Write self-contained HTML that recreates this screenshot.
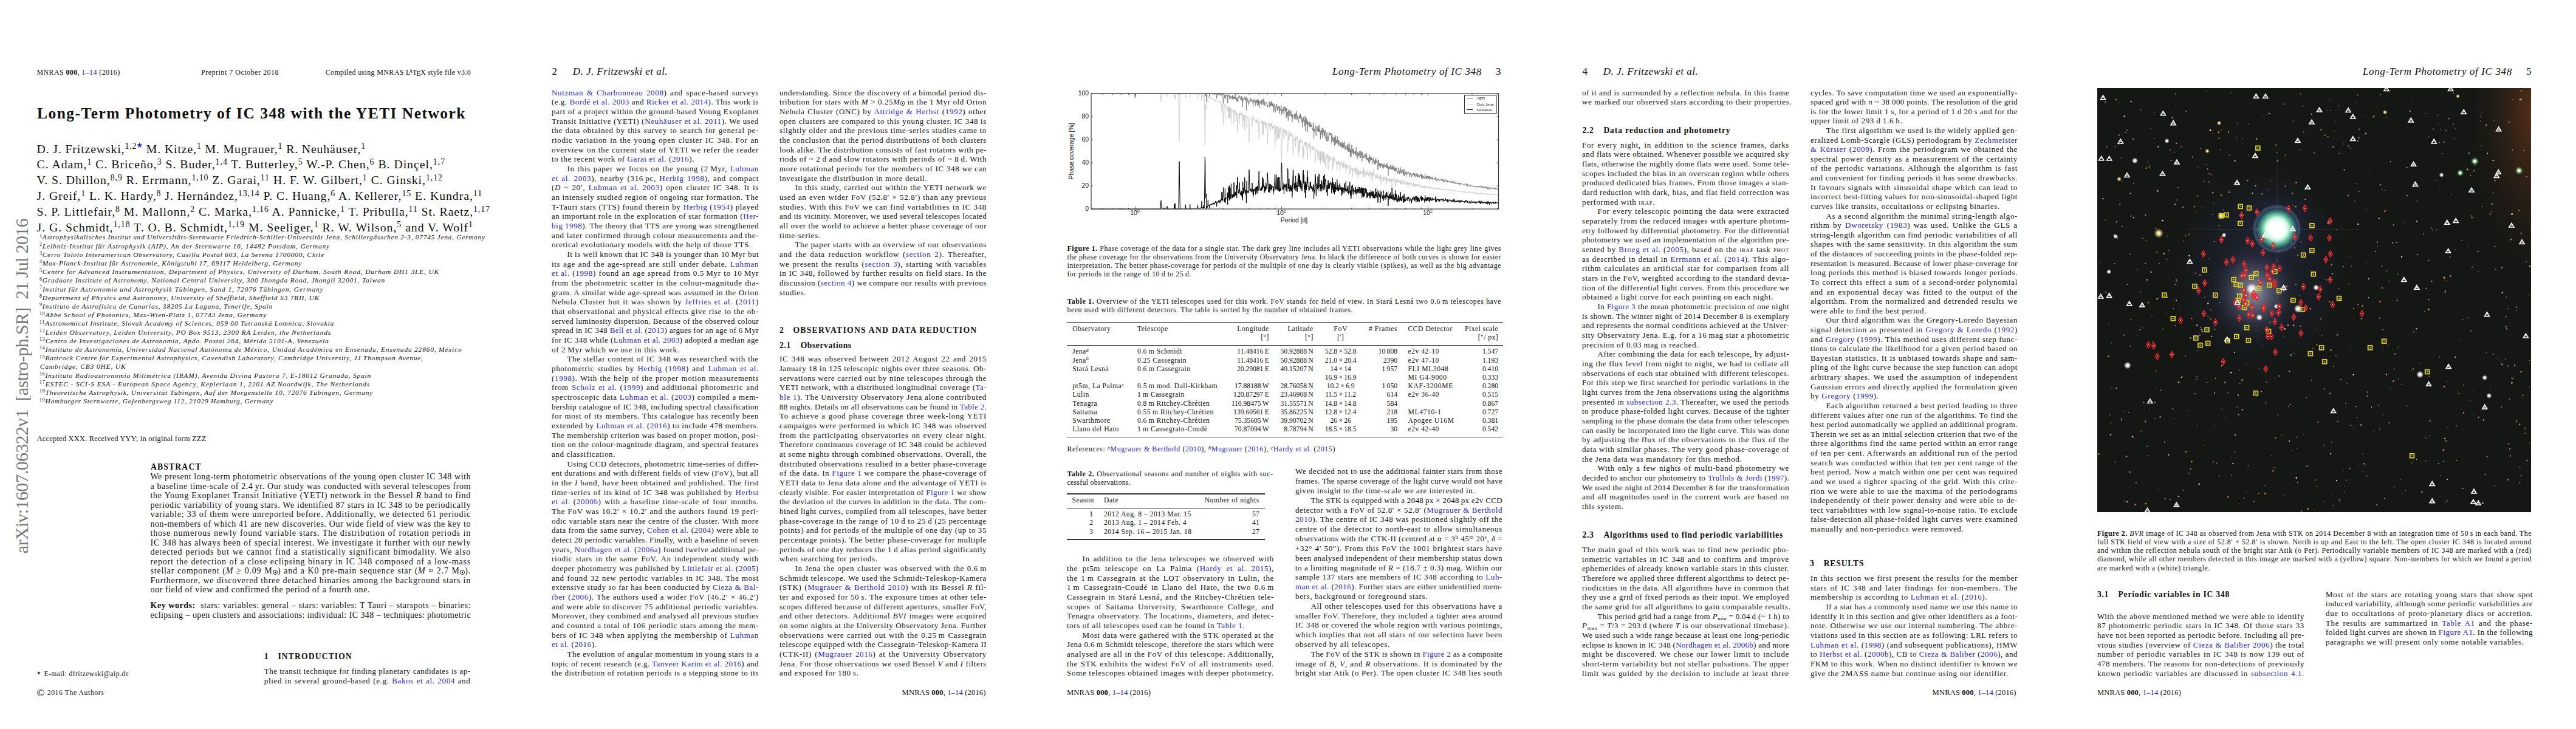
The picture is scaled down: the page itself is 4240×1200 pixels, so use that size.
<!DOCTYPE html>
<html><head><meta charset="utf-8"><title>Long-Term Photometry of IC 348 with the YETI Network</title><style>html,body{margin:0;padding:0;background:#fff}
body{position:relative;width:4240px;height:1200px;overflow:hidden;font-family:"Liberation Serif",serif;color:#111}
body>div{position:absolute;white-space:nowrap;line-height:1}
.j{text-align:justify;text-align-last:justify}
.k{color:#2626cc}
.b{font-size:13px}
.ab{font-size:14px}
.cap{font-size:11.9px}
.tb{font-size:11.6px}
.tn{font-size:11.6px}
.af{font-size:11.4px;font-style:italic}
.af sup{font-style:normal}
.au{font-size:19.8px}
.ti{font-size:25.5px;font-weight:bold}
.rh{font-size:17px}
.h1{font-size:13.6px;font-weight:bold}
.h2{font-size:13.6px;font-weight:bold}
.sm{font-size:12px}
.sm2{font-size:12.4px}
.fn{font-size:11.6px}
.ft{font-size:12.6px}
sup{font-size:70%;vertical-align:0;position:relative;top:-0.45em;line-height:0}
sub{font-size:70%;vertical-align:0;position:relative;top:0.25em;line-height:0}
.bl{color:#2626cc}
.sc{font-variant:small-caps}
sup.la{font-size:72%;top:-0.3em;margin-left:-0.3em;margin-right:-0.1em}
sub.le{font-size:100%;top:0.2em;margin-left:-0.1em;margin-right:-0.1em}
.arx{font-size:29.8px;color:#7a7a7a}
.ax{font-family:"Liberation Sans",sans-serif;font-size:10.4px;color:#111;line-height:1}
sup.e{font-size:70%;top:-0.5em}
.sun{display:inline-block;width:0.42em;height:0.42em;border:0.07em solid currentColor;border-radius:50%;background:radial-gradient(circle,currentColor 0 18%,transparent 26%);vertical-align:-0.12em;margin-left:0.04em}
.gs{display:inline-block;position:relative}
.gs span{position:absolute;left:0;top:0.38em;font-size:0.8em}
svg.star{width:0.55em;height:0.55em;vertical-align:0.55em}
sup svg.star{vertical-align:0.1em;width:0.7em;height:0.7em}
.fn svg.star{vertical-align:0.1em;width:0.5em;height:0.5em}
</style></head><body>
<div style="left:1756.4px;top:529.85px;width:717.6px;height:1.10px;background:#333"></div>
<div style="left:1756.4px;top:567.65px;width:717.6px;height:1.10px;background:#333"></div>
<div style="left:1756.4px;top:718.85px;width:717.6px;height:1.10px;background:#333"></div>
<div style="left:1756.4px;top:812.45px;width:325.6px;height:1.10px;background:#333"></div>
<div style="left:1756.4px;top:835.85px;width:325.6px;height:1.10px;background:#333"></div>
<div style="left:1756.4px;top:887.45px;width:325.6px;height:1.10px;background:#333"></div>
<svg width="670.5" height="190.0" viewBox="0 0 670.5 190.0" style="position:absolute;left:1795.5px;top:154.0px;overflow:visible"><polyline fill="none" stroke="#cccccc" stroke-width="0.90" stroke-linejoin="miter" points="0.0,0.0 0.4,0.0 0.8,0.0 1.2,0.0 1.5,0.0 1.9,0.0 2.3,0.0 2.7,0.0 3.1,0.0 3.5,0.0 3.8,0.0 4.2,0.0 4.6,0.0 5.0,0.0 5.4,0.0 5.8,0.0 6.2,0.0 6.5,0.0 6.9,0.0 7.3,0.0 7.7,0.0 8.1,0.0 8.5,0.0 8.8,0.0 9.2,0.0 9.6,0.0 10.0,0.0 10.4,0.0 10.8,0.0 11.2,0.0 11.5,0.0 11.9,0.0 12.3,0.0 12.7,0.0 13.1,0.0 13.5,0.0 13.8,0.0 14.2,0.0 14.6,0.0 15.0,0.0 15.4,0.0 15.8,0.0 16.2,0.0 16.5,0.0 16.9,0.0 17.3,0.0 17.7,0.0 18.1,0.0 18.5,0.0 18.8,0.0 19.2,0.0 19.6,0.0 20.0,0.0 20.4,0.0 20.8,0.0 21.2,0.0 21.5,0.0 21.9,0.0 22.3,0.0 22.7,0.0 23.1,0.0 23.5,0.0 23.9,0.0 24.2,0.0 24.6,0.0 25.0,0.0 25.4,0.0 25.8,0.0 26.2,0.0 26.5,0.0 26.9,0.0 27.3,0.0 27.7,0.0 28.1,0.0 28.5,0.0 28.9,0.0 29.2,0.0 29.6,0.0 30.0,0.0 30.4,0.0 30.8,0.0 31.2,0.0 31.5,0.0 31.9,0.0 32.3,0.0 32.7,0.0 33.1,0.0 33.5,0.0 33.9,0.0 34.2,0.0 34.6,0.0 35.0,0.0 35.4,0.0 35.8,0.0 36.2,0.0 36.5,0.0 36.9,0.0 37.3,0.0 37.7,0.0 38.1,0.0 38.5,0.0 38.9,0.0 39.2,0.0 39.6,0.0 40.0,0.0 40.4,0.0 40.8,0.0 41.2,0.0 41.5,0.0 41.9,0.0 42.3,0.0 42.7,0.0 43.1,0.0 43.5,0.0 43.9,0.0 44.2,0.0 44.6,0.0 45.0,0.0 45.4,0.0 45.8,0.0 46.2,0.0 46.5,0.0 46.9,0.0 47.3,0.0 47.7,0.0 48.1,0.0 48.5,0.0 48.9,0.0 49.2,0.0 49.6,0.0 50.0,0.0 50.4,0.0 50.8,0.0 51.2,0.0 51.5,0.0 51.9,0.0 52.3,0.0 52.7,0.0 53.1,0.0 53.5,0.0 53.9,0.0 54.2,0.0 54.6,0.0 55.0,0.0 55.4,0.0 55.8,0.0 56.2,0.0 56.5,0.0 56.9,0.0 57.3,0.0 57.7,0.0 58.1,0.0 58.5,0.0 58.9,0.0 59.2,0.0 59.6,0.0 60.0,0.0 60.4,0.0 60.8,0.0 61.2,0.0 61.5,0.0 61.9,0.0 62.3,0.0 62.7,0.0 63.1,0.0 63.5,0.0 63.9,0.0 64.2,0.0 64.6,0.0 65.0,0.0 65.4,0.0 65.8,0.0 66.2,0.0 66.5,0.0 66.9,0.0 67.3,0.0 67.7,0.0 68.1,0.0 68.5,0.0 68.9,0.0 69.2,0.0 69.6,0.0 70.0,0.0 70.4,0.0 70.8,0.0 71.2,0.0 71.6,0.0 71.9,2.1 72.3,7.1 72.7,6.8 73.1,1.8 73.5,0.0 73.9,0.0 74.2,0.0 74.6,0.0 75.0,0.0 75.4,0.0 75.8,0.0 76.2,0.0 76.6,0.0 76.9,0.0 77.3,0.0 77.7,0.0 78.1,0.0 78.5,0.0 78.9,0.0 79.2,0.0 79.6,0.0 80.0,0.0 80.4,0.0 80.8,0.0 81.2,0.0 81.6,0.0 81.9,0.0 82.3,0.0 82.7,0.0 83.1,0.0 83.5,0.0 83.9,0.0 84.2,0.0 84.6,0.0 85.0,0.0 85.4,0.0 85.8,0.0 86.2,0.0 86.6,0.0 86.9,0.0 87.3,0.0 87.7,0.0 88.1,0.0 88.5,0.0 88.9,0.0 89.2,0.0 89.6,0.0 90.0,0.0 90.4,0.0 90.8,0.0 91.2,0.0 91.6,0.0 91.9,0.0 92.3,0.0 92.7,0.0 93.1,0.0 93.5,0.0 93.9,0.0 94.2,0.0 94.6,0.0 95.0,0.0 95.4,0.0 95.8,0.0 96.2,0.0 96.6,0.0 96.9,0.0 97.3,0.0 97.7,0.0 98.1,0.0 98.5,0.0 98.9,0.0 99.2,0.0 99.6,0.0 100.0,0.0 100.4,0.0 100.8,0.0 101.2,0.0 101.6,0.0 101.9,0.0 102.3,0.0 102.7,0.0 103.1,0.0 103.5,0.0 103.9,0.0 104.2,0.0 104.6,0.0 105.0,0.0 105.4,0.0 105.8,0.0 106.2,0.0 106.6,0.0 106.9,0.0 107.3,0.0 107.7,0.0 108.1,0.0 108.5,0.0 108.9,0.0 109.2,0.0 109.6,0.0 110.0,0.0 110.4,0.0 110.8,0.0 111.2,0.0 111.6,0.0 111.9,0.0 112.3,0.0 112.7,0.0 113.1,0.0 113.5,0.0 113.9,0.0 114.3,4.4 114.6,10.4 115.0,13.9 115.4,7.8 115.8,1.8 116.2,0.0 116.6,0.0 116.9,0.0 117.3,0.0 117.7,0.0 118.1,0.0 118.5,0.0 118.9,0.0 119.3,0.0 119.6,0.0 120.0,2.2 120.4,0.0 120.8,0.0 121.2,0.0 121.6,0.0 121.9,0.0 122.3,0.0 122.7,0.0 123.1,0.0 123.5,0.0 123.9,0.0 124.3,0.0 124.6,0.0 125.0,4.8 125.4,0.0 125.8,0.0 126.2,0.0 126.6,0.0 126.9,0.0 127.3,0.0 127.7,0.0 128.1,0.0 128.5,0.0 128.9,0.0 129.3,0.0 129.6,0.0 130.0,0.0 130.4,0.0 130.8,0.0 131.2,0.0 131.6,0.0 131.9,0.0 132.3,0.0 132.7,0.0 133.1,0.0 133.5,0.0 133.9,0.0 134.3,0.0 134.6,0.0 135.0,0.0 135.4,0.0 135.8,0.0 136.2,0.2 136.6,5.2 136.9,8.7 137.3,3.7 137.7,0.0 138.1,9.1 138.5,0.0 138.9,0.0 139.3,0.0 139.6,0.0 140.0,0.0 140.4,0.0 140.8,0.0 141.2,0.0 141.6,0.0 141.9,0.0 142.3,0.0 142.7,0.0 143.1,0.0 143.5,0.0 143.9,1.8 144.3,27.3 144.6,52.8 145.0,78.3 145.4,55.9 145.8,30.4 146.2,4.9 146.6,0.0 146.9,0.0 147.3,0.0 147.7,0.0 148.1,0.0 148.5,0.0 148.9,0.0 149.3,0.0 149.6,0.0 150.0,0.0 150.4,0.0 150.8,0.0 151.2,0.0 151.6,0.0 151.9,0.0 152.3,0.0 152.7,0.0 153.1,0.0 153.5,0.0 153.9,0.0 154.3,0.0 154.6,0.0 155.0,0.0 155.4,7.1 155.8,0.0 156.2,0.0 156.6,0.0 157.0,0.0 157.3,0.0 157.7,0.0 158.1,0.0 158.5,0.0 158.9,0.0 159.3,0.0 159.6,0.0 160.0,0.0 160.4,0.0 160.8,0.0 161.2,0.0 161.6,0.0 162.0,0.0 162.3,0.0 162.7,7.8 163.1,0.0 163.5,0.1 163.9,0.0 164.3,0.0 164.6,0.1 165.0,0.0 165.4,0.2 165.8,0.0 166.2,0.6 166.6,0.4 167.0,0.3 167.3,0.2 167.7,0.4 168.1,0.2 168.5,0.6 168.9,0.6 169.3,0.6 169.6,0.6 170.0,1.1 170.4,0.9 170.8,1.0 171.2,1.0 171.6,0.5 172.0,0.7 172.3,1.0 172.7,1.3 173.1,1.2 173.5,0.8 173.9,1.4 174.3,1.2 174.6,1.5 175.0,1.4 175.4,6.7 175.8,1.3 176.2,1.7 176.6,1.8 177.0,1.7 177.3,1.4 177.7,2.0 178.1,1.7 178.5,1.4 178.9,2.0 179.3,1.9 179.6,1.7 180.0,2.0 180.4,2.1 180.8,2.3 181.2,2.3 181.6,2.0 182.0,12.7 182.3,2.7 182.7,2.2 183.1,2.2 183.5,3.0 183.9,2.7 184.3,2.2 184.6,1.9 185.0,6.0 185.4,1.9 185.8,3.1 186.2,2.4 186.6,25.6 187.0,54.9 187.3,85.5 187.7,78.3 188.1,47.6 188.5,18.3 188.9,20.1 189.3,25.2 189.6,3.7 190.0,4.8 190.4,3.7 190.8,4.4 191.2,3.3 191.6,4.7 192.0,5.6 192.3,14.6 192.7,5.3 193.1,5.5 193.5,5.3 193.9,6.1 194.3,6.5 194.6,6.4 195.0,5.1 195.4,6.9 195.8,7.8 196.2,6.6 196.6,7.5 197.0,7.5 197.3,7.1 197.7,8.0 198.1,7.2 198.5,6.4 198.9,8.3 199.3,9.5 199.6,8.9 200.0,8.6 200.4,9.0 200.8,9.6 201.2,8.9 201.6,8.4 202.0,11.1 202.3,9.7 202.7,9.4 203.1,9.5 203.5,9.8 203.9,11.7 204.3,10.8 204.7,12.8 205.0,11.6 205.4,12.5 205.8,11.7 206.2,12.1 206.6,11.7 207.0,11.5 207.3,10.9 207.7,11.0 208.1,11.6 208.5,12.6 208.9,12.0 209.3,13.0 209.7,14.0 210.0,13.1 210.4,13.7 210.8,12.9 211.2,14.8 211.6,13.7 212.0,13.1 212.3,15.0 212.7,14.3 213.1,13.3 213.5,16.0 213.9,16.4 214.3,16.6 214.7,16.5 215.0,28.7 215.4,16.0 215.8,16.2 216.2,18.1 216.6,22.5 217.0,34.5 217.3,44.6 217.7,51.1 218.1,37.4 218.5,27.5 218.9,17.3 219.3,19.1 219.7,18.6 220.0,17.9 220.4,38.4 220.8,19.3 221.2,20.1 221.6,20.5 222.0,21.3 222.3,21.2 222.7,20.2 223.1,21.6 223.5,21.3 223.9,20.1 224.3,28.7 224.7,22.8 225.0,23.4 225.4,21.9 225.8,39.7 226.2,22.8 226.6,22.7 227.0,22.8 227.3,41.4 227.7,23.0 228.1,40.9 228.5,23.7 228.9,37.5 229.3,24.0 229.7,23.6 230.0,23.8 230.4,48.2 230.8,26.7 231.2,27.4 231.6,27.0 232.0,27.8 232.3,25.9 232.7,26.3 233.1,27.6 233.5,30.1 233.9,28.5 234.3,28.3 234.7,28.0 235.0,49.3 235.4,27.0 235.8,29.2 236.2,28.4 236.6,30.0 237.0,28.4 237.3,31.7 237.7,35.1 238.1,31.6 238.5,32.1 238.9,34.2 239.3,45.9 239.7,30.6 240.0,40.9 240.4,49.4 240.8,63.6 241.2,60.6 241.6,46.4 242.0,37.4 242.3,32.9 242.7,33.8 243.1,33.8 243.5,32.1 243.9,49.7 244.3,32.8 244.7,36.0 245.0,31.9 245.4,33.6 245.8,34.7 246.2,36.1 246.6,32.9 247.0,35.7 247.4,31.7 247.7,33.7 248.1,34.8 248.5,31.6 248.9,34.6 249.3,36.7 249.7,54.8 250.0,34.2 250.4,36.3 250.8,44.2 251.2,36.1 251.6,39.1 252.0,35.4 252.4,35.6 252.7,59.4 253.1,37.8 253.5,36.3 253.9,37.1 254.3,35.5 254.7,35.1 255.0,36.4 255.4,37.9 255.8,36.9 256.2,56.1 256.6,38.0 257.0,39.1 257.4,38.3 257.7,37.8 258.1,40.6 258.5,40.0 258.9,39.9 259.3,50.8 259.7,64.0 260.0,80.8 260.4,64.5 260.8,51.4 261.2,41.4 261.6,40.0 262.0,41.2 262.4,40.7 262.7,41.8 263.1,41.6 263.5,41.3 263.9,39.3 264.3,39.1 264.7,40.6 265.0,55.1 265.4,43.1 265.8,43.7 266.2,41.5 266.6,42.1 267.0,43.2 267.4,36.9 267.7,41.8 268.1,41.9 268.5,41.9 268.9,41.4 269.3,45.5 269.7,46.3 270.0,46.2 270.4,43.6 270.8,43.5 271.2,47.6 271.6,43.2 272.0,42.4 272.4,47.9 272.7,42.8 273.1,44.9 273.5,47.7 273.9,49.3 274.3,44.8 274.7,45.1 275.0,45.8 275.4,56.6 275.8,62.9 276.2,75.1 276.6,67.9 277.0,55.9 277.4,48.6 277.7,49.7 278.1,45.7 278.5,46.5 278.9,47.7 279.3,46.1 279.7,47.0 280.0,48.6 280.4,47.7 280.8,47.3 281.2,44.4 281.6,45.3 282.0,67.3 282.4,49.7 282.7,45.2 283.1,68.4 283.5,48.8 283.9,47.0 284.3,50.8 284.7,49.3 285.0,46.6 285.4,50.7 285.8,47.2 286.2,46.5 286.6,55.7 287.0,48.1 287.4,49.0 287.7,57.2 288.1,48.1 288.5,48.2 288.9,50.5 289.3,58.6 289.7,68.5 290.0,82.5 290.4,77.6 290.8,69.8 291.2,57.6 291.6,48.1 292.0,49.2 292.4,49.8 292.7,49.2 293.1,54.7 293.5,51.1 293.9,50.1 294.3,53.8 294.7,48.8 295.1,52.2 295.4,61.3 295.8,48.5 296.2,50.2 296.6,52.8 297.0,51.8 297.4,50.4 297.7,54.3 298.1,57.9 298.5,54.4 298.9,58.2 299.3,52.6 299.7,54.5 300.1,55.9 300.4,56.6 300.8,52.4 301.2,51.6 301.6,60.9 302.0,73.2 302.4,86.8 302.7,83.1 303.1,69.7 303.5,57.7 303.9,53.9 304.3,54.2 304.7,77.6 305.1,53.9 305.4,54.2 305.8,56.3 306.2,60.6 306.6,74.0 307.0,55.0 307.4,57.4 307.7,59.1 308.1,54.8 308.5,74.2 308.9,60.9 309.3,57.3 309.7,58.1 310.1,61.7 310.4,74.0 310.8,60.6 311.2,58.3 311.6,62.5 312.0,55.6 312.4,60.2 312.7,78.2 313.1,93.9 313.5,110.9 313.9,93.0 314.3,72.0 314.7,60.7 315.1,61.1 315.4,59.2 315.8,60.6 316.2,58.6 316.6,61.3 317.0,73.9 317.4,59.2 317.7,62.7 318.1,58.6 318.5,62.7 318.9,62.9 319.3,61.9 319.7,65.2 320.1,65.2 320.4,59.1 320.8,67.7 321.2,69.8 321.6,61.6 322.0,65.6 322.4,65.3 322.7,79.2 323.1,92.4 323.5,97.1 323.9,95.6 324.3,77.7 324.7,69.3 325.1,61.3 325.4,66.5 325.8,76.9 326.2,65.6 326.6,66.4 327.0,66.8 327.4,64.9 327.7,68.6 328.1,66.7 328.5,71.4 328.9,63.2 329.3,70.1 329.7,68.5 330.1,68.0 330.4,69.0 330.8,66.5 331.2,68.4 331.6,74.8 332.0,90.1 332.4,99.6 332.7,99.8 333.1,89.6 333.5,77.0 333.9,72.6 334.3,74.2 334.7,78.0 335.1,76.5 335.4,68.6 335.8,72.8 336.2,74.3 336.6,87.8 337.0,72.4 337.4,72.3 337.8,71.7 338.1,72.4 338.5,70.9 338.9,75.5 339.3,70.1 339.7,78.7 340.1,81.9 340.4,91.4 340.8,102.7 341.2,98.7 341.6,88.7 342.0,78.7 342.4,95.5 342.8,76.3 343.1,79.0 343.5,90.4 343.9,77.3 344.3,79.9 344.7,75.0 345.1,73.0 345.4,77.6 345.8,81.8 346.2,79.9 346.6,79.2 347.0,77.4 347.4,80.3 347.8,80.8 348.1,96.6 348.5,104.4 348.9,107.0 349.3,102.7 349.7,87.6 350.1,102.3 350.4,81.3 350.8,79.9 351.2,84.0 351.6,80.9 352.0,82.4 352.4,86.1 352.8,79.9 353.1,84.7 353.5,82.8 353.9,79.9 354.3,80.8 354.7,82.7 355.1,92.5 355.4,96.8 355.8,108.2 356.2,106.4 356.6,99.4 357.0,84.3 357.4,87.1 357.8,86.9 358.1,81.4 358.5,84.5 358.9,84.0 359.3,86.2 359.7,81.6 360.1,91.2 360.4,90.7 360.8,85.4 361.2,99.8 361.6,89.9 362.0,88.9 362.4,87.9 362.8,87.6 363.1,87.6 363.5,86.6 363.9,92.6 364.3,92.4 364.7,86.0 365.1,93.3 365.4,92.5 365.8,92.3 366.2,88.2 366.6,90.2 367.0,89.9 367.4,89.9 367.8,91.4 368.1,92.4 368.5,106.7 368.9,109.3 369.3,112.8 369.7,99.8 370.1,97.3 370.4,90.9 370.8,90.9 371.2,95.9 371.6,92.8 372.0,95.3 372.4,94.6 372.8,95.5 373.1,107.2 373.5,92.8 373.9,97.1 374.3,96.8 374.7,96.1 375.1,110.0 375.4,97.5 375.8,99.7 376.2,97.7 376.6,95.9 377.0,94.9 377.4,116.1 377.8,95.5 378.1,98.2 378.5,99.1 378.9,97.7 379.3,108.7 379.7,96.9 380.1,94.6 380.5,99.4 380.8,113.2 381.2,109.6 381.6,103.0 382.0,99.3 382.4,113.0 382.8,96.1 383.1,99.8 383.5,102.5 383.9,117.3 384.3,102.7 384.7,100.3 385.1,106.5 385.5,107.9 385.8,120.5 386.2,122.1 386.6,111.5 387.0,105.9 387.4,102.9 387.8,99.1 388.1,103.1 388.5,104.5 388.9,106.6 389.3,100.6 389.7,109.0 390.1,124.9 390.5,104.1 390.8,106.3 391.2,103.4 391.6,105.4 392.0,111.2 392.4,102.2 392.8,103.6 393.1,106.9 393.5,111.8 393.9,110.6 394.3,110.8 394.7,107.6 395.1,108.0 395.5,105.5 395.8,107.2 396.2,104.7 396.6,109.6 397.0,112.1 397.4,126.3 397.8,110.9 398.1,107.0 398.5,120.6 398.9,107.5 399.3,109.8 399.7,102.7 400.1,111.8 400.5,109.7 400.8,105.2 401.2,110.1 401.6,112.1 402.0,112.2 402.4,113.1 402.8,112.9 403.1,114.2 403.5,116.4 403.9,111.5 404.3,112.6 404.7,127.4 405.1,113.6 405.5,112.5 405.8,114.0 406.2,113.3 406.6,116.5 407.0,116.9 407.4,115.4 407.8,110.8 408.1,115.1 408.5,113.0 408.9,121.2 409.3,128.5 409.7,126.1 410.1,114.7 410.5,118.1 410.8,117.8 411.2,117.1 411.6,115.6 412.0,116.1 412.4,110.6 412.8,114.3 413.1,113.4 413.5,121.6 413.9,119.0 414.3,114.3 414.7,111.7 415.1,121.9 415.5,116.0 415.8,120.3 416.2,112.4 416.6,114.4 417.0,121.2 417.4,122.4 417.8,121.7 418.1,121.4 418.5,117.4 418.9,121.2 419.3,130.9 419.7,118.2 420.1,120.1 420.5,115.8 420.8,120.5 421.2,124.0 421.6,119.6 422.0,123.4 422.4,120.8 422.8,120.8 423.1,121.0 423.5,119.9 423.9,119.8 424.3,117.4 424.7,117.7 425.1,123.3 425.5,123.9 425.8,133.8 426.2,123.9 426.6,128.6 427.0,118.3 427.4,122.2 427.8,121.7 428.2,122.6 428.5,124.7 428.9,122.9 429.3,124.1 429.7,128.6 430.1,137.2 430.5,123.9 430.8,123.2 431.2,124.0 431.6,125.9 432.0,123.3 432.4,127.8 432.8,125.7 433.2,128.6 433.5,127.8 433.9,125.7 434.3,122.6 434.7,133.0 435.1,132.1 435.5,121.7 435.8,126.7 436.2,121.5 436.6,127.4 437.0,131.5 437.4,127.9 437.8,132.9 438.2,134.9 438.5,129.3 438.9,123.9 439.3,138.4 439.7,127.9 440.1,128.5 440.5,132.0 440.8,129.1 441.2,129.8 441.6,133.1 442.0,126.8 442.4,128.9 442.8,129.8 443.2,126.9 443.5,133.1 443.9,128.3 444.3,128.0 444.7,129.5 445.1,131.5 445.5,130.7 445.8,130.3 446.2,131.5 446.6,131.1 447.0,127.0 447.4,137.1 447.8,133.1 448.2,137.9 448.5,122.7 448.9,132.7 449.3,136.5 449.7,127.9 450.1,125.5 450.5,127.6 450.8,131.4 451.2,130.9 451.6,134.3 452.0,130.5 452.4,133.7 452.8,129.9 453.2,133.8 453.5,130.6 453.9,128.0 454.3,128.8 454.7,126.7 455.1,133.4 455.5,130.0 455.8,132.4 456.2,131.2 456.6,135.6 457.0,130.4 457.4,131.2 457.8,132.7 458.2,134.5 458.5,128.5 458.9,128.0 459.3,126.8 459.7,131.6 460.1,135.2 460.5,143.1 460.8,132.8 461.2,130.3 461.6,129.8 462.0,135.6 462.4,130.3 462.8,133.2 463.2,130.0 463.5,145.0 463.9,133.8 464.3,134.5 464.7,124.8 465.1,135.1 465.5,135.1 465.8,134.8 466.2,134.0 466.6,133.7 467.0,132.8 467.4,134.6 467.8,134.6 468.2,140.3 468.5,135.2 468.9,135.5 469.3,137.7 469.7,139.3 470.1,132.5 470.5,139.9 470.9,138.2 471.2,134.6 471.6,137.4 472.0,136.0 472.4,140.2 472.8,138.0 473.2,137.4 473.5,138.1 473.9,140.7 474.3,140.3 474.7,137.0 475.1,138.6 475.5,145.6 475.9,133.4 476.2,140.5 476.6,134.3 477.0,141.0 477.4,148.0 477.8,142.7 478.2,138.5 478.5,138.7 478.9,139.0 479.3,136.7 479.7,138.6 480.1,141.6 480.5,141.3 480.9,145.6 481.2,137.0 481.6,140.5 482.0,143.6 482.4,137.9 482.8,137.0 483.2,138.2 483.5,140.5 483.9,137.0 484.3,141.0 484.7,138.9 485.1,143.4 485.5,138.6 485.9,149.8 486.2,142.4 486.6,138.9 487.0,143.3 487.4,139.9 487.8,142.2 488.2,144.6 488.5,143.2 488.9,140.3 489.3,141.8 489.7,140.5 490.1,141.0 490.5,141.6 490.9,145.9 491.2,142.7 491.6,140.8 492.0,141.9 492.4,144.7 492.8,143.0 493.2,143.1 493.5,139.7 493.9,139.8 494.3,143.7 494.7,141.2 495.1,155.7 495.5,145.5 495.9,144.0 496.2,141.1 496.6,143.8 497.0,144.3 497.4,143.1 497.8,140.0 498.2,141.2 498.5,140.0 498.9,139.6 499.3,143.8 499.7,142.9 500.1,144.4 500.5,154.1 500.9,143.3 501.2,143.2 501.6,148.3 502.0,141.3 502.4,145.3 502.8,145.9 503.2,140.5 503.5,144.6 503.9,146.1 504.3,144.6 504.7,142.5 505.1,145.6 505.5,143.2 505.9,145.4 506.2,141.8 506.6,144.3 507.0,143.7 507.4,144.6 507.8,145.6 508.2,146.8 508.5,142.3 508.9,146.5 509.3,149.2 509.7,144.7 510.1,149.6 510.5,144.2 510.9,143.2 511.2,143.7 511.6,145.9 512.0,142.5 512.4,146.0 512.8,147.2 513.2,147.4 513.5,149.8 513.9,143.3 514.3,146.1 514.7,146.6 515.1,149.1 515.5,146.9 515.9,147.1 516.2,149.1 516.6,145.9 517.0,145.6 517.4,146.1 517.8,147.0 518.2,147.2 518.6,150.0 518.9,146.1 519.3,147.6 519.7,149.7 520.1,145.6 520.5,150.4 520.9,150.3 521.2,144.8 521.6,148.2 522.0,148.6 522.4,147.8 522.8,150.5 523.2,146.9 523.6,152.6 523.9,146.2 524.3,147.5 524.7,147.3 525.1,149.6 525.5,147.8 525.9,148.3 526.2,147.3 526.6,147.4 527.0,147.6 527.4,148.9 527.8,149.1 528.2,149.8 528.6,148.9 528.9,153.2 529.3,148.8 529.7,149.0 530.1,151.1 530.5,147.4 530.9,150.0 531.2,151.9 531.6,148.4 532.0,150.8 532.4,149.7 532.8,151.0 533.2,153.8 533.6,149.4 533.9,152.5 534.3,151.7 534.7,147.9 535.1,151.2 535.5,150.2 535.9,152.4 536.2,150.8 536.6,150.9 537.0,149.0 537.4,149.9 537.8,152.2 538.2,151.3 538.6,150.3 538.9,152.6 539.3,150.7 539.7,149.6 540.1,152.1 540.5,149.8 540.9,150.3 541.2,152.0 541.6,151.3 542.0,151.5 542.4,152.0 542.8,154.4 543.2,154.1 543.6,153.4 543.9,151.1 544.3,152.4 544.7,155.2 545.1,152.5 545.5,154.4 545.9,154.9 546.2,153.0 546.6,153.0 547.0,154.9 547.4,152.9 547.8,152.0 548.2,156.3 548.6,151.1 548.9,153.2 549.3,152.9 549.7,154.4 550.1,154.6 550.5,153.4 550.9,152.6 551.2,153.7 551.6,154.5 552.0,153.6 552.4,155.0 552.8,155.5 553.2,153.6 553.6,155.4 553.9,155.4 554.3,154.3 554.7,153.8 555.1,154.9 555.5,156.2 555.9,154.9 556.2,154.3 556.6,155.8 557.0,153.7 557.4,155.8 557.8,155.8 558.2,154.7 558.6,156.3 558.9,157.2 559.3,155.5 559.7,154.0 560.1,154.2 560.5,154.0 560.9,155.5 561.3,155.8 561.6,156.4 562.0,154.5 562.4,156.7 562.8,156.3 563.2,156.0 563.6,156.3 563.9,155.5 564.3,156.7 564.7,156.7 565.1,157.4 565.5,155.6 565.9,156.8 566.3,156.8 566.6,154.9 567.0,157.4 567.4,155.9 567.8,157.7 568.2,156.0 568.6,155.3 568.9,156.5 569.3,157.1 569.7,156.9 570.1,156.8 570.5,157.2 570.9,157.4 571.3,155.4 571.6,156.7 572.0,156.1 572.4,157.1 572.8,156.8 573.2,158.2 573.6,155.6 573.9,156.8 574.3,157.5 574.7,156.4 575.1,156.9 575.5,157.7 575.9,157.9 576.3,157.7 576.6,158.0 577.0,157.7 577.4,158.2 577.8,158.2 578.2,156.8 578.6,158.6 578.9,158.2 579.3,157.5 579.7,158.2 580.1,157.0 580.5,158.1 580.9,157.6 581.3,157.9 581.6,157.4 582.0,158.5 582.4,158.3 582.8,158.6 583.2,158.7 583.6,157.6 583.9,158.5 584.3,158.5 584.7,158.3 585.1,158.1 585.5,159.1 585.9,158.9 586.3,157.4 586.6,159.3 587.0,159.4 587.4,158.0 587.8,157.1 588.2,157.0 588.6,158.8 588.9,159.1 589.3,159.0 589.7,159.8 590.1,160.4 590.5,159.1 590.9,159.2 591.3,159.0 591.6,159.3 592.0,159.3 592.4,158.6 592.8,160.0 593.2,159.4 593.6,158.3 593.9,158.6 594.3,158.2 594.7,159.6 595.1,159.8 595.5,159.9 595.9,161.4 596.3,159.1 596.6,159.4 597.0,159.1 597.4,160.5 597.8,160.0 598.2,160.3 598.6,160.9 598.9,159.0 599.3,159.8 599.7,159.9 600.1,160.9 600.5,159.6 600.9,160.7 601.3,159.9 601.6,160.4 602.0,160.2 602.4,161.0 602.8,161.0 603.2,160.2 603.6,160.2 604.0,161.1 604.3,161.8 604.7,160.5 605.1,161.2 605.5,160.6 605.9,160.6 606.3,160.4 606.6,160.7 607.0,161.2 607.4,160.7 607.8,160.6 608.2,161.7 608.6,161.0 609.0,161.2 609.3,162.1 609.7,160.6 610.1,161.1 610.5,161.2 610.9,162.5 611.3,161.6 611.6,162.2 612.0,161.9 612.4,161.7 612.8,161.1 613.2,161.5 613.6,163.8 614.0,161.4 614.3,162.3 614.7,161.4 615.1,161.8 615.5,161.7 615.9,162.2 616.3,161.7 616.6,162.1 617.0,162.9 617.4,162.8 617.8,162.8 618.2,162.3 618.6,162.4 619.0,163.4 619.3,163.3 619.7,162.2 620.1,162.9 620.5,162.4 620.9,163.2 621.3,161.9 621.6,162.0 622.0,161.0 622.4,162.8 622.8,162.3 623.2,163.7 623.6,161.9 624.0,163.4 624.3,162.4 624.7,163.1 625.1,162.1 625.5,163.2 625.9,163.9 626.3,164.0 626.6,163.5 627.0,163.7 627.4,162.7 627.8,163.4 628.2,162.9 628.6,163.8 629.0,162.8 629.3,163.6 629.7,164.0 630.1,163.8 630.5,164.7 630.9,164.5 631.3,162.3 631.6,163.9 632.0,163.2 632.4,165.1 632.8,163.8 633.2,163.2 633.6,163.5 634.0,163.2 634.3,164.5 634.7,162.9 635.1,164.9 635.5,164.9 635.9,164.0 636.3,164.1 636.6,164.5 637.0,165.8 637.4,164.8 637.8,164.1 638.2,165.4 638.6,164.4 639.0,163.7 639.3,165.9 639.7,165.6 640.1,164.3 640.5,162.9 640.9,164.3 641.3,163.2 641.6,165.2 642.0,165.9 642.4,164.6 642.8,165.4 643.2,163.9 643.6,164.6 644.0,165.2 644.3,164.9 644.7,164.9 645.1,164.2 645.5,164.2 645.9,165.4 646.3,165.0 646.6,165.5 647.0,163.9 647.4,165.5 647.8,165.7 648.2,165.1 648.6,164.5 649.0,165.8 649.3,165.1 649.7,164.8 650.1,164.4 650.5,164.2 650.9,164.2 651.3,164.7 651.7,165.5 652.0,166.8 652.4,164.5 652.8,165.5 653.2,165.5 653.6,164.9 654.0,167.1 654.3,166.0 654.7,166.2 655.1,164.8 655.5,165.2 655.9,165.6 656.3,166.0 656.7,165.9 657.0,165.6 657.4,166.1 657.8,166.9 658.2,166.2 658.6,166.3 659.0,165.3 659.3,165.0 659.7,165.9 660.1,166.9 660.5,166.1 660.9,166.6 661.3,165.8 661.7,166.6 662.0,165.4 662.4,166.0 662.8,166.8 663.2,166.4 663.6,167.5 664.0,166.5 664.3,165.6 664.7,166.4 665.1,166.0 665.5,166.8 665.9,167.1 666.3,167.6 666.7,166.9 667.0,166.1 667.4,167.5 667.8,167.3 668.2,167.4 668.6,167.2 669.0,167.3 669.3,167.1 669.7,166.8 670.1,168.0 670.5,168.0"/><polyline fill="none" stroke="#7a7a7a" stroke-width="0.90" stroke-linejoin="miter" points="0.0,0.0 0.4,0.0 0.8,0.0 1.2,0.0 1.5,0.0 1.9,0.0 2.3,0.0 2.7,0.0 3.1,0.0 3.5,0.0 3.8,0.0 4.2,0.0 4.6,0.0 5.0,0.0 5.4,0.0 5.8,0.0 6.2,0.0 6.5,0.0 6.9,0.0 7.3,0.0 7.7,0.0 8.1,0.0 8.5,0.0 8.8,0.0 9.2,0.0 9.6,0.0 10.0,0.0 10.4,0.0 10.8,0.0 11.2,0.0 11.5,0.0 11.9,0.0 12.3,0.0 12.7,0.0 13.1,0.0 13.5,0.0 13.8,0.0 14.2,0.0 14.6,0.0 15.0,0.0 15.4,0.0 15.8,0.0 16.2,0.0 16.5,0.0 16.9,0.0 17.3,0.0 17.7,0.0 18.1,0.0 18.5,0.0 18.8,0.0 19.2,0.0 19.6,0.0 20.0,0.0 20.4,0.0 20.8,0.0 21.2,0.0 21.5,0.0 21.9,0.0 22.3,0.0 22.7,0.0 23.1,0.0 23.5,0.0 23.9,0.0 24.2,0.0 24.6,0.0 25.0,0.0 25.4,0.0 25.8,0.0 26.2,0.0 26.5,0.0 26.9,0.0 27.3,0.0 27.7,0.0 28.1,0.0 28.5,0.0 28.9,0.0 29.2,0.0 29.6,0.0 30.0,0.0 30.4,0.0 30.8,0.0 31.2,0.0 31.5,0.0 31.9,0.0 32.3,0.0 32.7,0.0 33.1,0.0 33.5,0.0 33.9,0.0 34.2,0.0 34.6,0.0 35.0,0.0 35.4,0.0 35.8,0.0 36.2,0.0 36.5,0.0 36.9,0.0 37.3,0.0 37.7,0.0 38.1,0.0 38.5,0.0 38.9,0.0 39.2,0.0 39.6,0.0 40.0,0.0 40.4,0.0 40.8,0.0 41.2,0.0 41.5,0.0 41.9,0.0 42.3,0.0 42.7,0.0 43.1,0.0 43.5,0.0 43.9,0.0 44.2,0.0 44.6,0.0 45.0,0.0 45.4,0.0 45.8,0.0 46.2,0.0 46.5,0.0 46.9,0.0 47.3,0.0 47.7,0.0 48.1,0.0 48.5,0.0 48.9,0.0 49.2,0.0 49.6,0.0 50.0,0.0 50.4,0.0 50.8,0.0 51.2,0.0 51.5,0.0 51.9,0.0 52.3,0.0 52.7,0.0 53.1,0.0 53.5,0.0 53.9,0.0 54.2,0.0 54.6,0.0 55.0,0.0 55.4,0.0 55.8,0.0 56.2,0.0 56.5,0.0 56.9,0.0 57.3,0.0 57.7,0.0 58.1,0.0 58.5,0.0 58.9,0.0 59.2,0.0 59.6,0.0 60.0,0.0 60.4,0.0 60.8,0.0 61.2,0.0 61.5,0.0 61.9,0.0 62.3,0.0 62.7,0.0 63.1,0.0 63.5,0.0 63.9,0.0 64.2,0.0 64.6,0.0 65.0,0.0 65.4,0.0 65.8,0.0 66.2,0.0 66.5,0.0 66.9,0.0 67.3,0.0 67.7,0.0 68.1,0.0 68.5,0.0 68.9,0.0 69.2,0.0 69.6,0.0 70.0,0.0 70.4,0.0 70.8,0.0 71.2,0.0 71.6,0.0 71.9,2.1 72.3,7.1 72.7,6.8 73.1,1.8 73.5,0.0 73.9,0.0 74.2,0.0 74.6,0.0 75.0,0.0 75.4,0.0 75.8,0.0 76.2,0.0 76.6,0.0 76.9,0.0 77.3,0.0 77.7,0.0 78.1,0.0 78.5,0.0 78.9,0.0 79.2,0.0 79.6,0.0 80.0,0.0 80.4,0.0 80.8,0.0 81.2,0.0 81.6,0.0 81.9,0.0 82.3,0.0 82.7,0.0 83.1,0.0 83.5,0.0 83.9,0.0 84.2,0.0 84.6,0.0 85.0,0.0 85.4,0.0 85.8,0.0 86.2,0.0 86.6,0.0 86.9,0.0 87.3,0.0 87.7,0.0 88.1,0.0 88.5,0.0 88.9,0.0 89.2,0.0 89.6,0.0 90.0,0.0 90.4,0.0 90.8,0.0 91.2,0.0 91.6,0.0 91.9,0.0 92.3,0.0 92.7,0.0 93.1,0.0 93.5,0.0 93.9,0.0 94.2,0.0 94.6,0.0 95.0,0.0 95.4,0.0 95.8,0.0 96.2,0.0 96.6,0.0 96.9,0.0 97.3,0.0 97.7,0.0 98.1,0.0 98.5,0.0 98.9,0.0 99.2,0.0 99.6,0.0 100.0,0.0 100.4,0.0 100.8,0.0 101.2,0.0 101.6,0.0 101.9,0.0 102.3,0.0 102.7,0.0 103.1,0.0 103.5,0.0 103.9,0.0 104.2,0.0 104.6,0.0 105.0,0.0 105.4,0.0 105.8,0.0 106.2,0.0 106.6,0.0 106.9,0.0 107.3,0.0 107.7,0.0 108.1,0.0 108.5,0.0 108.9,0.0 109.2,0.0 109.6,0.0 110.0,0.0 110.4,0.0 110.8,0.0 111.2,0.0 111.6,0.0 111.9,0.0 112.3,0.0 112.7,0.0 113.1,0.0 113.5,0.0 113.9,0.0 114.3,0.0 114.6,0.0 115.0,0.0 115.4,0.0 115.8,0.0 116.2,0.0 116.6,0.0 116.9,0.0 117.3,0.0 117.7,0.0 118.1,0.0 118.5,0.0 118.9,0.0 119.3,0.0 119.6,0.0 120.0,0.0 120.4,0.0 120.8,0.0 121.2,0.0 121.6,0.0 121.9,0.0 122.3,0.0 122.7,0.0 123.1,0.0 123.5,0.0 123.9,0.0 124.3,0.0 124.6,0.0 125.0,0.0 125.4,0.0 125.8,0.0 126.2,0.0 126.6,0.0 126.9,0.0 127.3,0.0 127.7,0.0 128.1,0.0 128.5,0.0 128.9,0.0 129.3,0.0 129.6,0.0 130.0,0.0 130.4,0.0 130.8,0.0 131.2,0.0 131.6,0.0 131.9,0.0 132.3,0.0 132.7,0.0 133.1,0.0 133.5,0.0 133.9,0.0 134.3,0.0 134.6,0.0 135.0,0.0 135.4,0.0 135.8,0.0 136.2,0.0 136.6,0.0 136.9,0.0 137.3,0.0 137.7,0.0 138.1,0.0 138.5,0.0 138.9,0.0 139.3,0.0 139.6,0.0 140.0,0.0 140.4,0.0 140.8,0.0 141.2,0.0 141.6,0.0 141.9,0.0 142.3,0.0 142.7,0.0 143.1,0.0 143.5,0.0 143.9,0.0 144.3,0.0 144.6,0.0 145.0,0.0 145.4,0.0 145.8,0.0 146.2,0.0 146.6,0.0 146.9,0.0 147.3,0.0 147.7,0.0 148.1,0.0 148.5,0.0 148.9,0.0 149.3,0.0 149.6,0.0 150.0,0.0 150.4,0.0 150.8,0.0 151.2,0.0 151.6,0.0 151.9,0.0 152.3,0.0 152.7,0.0 153.1,0.0 153.5,0.0 153.9,0.0 154.3,0.0 154.6,0.0 155.0,0.0 155.4,0.0 155.8,0.0 156.2,0.0 156.6,0.0 157.0,0.0 157.3,0.0 157.7,0.0 158.1,0.0 158.5,0.0 158.9,0.0 159.3,0.0 159.6,0.0 160.0,0.0 160.4,0.0 160.8,0.0 161.2,0.0 161.6,0.0 162.0,0.0 162.3,0.1 162.7,0.1 163.1,0.1 163.5,0.0 163.9,0.1 164.3,0.1 164.6,0.0 165.0,0.0 165.4,0.1 165.8,0.3 166.2,0.0 166.6,0.0 167.0,0.5 167.3,0.0 167.7,0.0 168.1,0.0 168.5,0.0 168.9,0.0 169.3,0.2 169.6,0.0 170.0,0.3 170.4,0.0 170.8,0.2 171.2,0.4 171.6,0.0 172.0,0.5 172.3,0.0 172.7,0.0 173.1,0.0 173.5,0.0 173.9,0.5 174.3,0.0 174.6,0.3 175.0,0.0 175.4,0.1 175.8,0.0 176.2,0.5 176.6,0.4 177.0,0.0 177.3,0.0 177.7,0.0 178.1,0.0 178.5,0.4 178.9,0.0 179.3,0.0 179.6,0.3 180.0,0.0 180.4,0.0 180.8,0.5 181.2,0.0 181.6,0.1 182.0,0.0 182.3,0.0 182.7,0.4 183.1,0.0 183.5,0.0 183.9,0.1 184.3,1.0 184.6,0.1 185.0,0.0 185.4,0.0 185.8,0.0 186.2,0.2 186.6,0.7 187.0,0.0 187.3,0.5 187.7,0.2 188.1,3.6 188.5,0.2 188.9,0.4 189.3,0.0 189.6,13.0 190.0,1.0 190.4,0.0 190.8,0.0 191.2,0.9 191.6,0.0 192.0,0.3 192.3,0.0 192.7,0.0 193.1,0.8 193.5,0.1 193.9,0.2 194.3,0.6 194.6,5.8 195.0,0.2 195.4,0.0 195.8,0.0 196.2,0.3 196.6,0.0 197.0,0.4 197.3,0.0 197.7,0.0 198.1,0.6 198.5,0.0 198.9,0.0 199.3,0.0 199.6,0.3 200.0,0.0 200.4,1.5 200.8,0.9 201.2,1.3 201.6,0.0 202.0,0.7 202.3,0.9 202.7,1.7 203.1,0.0 203.5,1.4 203.9,1.1 204.3,0.0 204.7,0.0 205.0,1.3 205.4,1.4 205.8,0.0 206.2,0.0 206.6,7.7 207.0,1.8 207.3,0.0 207.7,0.0 208.1,0.0 208.5,2.0 208.9,1.6 209.3,1.7 209.7,0.1 210.0,1.5 210.4,0.0 210.8,1.4 211.2,1.7 211.6,0.0 212.0,3.5 212.3,0.0 212.7,0.7 213.1,0.0 213.5,0.0 213.9,0.0 214.3,2.3 214.7,0.4 215.0,0.8 215.4,3.7 215.8,0.0 216.2,3.6 216.6,4.0 217.0,7.5 217.3,16.5 217.7,15.7 218.1,12.8 218.5,9.0 218.9,4.5 219.3,2.1 219.7,7.1 220.0,3.6 220.4,4.9 220.8,9.6 221.2,1.3 221.6,1.4 222.0,4.1 222.3,4.4 222.7,3.4 223.1,4.5 223.5,4.9 223.9,4.6 224.3,1.9 224.7,15.6 225.0,7.4 225.4,4.8 225.8,4.1 226.2,3.6 226.6,1.7 227.0,4.3 227.3,2.8 227.7,8.7 228.1,4.8 228.5,3.5 228.9,3.6 229.3,7.5 229.7,6.8 230.0,7.6 230.4,6.7 230.8,4.6 231.2,4.2 231.6,4.1 232.0,9.7 232.3,7.9 232.7,2.3 233.1,7.2 233.5,7.7 233.9,9.3 234.3,4.8 234.7,7.5 235.0,5.7 235.4,6.1 235.8,8.7 236.2,6.1 236.6,8.5 237.0,0.1 237.3,9.2 237.7,8.3 238.1,5.4 238.5,6.7 238.9,11.0 239.3,6.9 239.7,12.2 240.0,10.5 240.4,10.8 240.8,13.6 241.2,7.9 241.6,13.2 242.0,5.1 242.3,7.1 242.7,4.9 243.1,7.9 243.5,6.2 243.9,6.0 244.3,3.2 244.7,5.1 245.0,4.1 245.4,10.3 245.8,9.2 246.2,9.1 246.6,8.8 247.0,7.5 247.4,10.7 247.7,4.1 248.1,10.6 248.5,13.5 248.9,7.3 249.3,22.2 249.7,9.7 250.0,8.1 250.4,10.3 250.8,9.6 251.2,11.2 251.6,10.5 252.0,5.8 252.4,5.3 252.7,7.6 253.1,8.2 253.5,10.6 253.9,6.7 254.3,6.9 254.7,11.5 255.0,5.2 255.4,27.8 255.8,9.7 256.2,9.8 256.6,6.7 257.0,10.5 257.4,9.0 257.7,10.6 258.1,14.6 258.5,10.5 258.9,13.0 259.3,18.3 259.7,15.7 260.0,16.3 260.4,12.9 260.8,13.5 261.2,12.1 261.6,9.5 262.0,7.5 262.4,10.5 262.7,12.1 263.1,12.7 263.5,9.1 263.9,8.7 264.3,11.7 264.7,10.4 265.0,12.0 265.4,14.3 265.8,12.4 266.2,14.0 266.6,22.3 267.0,10.5 267.4,13.7 267.7,11.4 268.1,9.4 268.5,10.5 268.9,10.7 269.3,16.3 269.7,12.6 270.0,11.3 270.4,12.2 270.8,19.8 271.2,11.3 271.6,15.6 272.0,15.5 272.4,11.4 272.7,11.7 273.1,13.9 273.5,9.7 273.9,18.8 274.3,19.7 274.7,9.5 275.0,15.7 275.4,11.1 275.8,19.4 276.2,13.2 276.6,24.3 277.0,14.7 277.4,12.1 277.7,15.9 278.1,15.5 278.5,16.0 278.9,16.4 279.3,11.2 279.7,14.5 280.0,18.5 280.4,16.9 280.8,10.6 281.2,11.9 281.6,13.1 282.0,14.7 282.4,15.8 282.7,9.7 283.1,18.4 283.5,12.2 283.9,8.5 284.3,11.0 284.7,12.2 285.0,20.0 285.4,13.5 285.8,14.8 286.2,17.4 286.6,19.0 287.0,18.1 287.4,16.6 287.7,13.9 288.1,14.4 288.5,15.4 288.9,15.0 289.3,18.4 289.7,21.3 290.0,22.7 290.4,19.1 290.8,19.8 291.2,19.8 291.6,20.2 292.0,20.7 292.4,19.2 292.7,19.1 293.1,13.4 293.5,13.4 293.9,23.1 294.3,17.0 294.7,13.2 295.1,18.1 295.4,20.3 295.8,16.4 296.2,19.5 296.6,12.8 297.0,19.5 297.4,14.9 297.7,19.9 298.1,20.1 298.5,16.6 298.9,20.7 299.3,15.1 299.7,30.6 300.1,19.6 300.4,23.7 300.8,23.2 301.2,17.2 301.6,22.4 302.0,26.4 302.4,29.5 302.7,25.7 303.1,30.3 303.5,23.3 303.9,22.2 304.3,19.4 304.7,21.3 305.1,16.9 305.4,18.8 305.8,22.8 306.2,28.7 306.6,22.5 307.0,23.4 307.4,20.7 307.7,23.1 308.1,24.6 308.5,21.8 308.9,20.7 309.3,28.0 309.7,24.9 310.1,33.3 310.4,21.5 310.8,22.9 311.2,28.1 311.6,27.8 312.0,25.4 312.4,24.2 312.7,18.8 313.1,24.5 313.5,34.6 313.9,25.6 314.3,32.4 314.7,27.1 315.1,29.2 315.4,27.3 315.8,27.8 316.2,22.1 316.6,29.1 317.0,31.9 317.4,34.2 317.7,26.9 318.1,21.2 318.5,22.4 318.9,27.4 319.3,22.5 319.7,29.1 320.1,24.7 320.4,25.2 320.8,31.8 321.2,40.3 321.6,25.0 322.0,23.9 322.4,37.1 322.7,30.0 323.1,37.1 323.5,30.6 323.9,30.5 324.3,44.5 324.7,28.2 325.1,26.7 325.4,32.3 325.8,27.1 326.2,36.7 326.6,35.5 327.0,30.7 327.4,32.6 327.7,36.8 328.1,27.6 328.5,31.9 328.9,34.4 329.3,34.6 329.7,39.0 330.1,34.8 330.4,29.2 330.8,47.4 331.2,38.4 331.6,34.7 332.0,38.2 332.4,34.9 332.7,36.2 333.1,37.3 333.5,37.2 333.9,36.5 334.3,42.2 334.7,37.1 335.1,33.3 335.4,34.6 335.8,34.3 336.2,39.3 336.6,33.2 337.0,42.7 337.4,28.5 337.8,32.6 338.1,36.0 338.5,32.0 338.9,42.7 339.3,41.7 339.7,38.2 340.1,36.1 340.4,40.5 340.8,43.9 341.2,44.0 341.6,47.6 342.0,42.4 342.4,38.1 342.8,35.8 343.1,39.2 343.5,35.8 343.9,40.1 344.3,32.8 344.7,41.5 345.1,39.7 345.4,39.1 345.8,36.8 346.2,40.8 346.6,40.6 347.0,47.7 347.4,40.1 347.8,40.9 348.1,55.6 348.5,44.5 348.9,45.5 349.3,38.7 349.7,45.7 350.1,46.0 350.4,43.1 350.8,47.0 351.2,45.3 351.6,54.1 352.0,37.3 352.4,44.2 352.8,61.7 353.1,48.9 353.5,38.1 353.9,48.1 354.3,49.7 354.7,41.4 355.1,51.0 355.4,43.8 355.8,45.1 356.2,63.3 356.6,46.7 357.0,48.1 357.4,49.3 357.8,50.2 358.1,48.0 358.5,55.4 358.9,49.0 359.3,54.4 359.7,46.4 360.1,54.3 360.4,46.7 360.8,50.6 361.2,55.2 361.6,52.5 362.0,51.2 362.4,54.5 362.8,52.4 363.1,49.7 363.5,53.6 363.9,57.7 364.3,60.2 364.7,57.2 365.1,57.6 365.4,61.5 365.8,54.7 366.2,47.9 366.6,73.4 367.0,58.8 367.4,63.0 367.8,62.4 368.1,56.4 368.5,56.4 368.9,52.5 369.3,58.6 369.7,58.8 370.1,68.6 370.4,69.5 370.8,57.4 371.2,53.9 371.6,54.2 372.0,55.7 372.4,61.6 372.8,61.4 373.1,53.9 373.5,62.9 373.9,57.9 374.3,62.8 374.7,58.3 375.1,52.0 375.4,55.3 375.8,62.8 376.2,59.1 376.6,59.1 377.0,65.8 377.4,75.3 377.8,62.1 378.1,63.7 378.5,60.5 378.9,62.8 379.3,61.4 379.7,67.9 380.1,56.2 380.5,66.2 380.8,72.4 381.2,67.5 381.6,57.7 382.0,58.7 382.4,58.7 382.8,64.3 383.1,65.1 383.5,71.6 383.9,60.5 384.3,68.7 384.7,64.4 385.1,61.4 385.5,60.8 385.8,71.3 386.2,74.4 386.6,70.7 387.0,78.4 387.4,74.4 387.8,66.7 388.1,63.9 388.5,66.8 388.9,74.1 389.3,79.2 389.7,71.4 390.1,77.7 390.5,70.7 390.8,70.5 391.2,68.8 391.6,62.9 392.0,68.6 392.4,68.7 392.8,65.4 393.1,65.1 393.5,66.7 393.9,67.9 394.3,68.5 394.7,67.1 395.1,65.3 395.5,72.1 395.8,81.3 396.2,78.3 396.6,66.2 397.0,77.7 397.4,75.0 397.8,72.3 398.1,75.5 398.5,76.8 398.9,80.0 399.3,75.3 399.7,76.4 400.1,71.1 400.5,85.5 400.8,73.0 401.2,73.5 401.6,75.1 402.0,84.0 402.4,69.1 402.8,80.1 403.1,80.2 403.5,81.3 403.9,76.3 404.3,82.0 404.7,79.1 405.1,70.4 405.5,79.8 405.8,80.9 406.2,83.2 406.6,77.4 407.0,81.2 407.4,86.5 407.8,77.0 408.1,80.5 408.5,82.1 408.9,81.4 409.3,86.3 409.7,87.1 410.1,80.2 410.5,86.3 410.8,81.8 411.2,82.2 411.6,85.8 412.0,82.6 412.4,88.7 412.8,78.7 413.1,89.7 413.5,90.1 413.9,83.4 414.3,86.4 414.7,81.3 415.1,88.9 415.5,81.2 415.8,87.8 416.2,86.6 416.6,82.2 417.0,79.0 417.4,91.0 417.8,88.0 418.1,92.5 418.5,86.6 418.9,85.9 419.3,85.5 419.7,87.8 420.1,87.4 420.5,87.2 420.8,90.9 421.2,92.3 421.6,84.1 422.0,93.4 422.4,94.6 422.8,82.3 423.1,88.2 423.5,95.8 423.9,91.6 424.3,88.2 424.7,88.7 425.1,96.7 425.5,82.7 425.8,88.9 426.2,93.8 426.6,103.7 427.0,97.4 427.4,90.9 427.8,104.6 428.2,100.2 428.5,97.5 428.9,84.7 429.3,89.3 429.7,94.5 430.1,97.2 430.5,95.2 430.8,91.1 431.2,100.1 431.6,91.4 432.0,93.0 432.4,99.1 432.8,95.4 433.2,98.4 433.5,97.2 433.9,97.0 434.3,95.5 434.7,100.6 435.1,96.0 435.5,95.4 435.8,101.5 436.2,88.4 436.6,96.3 437.0,103.5 437.4,104.5 437.8,103.6 438.2,106.9 438.5,96.4 438.9,97.2 439.3,102.0 439.7,97.6 440.1,98.7 440.5,99.0 440.8,103.2 441.2,103.9 441.6,97.1 442.0,93.9 442.4,98.2 442.8,101.0 443.2,101.2 443.5,105.8 443.9,94.1 444.3,101.7 444.7,98.0 445.1,95.9 445.5,100.0 445.8,111.8 446.2,104.8 446.6,96.9 447.0,105.6 447.4,105.1 447.8,105.1 448.2,102.9 448.5,103.7 448.9,106.3 449.3,102.1 449.7,100.1 450.1,104.8 450.5,105.4 450.8,104.5 451.2,103.9 451.6,100.2 452.0,102.2 452.4,107.9 452.8,104.1 453.2,108.4 453.5,97.8 453.9,109.9 454.3,106.0 454.7,106.1 455.1,106.1 455.5,109.4 455.8,105.8 456.2,106.8 456.6,113.2 457.0,106.0 457.4,104.0 457.8,109.1 458.2,115.3 458.5,100.7 458.9,104.4 459.3,109.3 459.7,104.8 460.1,110.8 460.5,111.5 460.8,104.8 461.2,108.9 461.6,105.3 462.0,107.4 462.4,109.2 462.8,109.9 463.2,108.0 463.5,115.3 463.9,115.3 464.3,105.6 464.7,106.6 465.1,108.0 465.5,111.9 465.8,111.7 466.2,116.5 466.6,112.0 467.0,109.3 467.4,109.9 467.8,116.3 468.2,106.8 468.5,114.0 468.9,110.2 469.3,110.8 469.7,111.7 470.1,113.6 470.5,106.4 470.9,110.4 471.2,114.5 471.6,115.2 472.0,125.6 472.4,117.4 472.8,109.0 473.2,112.9 473.5,113.4 473.9,118.9 474.3,115.3 474.7,117.4 475.1,119.2 475.5,114.6 475.9,122.9 476.2,120.0 476.6,115.1 477.0,115.2 477.4,119.4 477.8,117.8 478.2,115.3 478.5,117.3 478.9,116.3 479.3,119.9 479.7,117.2 480.1,122.6 480.5,119.4 480.9,115.2 481.2,123.4 481.6,119.0 482.0,121.3 482.4,115.7 482.8,118.4 483.2,119.9 483.5,120.3 483.9,121.5 484.3,118.6 484.7,120.6 485.1,118.2 485.5,121.8 485.9,122.0 486.2,114.8 486.6,118.2 487.0,122.0 487.4,118.4 487.8,122.6 488.2,122.8 488.5,114.9 488.9,135.2 489.3,120.5 489.7,122.4 490.1,123.4 490.5,121.2 490.9,121.3 491.2,121.5 491.6,125.1 492.0,121.1 492.4,117.5 492.8,125.0 493.2,123.2 493.5,118.7 493.9,123.4 494.3,121.7 494.7,124.6 495.1,121.0 495.5,117.6 495.9,122.8 496.2,125.7 496.6,121.4 497.0,124.1 497.4,119.4 497.8,124.5 498.2,122.0 498.5,127.9 498.9,120.2 499.3,125.4 499.7,127.6 500.1,123.7 500.5,123.1 500.9,124.3 501.2,128.3 501.6,123.2 502.0,127.2 502.4,123.2 502.8,122.1 503.2,128.2 503.5,127.3 503.9,130.8 504.3,129.6 504.7,131.5 505.1,127.5 505.5,128.4 505.9,122.6 506.2,122.5 506.6,123.4 507.0,131.2 507.4,128.3 507.8,132.4 508.2,126.9 508.5,126.8 508.9,127.1 509.3,121.5 509.7,130.4 510.1,129.6 510.5,127.5 510.9,130.3 511.2,127.1 511.6,132.5 512.0,124.5 512.4,125.3 512.8,128.4 513.2,126.2 513.5,128.8 513.9,133.0 514.3,129.2 514.7,134.9 515.1,124.3 515.5,135.6 515.9,131.1 516.2,133.0 516.6,133.0 517.0,130.2 517.4,132.9 517.8,131.4 518.2,128.1 518.6,131.3 518.9,130.4 519.3,132.2 519.7,135.0 520.1,129.9 520.5,131.6 520.9,131.9 521.2,131.7 521.6,130.5 522.0,128.8 522.4,130.6 522.8,130.4 523.2,129.9 523.6,136.9 523.9,133.8 524.3,131.7 524.7,130.6 525.1,133.4 525.5,131.2 525.9,130.8 526.2,133.3 526.6,131.3 527.0,138.1 527.4,137.9 527.8,134.1 528.2,133.7 528.6,132.3 528.9,134.6 529.3,134.6 529.7,134.9 530.1,133.9 530.5,130.7 530.9,133.5 531.2,131.3 531.6,135.3 532.0,131.6 532.4,135.3 532.8,136.7 533.2,134.3 533.6,132.7 533.9,131.8 534.3,136.7 534.7,136.9 535.1,136.3 535.5,133.9 535.9,131.5 536.2,132.7 536.6,137.0 537.0,137.5 537.4,136.2 537.8,132.3 538.2,136.7 538.6,137.1 538.9,134.8 539.3,136.6 539.7,138.1 540.1,136.9 540.5,137.3 540.9,134.0 541.2,134.4 541.6,132.5 542.0,135.0 542.4,134.5 542.8,136.3 543.2,132.3 543.6,140.2 543.9,132.7 544.3,137.5 544.7,136.5 545.1,137.2 545.5,134.5 545.9,140.8 546.2,136.2 546.6,136.6 547.0,137.6 547.4,136.3 547.8,136.1 548.2,139.4 548.6,140.4 548.9,139.0 549.3,137.5 549.7,132.1 550.1,138.0 550.5,137.4 550.9,139.5 551.2,136.0 551.6,138.2 552.0,140.9 552.4,139.8 552.8,136.7 553.2,139.2 553.6,135.5 553.9,136.8 554.3,138.0 554.7,140.5 555.1,136.0 555.5,138.5 555.9,136.2 556.2,141.0 556.6,141.3 557.0,142.4 557.4,135.9 557.8,140.3 558.2,140.2 558.6,137.3 558.9,138.9 559.3,137.3 559.7,140.7 560.1,139.9 560.5,138.2 560.9,141.0 561.3,139.4 561.6,137.8 562.0,138.7 562.4,142.9 562.8,141.5 563.2,139.8 563.6,140.3 563.9,140.5 564.3,139.5 564.7,140.7 565.1,140.9 565.5,139.5 565.9,140.9 566.3,141.4 566.6,142.9 567.0,136.8 567.4,142.6 567.8,140.4 568.2,143.6 568.6,143.8 568.9,142.0 569.3,141.4 569.7,141.7 570.1,140.1 570.5,141.7 570.9,142.5 571.3,141.8 571.6,140.5 572.0,140.0 572.4,141.7 572.8,143.3 573.2,142.5 573.6,143.6 573.9,142.0 574.3,142.1 574.7,141.9 575.1,142.8 575.5,141.4 575.9,142.4 576.3,142.1 576.6,141.6 577.0,141.1 577.4,143.8 577.8,142.3 578.2,141.2 578.6,142.6 578.9,143.2 579.3,145.1 579.7,141.1 580.1,142.6 580.5,144.4 580.9,143.3 581.3,144.7 581.6,143.8 582.0,145.3 582.4,144.3 582.8,143.2 583.2,141.2 583.6,143.2 583.9,143.1 584.3,145.0 584.7,143.6 585.1,143.7 585.5,145.3 585.9,143.0 586.3,146.1 586.6,145.4 587.0,143.7 587.4,145.6 587.8,145.6 588.2,144.8 588.6,144.8 588.9,145.7 589.3,145.6 589.7,144.4 590.1,146.1 590.5,143.8 590.9,145.4 591.3,144.4 591.6,144.7 592.0,145.7 592.4,147.5 592.8,147.3 593.2,145.1 593.6,145.1 593.9,144.1 594.3,146.2 594.7,147.0 595.1,145.1 595.5,146.3 595.9,144.9 596.3,145.1 596.6,146.5 597.0,147.5 597.4,143.5 597.8,145.2 598.2,147.0 598.6,147.0 598.9,148.2 599.3,146.9 599.7,146.7 600.1,148.6 600.5,146.5 600.9,148.3 601.3,148.3 601.6,147.0 602.0,148.1 602.4,147.5 602.8,147.2 603.2,146.7 603.6,148.4 604.0,147.7 604.3,148.7 604.7,149.0 605.1,146.8 605.5,147.9 605.9,147.3 606.3,147.0 606.6,149.0 607.0,150.7 607.4,148.4 607.8,148.8 608.2,147.2 608.6,149.2 609.0,148.2 609.3,147.9 609.7,148.0 610.1,147.8 610.5,149.2 610.9,149.1 611.3,149.7 611.6,149.7 612.0,149.5 612.4,149.2 612.8,149.2 613.2,149.3 613.6,150.7 614.0,150.0 614.3,150.0 614.7,151.0 615.1,150.3 615.5,148.8 615.9,147.7 616.3,149.1 616.6,150.7 617.0,150.7 617.4,149.9 617.8,148.6 618.2,150.9 618.6,151.0 619.0,151.1 619.3,153.0 619.7,149.1 620.1,150.6 620.5,150.9 620.9,152.3 621.3,151.8 621.6,152.1 622.0,151.5 622.4,151.2 622.8,149.9 623.2,150.4 623.6,150.2 624.0,151.5 624.3,152.6 624.7,151.3 625.1,152.9 625.5,150.8 625.9,150.3 626.3,151.0 626.6,150.5 627.0,150.8 627.4,151.6 627.8,153.0 628.2,153.0 628.6,152.8 629.0,152.4 629.3,153.3 629.7,152.6 630.1,153.1 630.5,152.2 630.9,152.2 631.3,152.5 631.6,153.5 632.0,152.8 632.4,153.1 632.8,154.3 633.2,152.4 633.6,153.3 634.0,153.8 634.3,152.9 634.7,152.7 635.1,153.7 635.5,154.0 635.9,153.0 636.3,153.2 636.6,151.9 637.0,154.4 637.4,152.9 637.8,153.5 638.2,152.8 638.6,154.2 639.0,153.5 639.3,153.9 639.7,152.3 640.1,154.4 640.5,154.6 640.9,153.3 641.3,154.0 641.6,153.1 642.0,152.4 642.4,154.3 642.8,153.6 643.2,152.2 643.6,154.8 644.0,154.5 644.3,153.0 644.7,154.1 645.1,155.2 645.5,154.8 645.9,154.6 646.3,152.7 646.6,154.8 647.0,153.6 647.4,153.7 647.8,155.4 648.2,154.5 648.6,155.1 649.0,155.4 649.3,154.0 649.7,154.9 650.1,156.0 650.5,152.4 650.9,154.5 651.3,154.7 651.7,155.0 652.0,154.3 652.4,155.0 652.8,157.8 653.2,154.0 653.6,154.8 654.0,154.7 654.3,156.0 654.7,155.0 655.1,155.2 655.5,158.1 655.9,154.3 656.3,155.3 656.7,155.0 657.0,156.1 657.4,156.2 657.8,155.8 658.2,154.9 658.6,156.7 659.0,156.9 659.3,155.1 659.7,156.2 660.1,156.7 660.5,155.8 660.9,154.9 661.3,154.7 661.7,156.7 662.0,156.8 662.4,156.5 662.8,155.1 663.2,156.5 663.6,156.9 664.0,157.1 664.3,156.0 664.7,158.0 665.1,157.4 665.5,155.6 665.9,154.9 666.3,156.9 666.7,157.1 667.0,155.8 667.4,156.8 667.8,156.9 668.2,157.1 668.6,157.5 669.0,157.2 669.3,158.1 669.7,156.2 670.1,157.3 670.5,158.0"/><polyline fill="none" stroke="#000" stroke-width="1.00" stroke-linejoin="miter" points="0.0,190.0 0.4,190.0 0.8,190.0 1.2,190.0 1.5,190.0 1.9,190.0 2.3,190.0 2.7,190.0 3.1,190.0 3.5,190.0 3.8,190.0 4.2,190.0 4.6,190.0 5.0,190.0 5.4,190.0 5.8,190.0 6.2,190.0 6.5,190.0 6.9,190.0 7.3,190.0 7.7,190.0 8.1,190.0 8.5,190.0 8.8,190.0 9.2,190.0 9.6,190.0 10.0,190.0 10.4,190.0 10.8,190.0 11.2,190.0 11.5,190.0 11.9,190.0 12.3,190.0 12.7,190.0 13.1,190.0 13.5,190.0 13.8,190.0 14.2,190.0 14.6,190.0 15.0,190.0 15.4,190.0 15.8,190.0 16.2,190.0 16.5,190.0 16.9,190.0 17.3,190.0 17.7,190.0 18.1,190.0 18.5,190.0 18.8,190.0 19.2,190.0 19.6,190.0 20.0,190.0 20.4,190.0 20.8,190.0 21.2,190.0 21.5,190.0 21.9,190.0 22.3,190.0 22.7,190.0 23.1,190.0 23.5,190.0 23.9,190.0 24.2,190.0 24.6,190.0 25.0,190.0 25.4,190.0 25.8,190.0 26.2,190.0 26.5,190.0 26.9,190.0 27.3,190.0 27.7,190.0 28.1,190.0 28.5,190.0 28.9,190.0 29.2,190.0 29.6,190.0 30.0,190.0 30.4,190.0 30.8,190.0 31.2,190.0 31.5,190.0 31.9,190.0 32.3,190.0 32.7,190.0 33.1,190.0 33.5,190.0 33.9,190.0 34.2,190.0 34.6,190.0 35.0,190.0 35.4,190.0 35.8,190.0 36.2,190.0 36.5,190.0 36.9,190.0 37.3,190.0 37.7,190.0 38.1,190.0 38.5,190.0 38.9,190.0 39.2,190.0 39.6,190.0 40.0,190.0 40.4,190.0 40.8,190.0 41.2,190.0 41.5,190.0 41.9,190.0 42.3,190.0 42.7,190.0 43.1,190.0 43.5,190.0 43.9,190.0 44.2,190.0 44.6,190.0 45.0,190.0 45.4,190.0 45.8,190.0 46.2,190.0 46.5,190.0 46.9,190.0 47.3,190.0 47.7,190.0 48.1,190.0 48.5,190.0 48.9,190.0 49.2,190.0 49.6,190.0 50.0,190.0 50.4,190.0 50.8,190.0 51.2,190.0 51.5,190.0 51.9,190.0 52.3,190.0 52.7,190.0 53.1,190.0 53.5,190.0 53.9,190.0 54.2,190.0 54.6,190.0 55.0,190.0 55.4,190.0 55.8,190.0 56.2,190.0 56.5,190.0 56.9,190.0 57.3,190.0 57.7,190.0 58.1,190.0 58.5,190.0 58.9,190.0 59.2,190.0 59.6,190.0 60.0,190.0 60.4,190.0 60.8,190.0 61.2,190.0 61.5,190.0 61.9,190.0 62.3,190.0 62.7,190.0 63.1,190.0 63.5,190.0 63.9,190.0 64.2,190.0 64.6,190.0 65.0,190.0 65.4,190.0 65.8,190.0 66.2,190.0 66.5,190.0 66.9,190.0 67.3,190.0 67.7,190.0 68.1,190.0 68.5,190.0 68.9,190.0 69.2,190.0 69.6,190.0 70.0,190.0 70.4,190.0 70.8,190.0 71.2,190.0 71.6,190.0 71.9,190.0 72.3,190.0 72.7,190.0 73.1,190.0 73.5,190.0 73.9,190.0 74.2,190.0 74.6,190.0 75.0,190.0 75.4,190.0 75.8,190.0 76.2,190.0 76.6,190.0 76.9,190.0 77.3,190.0 77.7,190.0 78.1,190.0 78.5,190.0 78.9,190.0 79.2,190.0 79.6,190.0 80.0,190.0 80.4,190.0 80.8,190.0 81.2,190.0 81.6,190.0 81.9,190.0 82.3,190.0 82.7,190.0 83.1,190.0 83.5,190.0 83.9,190.0 84.2,190.0 84.6,190.0 85.0,190.0 85.4,190.0 85.8,190.0 86.2,190.0 86.6,190.0 86.9,190.0 87.3,190.0 87.7,190.0 88.1,190.0 88.5,190.0 88.9,190.0 89.2,190.0 89.6,190.0 90.0,190.0 90.4,190.0 90.8,190.0 91.2,190.0 91.6,190.0 91.9,190.0 92.3,190.0 92.7,190.0 93.1,190.0 93.5,190.0 93.9,190.0 94.2,190.0 94.6,190.0 95.0,190.0 95.4,190.0 95.8,190.0 96.2,190.0 96.6,190.0 96.9,190.0 97.3,190.0 97.7,190.0 98.1,190.0 98.5,190.0 98.9,190.0 99.2,190.0 99.6,190.0 100.0,190.0 100.4,190.0 100.8,190.0 101.2,190.0 101.6,190.0 101.9,190.0 102.3,190.0 102.7,190.0 103.1,190.0 103.5,190.0 103.9,190.0 104.2,190.0 104.6,190.0 105.0,190.0 105.4,190.0 105.8,190.0 106.2,190.0 106.6,190.0 106.9,190.0 107.3,190.0 107.7,190.0 108.1,190.0 108.5,190.0 108.9,190.0 109.2,190.0 109.6,190.0 110.0,190.0 110.4,190.0 110.8,190.0 111.2,190.0 111.6,190.0 111.9,190.0 112.3,190.0 112.7,190.0 113.1,190.0 113.5,190.0 113.9,190.0 114.3,185.6 114.6,179.6 115.0,176.1 115.4,182.2 115.8,188.2 116.2,190.0 116.6,190.0 116.9,190.0 117.3,190.0 117.7,190.0 118.1,190.0 118.5,190.0 118.9,190.0 119.3,190.0 119.6,190.0 120.0,187.8 120.4,190.0 120.8,190.0 121.2,190.0 121.6,190.0 121.9,190.0 122.3,190.0 122.7,190.0 123.1,190.0 123.5,190.0 123.9,190.0 124.3,190.0 124.6,190.0 125.0,185.2 125.4,190.0 125.8,190.0 126.2,190.0 126.6,190.0 126.9,190.0 127.3,190.0 127.7,190.0 128.1,190.0 128.5,190.0 128.9,190.0 129.3,190.0 129.6,190.0 130.0,190.0 130.4,190.0 130.8,190.0 131.2,190.0 131.6,190.0 131.9,190.0 132.3,190.0 132.7,190.0 133.1,190.0 133.5,190.0 133.9,190.0 134.3,190.0 134.6,190.0 135.0,190.0 135.4,190.0 135.8,190.0 136.2,189.8 136.6,184.8 136.9,181.3 137.3,186.3 137.7,190.0 138.1,180.9 138.5,190.0 138.9,190.0 139.3,190.0 139.6,190.0 140.0,190.0 140.4,190.0 140.8,190.0 141.2,190.0 141.6,190.0 141.9,190.0 142.3,190.0 142.7,190.0 143.1,190.0 143.5,190.0 143.9,188.2 144.3,162.7 144.6,137.2 145.0,111.7 145.4,134.1 145.8,159.6 146.2,185.1 146.6,190.0 146.9,190.0 147.3,190.0 147.7,190.0 148.1,190.0 148.5,190.0 148.9,190.0 149.3,190.0 149.6,190.0 150.0,190.0 150.4,190.0 150.8,190.0 151.2,190.0 151.6,190.0 151.9,190.0 152.3,190.0 152.7,190.0 153.1,190.0 153.5,190.0 153.9,190.0 154.3,190.0 154.6,190.0 155.0,190.0 155.4,182.9 155.8,190.0 156.2,190.0 156.6,190.0 157.0,190.0 157.3,190.0 157.7,190.0 158.1,190.0 158.5,190.0 158.9,190.0 159.3,190.0 159.6,190.0 160.0,190.0 160.4,190.0 160.8,190.0 161.2,190.0 161.6,190.0 162.0,190.0 162.3,190.0 162.7,182.3 163.1,190.0 163.5,189.9 163.9,190.0 164.3,190.0 164.6,190.0 165.0,190.0 165.4,189.9 165.8,190.0 166.2,189.4 166.6,189.6 167.0,190.0 167.3,189.8 167.7,189.6 168.1,189.8 168.5,189.4 168.9,189.4 169.3,189.6 169.6,189.4 170.0,189.2 170.4,189.1 170.8,189.2 171.2,189.4 171.6,189.5 172.0,189.7 172.3,189.0 172.7,188.7 173.1,188.8 173.5,189.2 173.9,189.1 174.3,188.8 174.6,188.8 175.0,188.6 175.4,183.4 175.8,188.7 176.2,188.8 176.6,188.6 177.0,188.3 177.3,188.6 177.7,188.0 178.1,188.3 178.5,189.1 178.9,188.0 179.3,188.1 179.6,188.6 180.0,188.0 180.4,187.9 180.8,188.2 181.2,187.7 181.6,188.0 182.0,177.3 182.3,187.4 182.7,188.2 183.1,187.8 183.5,187.0 183.9,187.4 184.3,188.9 184.6,188.2 185.0,184.0 185.4,188.1 185.8,187.0 186.2,187.9 186.6,165.1 187.0,135.1 187.3,104.9 187.7,111.9 188.1,146.0 188.5,171.9 188.9,170.3 189.3,164.8 189.6,190.0 190.0,186.2 190.4,186.3 190.8,185.6 191.2,187.6 191.6,185.3 192.0,184.7 192.3,175.4 192.7,184.7 193.1,185.3 193.5,184.8 193.9,184.2 194.3,184.1 194.6,189.4 195.0,185.1 195.4,183.1 195.8,182.2 196.2,183.6 196.6,182.5 197.0,183.0 197.3,182.9 197.7,182.0 198.1,183.4 198.5,183.6 198.9,181.7 199.3,180.5 199.6,181.5 200.0,181.4 200.4,182.5 200.8,181.3 201.2,182.3 201.6,181.6 202.0,179.6 202.3,181.2 202.7,182.3 203.1,180.5 203.5,181.6 203.9,179.4 204.3,179.2 204.7,177.2 205.0,179.7 205.4,179.0 205.8,178.3 206.2,177.9 206.6,186.0 207.0,180.3 207.3,179.1 207.7,179.0 208.1,178.4 208.5,179.4 208.9,179.6 209.3,178.6 209.7,176.0 210.0,178.4 210.4,176.3 210.8,178.5 211.2,176.9 211.6,176.3 212.0,180.4 212.3,175.0 212.7,176.5 213.1,176.7 213.5,174.1 213.9,173.6 214.3,175.7 214.7,173.9 215.0,162.1 215.4,177.7 215.8,173.8 216.2,175.5 216.6,171.4 217.0,163.0 217.3,161.9 217.7,154.5 218.1,165.4 218.5,171.5 218.9,177.1 219.3,172.9 219.7,178.6 220.0,175.8 220.4,156.5 220.8,180.3 221.2,171.2 221.6,171.0 222.0,172.8 222.3,173.2 222.7,173.2 223.1,173.0 223.5,173.7 223.9,174.5 224.3,163.2 224.7,182.7 225.0,174.0 225.4,172.9 225.8,154.4 226.2,170.8 226.6,168.9 227.0,171.4 227.3,151.4 227.7,175.6 228.1,153.9 228.5,169.8 228.9,156.1 229.3,173.5 229.7,173.2 230.0,173.8 230.4,148.5 230.8,167.9 231.2,166.8 231.6,167.2 232.0,171.9 232.3,172.0 232.7,166.0 233.1,169.6 233.5,167.6 233.9,170.8 234.3,166.5 234.7,169.5 235.0,146.4 235.4,169.1 235.8,169.5 236.2,167.7 236.6,168.5 237.0,161.7 237.3,167.5 237.7,163.1 238.1,163.8 238.5,164.5 238.9,166.8 239.3,150.9 239.7,171.6 240.0,159.6 240.4,151.4 240.8,140.0 241.2,137.3 241.6,156.7 242.0,157.7 242.3,164.2 242.7,161.1 243.1,164.1 243.5,164.1 243.9,146.4 244.3,160.4 244.7,159.1 245.0,162.2 245.4,166.7 245.8,164.5 246.2,163.0 246.6,165.9 247.0,161.8 247.4,168.9 247.7,160.4 248.1,165.8 248.5,171.9 248.9,162.8 249.3,175.5 249.7,144.9 250.0,163.9 250.4,164.0 250.8,155.3 251.2,165.0 251.6,161.3 252.0,160.4 252.4,159.7 252.7,138.2 253.1,160.4 253.5,164.3 253.9,159.6 254.3,161.4 254.7,166.4 255.0,158.9 255.4,179.9 255.8,162.9 256.2,143.7 256.6,158.8 257.0,161.4 257.4,160.8 257.7,162.8 258.1,164.0 258.5,160.5 258.9,163.1 259.3,157.5 259.7,141.7 260.0,125.5 260.4,138.4 260.8,152.1 261.2,160.8 261.6,159.5 262.0,156.3 262.4,159.8 262.7,160.2 263.1,161.1 263.5,157.9 263.9,159.4 264.3,162.6 264.7,159.8 265.0,146.9 265.4,161.3 265.8,158.7 266.2,162.5 266.6,170.2 267.0,157.3 267.4,166.8 267.7,159.5 268.1,157.6 268.5,158.6 268.9,159.2 269.3,160.8 269.7,156.3 270.0,155.1 270.4,158.6 270.8,166.3 271.2,153.7 271.6,162.4 272.0,163.0 272.4,153.5 272.7,159.0 273.1,159.0 273.5,152.0 273.9,159.4 274.3,164.9 274.7,154.4 275.0,159.9 275.4,144.5 275.8,146.6 276.2,128.1 276.6,146.4 277.0,148.8 277.4,153.5 277.7,156.2 278.1,159.7 278.5,159.5 278.9,158.7 279.3,155.0 279.7,157.5 280.0,159.9 280.4,159.3 280.8,153.3 281.2,157.5 281.6,157.8 282.0,137.4 282.4,156.1 282.7,154.5 283.1,140.1 283.5,153.4 283.9,151.5 284.3,150.1 284.7,153.0 285.0,163.4 285.4,152.8 285.8,157.6 286.2,161.0 286.6,153.3 287.0,159.9 287.4,157.6 287.7,146.8 288.1,156.3 288.5,157.1 288.9,154.4 289.3,149.8 289.7,142.9 290.0,130.2 290.4,131.4 290.8,140.1 291.2,152.3 291.6,162.1 292.0,161.6 292.4,159.3 292.7,159.9 293.1,148.7 293.5,152.3 293.9,162.9 294.3,153.1 294.7,154.4 295.1,155.9 295.4,149.0 295.8,157.9 296.2,159.3 296.6,150.0 297.0,157.7 297.4,154.5 297.7,155.6 298.1,152.2 298.5,152.2 298.9,152.5 299.3,152.5 299.7,166.1 300.1,153.7 300.4,157.1 300.8,160.8 301.2,155.6 301.6,151.5 302.0,143.2 302.4,132.7 302.7,132.6 303.1,150.5 303.5,155.6 303.9,158.4 304.3,155.2 304.7,133.7 305.1,153.1 305.4,154.7 305.8,156.6 306.2,158.1 306.6,138.5 307.0,158.4 307.4,153.3 307.7,154.0 308.1,159.9 308.5,137.6 308.9,149.8 309.3,160.7 309.7,156.9 310.1,161.7 310.4,137.5 310.8,152.3 311.2,159.8 311.6,155.4 312.0,159.8 312.4,154.0 312.7,130.6 313.1,120.6 313.5,113.7 313.9,122.6 314.3,150.4 314.7,156.5 315.1,158.0 315.4,158.1 315.8,157.2 316.2,153.5 316.6,157.7 317.0,148.0 317.4,165.0 317.7,154.2 318.1,152.6 318.5,149.8 318.9,154.4 319.3,150.5 319.7,153.9 320.1,149.5 320.4,156.1 320.8,154.1 321.2,160.5 321.6,153.3 322.0,148.3 322.4,161.8 322.7,140.8 323.1,134.6 323.5,123.4 323.9,124.9 324.3,156.8 324.7,148.9 325.1,155.4 325.4,155.8 325.8,140.3 326.2,161.1 326.6,159.1 327.0,153.9 327.4,157.7 327.7,158.2 328.1,150.9 328.5,150.5 328.9,161.2 329.3,154.5 329.7,160.5 330.1,156.8 330.4,150.3 330.8,170.9 331.2,160.0 331.6,150.0 332.0,138.1 332.4,125.3 332.7,126.5 333.1,137.7 333.5,150.2 333.9,153.9 334.3,158.0 334.7,149.1 335.1,146.8 335.4,156.0 335.8,151.5 336.2,155.0 336.6,135.5 337.0,160.3 337.4,146.2 337.8,150.8 338.1,153.6 338.5,151.1 338.9,157.2 339.3,161.7 339.7,149.5 340.1,144.1 340.4,139.1 340.8,131.2 341.2,135.3 341.6,148.8 342.0,153.7 342.4,132.7 342.8,149.5 343.1,150.3 343.5,135.4 343.9,152.8 344.3,142.9 344.7,156.5 345.1,156.7 345.4,151.5 345.8,145.0 346.2,151.0 346.6,151.5 347.0,160.3 347.4,149.8 347.8,150.1 348.1,149.0 348.5,130.1 348.9,128.4 349.3,126.0 349.7,148.1 350.1,133.8 350.4,151.8 350.8,157.1 351.2,151.3 351.6,163.2 352.0,144.9 352.4,148.1 352.8,171.8 353.1,154.2 353.5,145.3 353.9,158.2 354.3,158.9 354.7,148.6 355.1,148.5 355.4,137.0 355.8,126.8 356.2,146.9 356.6,137.4 357.0,153.8 357.4,152.3 357.8,153.3 358.1,156.6 358.5,160.9 358.9,155.0 359.3,158.2 359.7,154.8 360.1,153.1 360.4,146.0 360.8,155.2 361.2,145.4 361.6,152.6 362.0,152.3 362.4,156.6 362.8,154.8 363.1,152.2 363.5,157.0 363.9,155.1 364.3,157.7 364.7,161.2 365.1,154.4 365.4,159.0 365.8,152.3 366.2,149.8 366.6,173.2 367.0,158.9 367.4,163.1 367.8,161.0 368.1,154.0 368.5,139.7 368.9,133.2 369.3,135.8 369.7,149.0 370.1,161.4 370.4,168.7 370.8,156.4 371.2,148.1 371.6,151.4 372.0,150.4 372.4,157.1 372.8,155.9 373.1,136.7 373.5,160.1 373.9,150.8 374.3,156.0 374.7,152.3 375.1,132.0 375.4,147.8 375.8,153.1 376.2,151.5 376.6,153.2 377.0,160.9 377.4,149.1 377.8,156.5 378.1,155.5 378.5,151.4 378.9,155.1 379.3,142.7 379.7,161.0 380.1,151.6 380.5,156.8 380.8,149.2 381.2,148.0 381.6,144.7 382.0,149.3 382.4,135.7 382.8,158.2 383.1,155.3 383.5,159.1 383.9,133.1 384.3,156.0 384.7,154.0 385.1,144.9 385.5,142.9 385.8,140.7 386.2,142.2 386.6,149.2 387.0,162.5 387.4,161.5 387.8,157.7 388.1,150.8 388.5,152.2 388.9,157.4 389.3,168.6 389.7,152.4 390.1,142.8 390.5,156.6 390.8,154.2 391.2,155.5 391.6,147.5 392.0,147.4 392.4,156.5 392.8,151.8 393.1,148.2 393.5,145.0 393.9,147.2 394.3,147.7 394.7,149.5 395.1,147.3 395.5,156.6 395.8,164.2 396.2,163.6 396.6,146.6 397.0,155.6 397.4,138.7 397.8,151.3 398.1,158.5 398.5,146.2 398.9,162.5 399.3,155.4 399.7,163.7 400.1,149.2 400.5,165.8 400.8,157.7 401.2,153.5 401.6,153.0 402.0,161.8 402.4,146.0 402.8,157.2 403.1,156.0 403.5,154.9 403.9,154.8 404.3,159.4 404.7,141.6 405.1,146.8 405.5,157.2 405.8,156.9 406.2,159.9 406.6,150.9 407.0,154.3 407.4,161.1 407.8,156.2 408.1,155.4 408.5,159.1 408.9,150.2 409.3,147.9 409.7,151.0 410.1,155.5 410.5,158.2 410.8,154.0 411.2,155.1 411.6,160.2 412.0,156.5 412.4,168.2 412.8,154.4 413.1,166.2 413.5,158.5 413.9,154.4 414.3,162.1 414.7,159.5 415.1,157.0 415.5,155.2 415.8,157.5 416.2,164.2 416.6,157.8 417.0,147.8 417.4,158.6 417.8,156.2 418.1,161.1 418.5,159.1 418.9,154.7 419.3,144.6 419.7,159.6 420.1,157.4 420.5,161.3 420.8,160.3 421.2,158.3 421.6,154.6 422.0,160.0 422.4,163.8 422.8,151.5 423.1,157.3 423.5,165.9 423.9,161.8 424.3,160.9 424.7,161.0 425.1,163.4 425.5,148.8 425.8,145.2 426.2,159.9 426.6,165.1 427.0,169.1 427.4,158.7 427.8,173.0 428.2,167.6 428.5,162.8 428.9,151.8 429.3,155.2 429.7,156.0 430.1,150.0 430.5,161.3 430.8,157.9 431.2,166.2 431.6,155.5 432.0,159.7 432.4,161.3 432.8,159.8 433.2,159.7 433.5,159.4 433.9,161.3 434.3,162.8 434.7,157.5 435.1,153.9 435.5,163.7 435.8,164.8 436.2,156.9 436.6,158.9 437.0,162.0 437.4,166.6 437.8,160.7 438.2,162.0 438.5,157.2 438.9,163.2 439.3,153.7 439.7,159.7 440.1,160.2 440.5,157.0 440.8,164.1 441.2,164.0 441.6,154.0 442.0,157.1 442.4,159.3 442.8,161.3 443.2,164.3 443.5,162.7 443.9,155.8 444.3,163.7 444.7,158.5 445.1,154.4 445.5,159.3 445.8,171.5 446.2,163.3 446.6,155.8 447.0,168.6 447.4,158.0 447.8,162.0 448.2,155.0 448.5,171.0 448.9,163.6 449.3,155.6 449.7,162.2 450.1,169.3 450.5,167.8 450.8,163.0 451.2,163.0 451.6,155.9 452.0,161.7 452.4,164.2 452.8,164.2 453.2,164.6 453.5,157.2 453.9,172.0 454.3,167.2 454.7,169.4 455.1,162.6 455.5,169.4 455.8,163.4 456.2,165.6 456.6,167.6 457.0,165.6 457.4,162.9 457.8,166.4 458.2,170.8 458.5,162.2 458.9,166.4 459.3,172.5 459.7,163.1 460.1,165.6 460.5,158.4 460.8,162.0 461.2,168.6 461.6,165.5 462.0,161.9 462.4,168.9 462.8,166.8 463.2,168.1 463.5,160.3 463.9,171.5 464.3,161.1 464.7,171.8 465.1,162.9 465.5,166.8 465.8,166.8 466.2,172.6 466.6,168.2 467.0,166.5 467.4,165.3 467.8,171.7 468.2,156.6 468.5,168.9 468.9,164.7 469.3,163.0 469.7,162.4 470.1,171.1 470.5,156.5 470.9,162.2 471.2,169.8 471.6,167.8 472.0,179.6 472.4,167.3 472.8,161.0 473.2,165.5 473.5,165.3 473.9,168.2 474.3,165.0 474.7,170.4 475.1,170.6 475.5,159.0 475.9,179.5 476.2,169.5 476.6,170.8 477.0,164.1 477.4,161.4 477.8,165.1 478.2,166.8 478.5,168.7 478.9,167.3 479.3,173.2 479.7,168.6 480.1,171.0 480.5,168.1 480.9,159.6 481.2,176.4 481.6,168.5 482.0,167.7 482.4,167.8 482.8,171.3 483.2,171.7 483.5,169.8 483.9,174.5 484.3,167.5 484.7,171.7 485.1,164.8 485.5,173.2 485.9,162.2 486.2,162.4 486.6,169.4 487.0,168.7 487.4,168.5 487.8,170.3 488.2,168.3 488.5,161.6 488.9,184.9 489.3,168.7 489.7,171.9 490.1,172.4 490.5,169.6 490.9,165.5 491.2,168.8 491.6,174.3 492.0,169.2 492.4,162.8 492.8,172.0 493.2,170.1 493.5,169.0 493.9,173.5 494.3,168.0 494.7,173.4 495.1,155.3 495.5,162.2 495.9,168.8 496.2,174.7 496.6,167.6 497.0,169.8 497.4,166.4 497.8,174.4 498.2,170.8 498.5,177.9 498.9,170.6 499.3,171.6 499.7,174.7 500.1,169.2 500.5,159.0 500.9,171.0 501.2,175.1 501.6,164.9 502.0,175.8 502.4,167.9 502.8,166.2 503.2,177.7 503.5,172.7 503.9,174.7 504.3,175.0 504.7,179.0 505.1,171.9 505.5,175.2 505.9,167.2 506.2,170.7 506.6,169.1 507.0,177.5 507.4,173.7 507.8,176.8 508.2,170.0 508.5,174.6 508.9,170.6 509.3,162.3 509.7,175.6 510.1,170.0 510.5,173.3 510.9,177.2 511.2,173.4 511.6,176.6 512.0,172.0 512.4,169.3 512.8,171.2 513.2,168.8 513.5,169.0 513.9,179.7 514.3,173.1 514.7,178.4 515.1,165.2 515.5,178.6 515.9,174.0 516.2,173.9 516.6,177.2 517.0,174.6 517.4,176.7 517.8,174.4 518.2,170.9 518.6,171.3 518.9,174.3 519.3,174.6 519.7,175.3 520.1,174.3 520.5,171.3 520.9,171.6 521.2,176.9 521.6,172.3 522.0,170.2 522.4,172.8 522.8,169.9 523.2,173.0 523.6,174.3 523.9,177.6 524.3,174.3 524.7,173.4 525.1,173.8 525.5,173.4 525.9,172.5 526.2,176.1 526.6,173.8 527.0,180.5 527.4,179.1 527.8,175.0 528.2,173.9 528.6,173.4 528.9,171.4 529.3,175.9 529.7,175.8 530.1,172.8 530.5,173.2 530.9,173.5 531.2,169.4 531.6,176.9 532.0,170.8 532.4,175.6 532.8,175.7 533.2,170.5 533.6,173.3 533.9,169.2 534.3,175.0 534.7,179.0 535.1,175.1 535.5,173.7 535.9,169.1 536.2,171.9 536.6,176.1 537.0,178.5 537.4,176.3 537.8,170.1 538.2,175.5 538.6,176.8 538.9,172.2 539.3,175.8 539.7,178.6 540.1,174.8 540.5,177.5 540.9,173.7 541.2,172.5 541.6,171.2 542.0,173.5 542.4,172.6 542.8,171.9 543.2,168.2 543.6,176.8 543.9,171.6 544.3,175.1 544.7,171.3 545.1,174.6 545.5,170.1 545.9,175.9 546.2,173.2 546.6,173.6 547.0,172.7 547.4,173.4 547.8,174.2 548.2,173.2 548.6,179.3 548.9,175.8 549.3,174.6 549.7,167.7 550.1,173.4 550.5,173.9 550.9,176.9 551.2,172.4 551.6,173.7 552.0,177.2 552.4,174.9 552.8,171.2 553.2,175.6 553.6,170.1 553.9,171.4 554.3,173.7 554.7,176.8 555.1,171.1 555.5,172.3 555.9,171.2 556.2,176.7 556.6,175.5 557.0,178.7 557.4,170.0 557.8,174.5 558.2,175.5 558.6,170.9 558.9,171.7 559.3,171.8 559.7,176.7 560.1,175.7 560.5,174.3 560.9,175.5 561.3,173.6 561.6,171.5 562.0,174.2 562.4,176.2 562.8,175.1 563.2,173.7 563.6,173.9 563.9,175.0 564.3,172.8 564.7,174.0 565.1,173.5 565.5,173.9 565.9,174.2 566.3,174.6 566.6,178.1 567.0,169.4 567.4,176.7 567.8,172.6 568.2,177.6 568.6,178.4 568.9,175.5 569.3,174.4 569.7,174.8 570.1,173.3 570.5,174.5 570.9,175.1 571.3,176.4 571.6,173.9 572.0,173.8 572.4,174.7 572.8,176.5 573.2,174.2 573.6,178.0 573.9,175.3 574.3,174.6 574.7,175.5 575.1,175.9 575.5,173.8 575.9,174.5 576.3,174.4 576.6,173.6 577.0,173.4 577.4,175.6 577.8,174.1 578.2,174.4 578.6,174.0 578.9,175.0 579.3,177.6 579.7,172.9 580.1,175.6 580.5,176.3 580.9,175.6 581.3,176.9 581.6,176.4 582.0,176.9 582.4,176.0 582.8,174.6 583.2,172.5 583.6,175.6 583.9,174.7 584.3,176.5 584.7,175.2 585.1,175.7 585.5,176.1 585.9,174.1 586.3,178.7 586.6,176.2 587.0,174.3 587.4,177.6 587.8,178.5 588.2,177.7 588.6,176.0 588.9,176.6 589.3,176.6 589.7,174.5 590.1,175.7 590.5,174.7 590.9,176.2 591.3,175.5 591.6,175.3 592.0,176.4 592.4,178.9 592.8,177.3 593.2,175.7 593.6,176.7 593.9,175.5 594.3,178.0 594.7,177.3 595.1,175.4 595.5,176.4 595.9,173.6 596.3,176.0 596.6,177.1 597.0,178.3 597.4,173.0 597.8,175.3 598.2,176.7 598.6,176.1 598.9,179.2 599.3,177.2 599.7,176.8 600.1,177.7 600.5,176.9 600.9,177.6 601.3,178.4 601.6,176.6 602.0,177.8 602.4,176.5 602.8,176.2 603.2,176.5 603.6,178.1 604.0,176.6 604.3,176.9 604.7,178.5 605.1,175.5 605.5,177.3 605.9,176.7 606.3,176.5 606.6,178.3 607.0,179.5 607.4,177.7 607.8,178.2 608.2,175.5 608.6,178.1 609.0,177.0 609.3,175.8 609.7,177.5 610.1,176.7 610.5,178.0 610.9,176.6 611.3,178.1 611.6,177.5 612.0,177.6 612.4,177.5 612.8,178.2 613.2,177.8 613.6,177.0 614.0,178.6 614.3,177.7 614.7,179.6 615.1,178.5 615.5,177.1 615.9,175.5 616.3,177.4 616.6,178.6 617.0,177.8 617.4,177.2 617.8,175.8 618.2,178.6 618.6,178.6 619.0,177.7 619.3,179.6 619.7,176.9 620.1,177.7 620.5,178.5 620.9,179.1 621.3,179.9 621.6,180.1 622.0,180.5 622.4,178.4 622.8,177.6 623.2,176.7 623.6,178.4 624.0,178.2 624.3,180.2 624.7,178.2 625.1,180.8 625.5,177.6 625.9,176.4 626.3,177.0 626.6,177.0 627.0,177.1 627.4,179.0 627.8,179.6 628.2,180.0 628.6,179.0 629.0,179.6 629.3,179.7 629.7,178.6 630.1,179.3 630.5,177.5 630.9,177.7 631.3,180.2 631.6,179.6 632.0,179.6 632.4,178.0 632.8,180.5 633.2,179.2 633.6,179.7 634.0,180.7 634.3,178.4 634.7,179.8 635.1,178.8 635.5,179.0 635.9,179.1 636.3,179.1 636.6,177.4 637.0,178.6 637.4,178.1 637.8,179.4 638.2,177.3 638.6,179.9 639.0,179.8 639.3,178.0 639.7,176.6 640.1,180.1 640.5,181.6 640.9,179.0 641.3,180.8 641.6,177.9 642.0,176.6 642.4,179.7 642.8,178.2 643.2,178.4 643.6,180.2 644.0,179.3 644.3,178.1 644.7,179.2 645.1,181.0 645.5,180.6 645.9,179.2 646.3,177.7 646.6,179.3 647.0,179.7 647.4,178.2 647.8,179.7 648.2,179.4 648.6,180.6 649.0,179.6 649.3,178.9 649.7,180.1 650.1,181.6 650.5,178.2 650.9,180.3 651.3,180.0 651.7,179.5 652.0,177.5 652.4,180.5 652.8,182.3 653.2,178.5 653.6,179.9 654.0,177.6 654.3,180.0 654.7,178.8 655.1,180.4 655.5,182.9 655.9,178.7 656.3,179.3 656.7,179.1 657.0,180.5 657.4,180.1 657.8,178.9 658.2,178.6 658.6,180.4 659.0,181.6 659.3,180.1 659.7,180.4 660.1,179.7 660.5,179.7 660.9,178.3 661.3,178.9 661.7,180.1 662.0,181.4 662.4,180.5 662.8,178.3 663.2,180.1 663.6,179.4 664.0,180.6 664.3,180.4 664.7,181.6 665.1,181.4 665.5,178.9 665.9,177.8 666.3,179.3 666.7,180.2 667.0,179.7 667.4,179.3 667.8,179.6 668.2,179.7 668.6,180.4 669.0,179.9 669.3,181.0 669.7,179.4 670.1,179.3 670.5,180.1"/><path d="M0,190.0h3M670.5,190.0h-3M0,152.0h3M670.5,152.0h-3M0,114.0h3M670.5,114.0h-3M0,76.0h3M670.5,76.0h-3M0,38.0h3M670.5,38.0h-3M0,0.0h3M670.5,0.0h-3M72.5,190.0v-4M72.5,0v4M313.5,190.0v-4M313.5,0v4M554.5,190.0v-4M554.5,0v4M19.0,190.0v-2M19.0,0v2M35.2,190.0v-2M35.2,0v2M49.1,190.0v-2M49.1,0v2M61.5,190.0v-2M61.5,0v2M145.0,190.0v-2M145.0,0v2M187.5,190.0v-2M187.5,0v2M217.6,190.0v-2M217.6,0v2M241.0,190.0v-2M241.0,0v2M260.0,190.0v-2M260.0,0v2M276.2,190.0v-2M276.2,0v2M290.1,190.0v-2M290.1,0v2M302.5,190.0v-2M302.5,0v2M386.0,190.0v-2M386.0,0v2M428.5,190.0v-2M428.5,0v2M458.6,190.0v-2M458.6,0v2M482.0,190.0v-2M482.0,0v2M501.0,190.0v-2M501.0,0v2M517.2,190.0v-2M517.2,0v2M531.1,190.0v-2M531.1,0v2M543.5,190.0v-2M543.5,0v2M627.0,190.0v-2M627.0,0v2M669.5,190.0v-2M669.5,0v2" stroke="#333" stroke-width="0.8" fill="none"/><rect x="0" y="0" width="670.5" height="190.0" fill="none" stroke="#3a3a3a" stroke-width="1.2"/><rect x="614.5" y="2.9" width="52.7" height="29.8" fill="#fff" stroke="#222" stroke-width="0.9"/><path d="M618.8,8.2h9.5" stroke="#808080" stroke-width="1"/><text x="634.5" y="10.4" font-family="Liberation Sans" font-size="6.2" fill="#222">YETI</text><path d="M618.8,17.5h9.5" stroke="#cfcfcf" stroke-width="1"/><text x="634.5" y="19.7" font-family="Liberation Sans" font-size="6.2" fill="#222">Only Jena</text><path d="M618.8,26.5h9.5" stroke="#000" stroke-width="1"/><text x="634.5" y="28.7" font-family="Liberation Sans" font-size="6.2" fill="#222">Deviation</text></svg>
<div class="ax" style="left:1792.0px;top:344.0px;transform:translate(-100%,-50%)">0</div>
<div class="ax" style="left:1792.0px;top:306.0px;transform:translate(-100%,-50%)">20</div>
<div class="ax" style="left:1792.0px;top:268.0px;transform:translate(-100%,-50%)">40</div>
<div class="ax" style="left:1792.0px;top:230.0px;transform:translate(-100%,-50%)">60</div>
<div class="ax" style="left:1792.0px;top:192.0px;transform:translate(-100%,-50%)">80</div>
<div class="ax" style="left:1792.0px;top:154.0px;transform:translate(-100%,-50%)">100</div>
<div class="ax" style="left:1868.0px;top:345.5px;transform:translateX(-50%)">10<sup class="e">0</sup></div>
<div class="ax" style="left:2109.0px;top:345.5px;transform:translateX(-50%)">10<sup class="e">1</sup></div>
<div class="ax" style="left:2350.0px;top:345.5px;transform:translateX(-50%)">10<sup class="e">2</sup></div>
<div class="ax" style="left:2130px;top:357.5px;transform:translateX(-50%)">Period [d]</div>
<div class="ax" style="left:1758.5px;top:249px;transform-origin:0 0;transform:rotate(-90deg) translate(-50%,0)">Phase coverage [%]</div>
<svg width="714" height="698.5" viewBox="0 0 714 698.5" style="position:absolute;left:3452px;top:144.5px"><defs>
<radialGradient id="corner" cx="0.5" cy="0.5" r="0.5"><stop offset="0" stop-color="#5a3018" stop-opacity="0.9"/><stop offset="0.45" stop-color="#3a2416" stop-opacity="0.55"/><stop offset="1" stop-color="#161814" stop-opacity="0"/></radialGradient>
<radialGradient id="neb" cx="0.5" cy="0.5" r="0.5"><stop offset="0" stop-color="#d0d0e0" stop-opacity="0.7"/><stop offset="0.3" stop-color="#9094b0" stop-opacity="0.5"/><stop offset="0.65" stop-color="#4a5070" stop-opacity="0.28"/><stop offset="1" stop-color="#1a1c28" stop-opacity="0"/></radialGradient>
<radialGradient id="haze" cx="0.5" cy="0.5" r="0.5"><stop offset="0" stop-color="#2a3048" stop-opacity="0.6"/><stop offset="0.55" stop-color="#20263a" stop-opacity="0.35"/><stop offset="1" stop-color="#1a1c24" stop-opacity="0"/></radialGradient>
<radialGradient id="atik" cx="0.5" cy="0.5" r="0.5"><stop offset="0" stop-color="#ffffff"/><stop offset="0.32" stop-color="#fbfffc"/><stop offset="0.46" stop-color="#c8f8e0"/><stop offset="0.62" stop-color="#60d0a8" stop-opacity="0.8"/><stop offset="0.8" stop-color="#3a8090" stop-opacity="0.4"/><stop offset="1" stop-color="#24406a" stop-opacity="0"/></radialGradient>
<radialGradient id="star" cx="0.5" cy="0.5" r="0.5"><stop offset="0" stop-color="#fff"/><stop offset="0.4" stop-color="#fff" stop-opacity="0.9"/><stop offset="1" stop-color="#fff" stop-opacity="0"/></radialGradient>
<radialGradient id="gstar" cx="0.5" cy="0.5" r="0.5"><stop offset="0" stop-color="#fff"/><stop offset="0.3" stop-color="#f0fff0"/><stop offset="0.55" stop-color="#70e070" stop-opacity="0.55"/><stop offset="1" stop-color="#40c040" stop-opacity="0"/></radialGradient>
<radialGradient id="ystar" cx="0.5" cy="0.5" r="0.5"><stop offset="0" stop-color="#fff"/><stop offset="0.35" stop-color="#fff0a0" stop-opacity="0.9"/><stop offset="1" stop-color="#c0a040" stop-opacity="0"/></radialGradient>
<radialGradient id="ostar" cx="0.5" cy="0.5" r="0.5"><stop offset="0" stop-color="#ffe0c0"/><stop offset="0.45" stop-color="#e09a60" stop-opacity="0.85"/><stop offset="1" stop-color="#a05020" stop-opacity="0"/></radialGradient>
</defs><rect width="714" height="698.5" fill="#151714"/><ellipse cx="714" cy="40" rx="110" ry="300" fill="url(#corner)"/><ellipse cx="268" cy="300" rx="165" ry="190" fill="url(#haze)"/><ellipse cx="258" cy="336" rx="78" ry="88" fill="url(#neb)"/><circle cx="295.5" cy="231.8" r="90" fill="url(#haze)"/><circle cx="295.5" cy="231.8" r="60" fill="url(#haze)"/><circle cx="323.2" cy="390.8" r="1.4" fill="#ffe0c0" opacity="0.73"/><circle cx="609.1" cy="133.9" r="1.4" fill="#ffe0c0" opacity="0.76"/><circle cx="565.0" cy="67.4" r="0.9" fill="#ffe0c0" opacity="0.57"/><circle cx="576.8" cy="483.6" r="0.7" fill="#d88850" opacity="0.80"/><circle cx="687.0" cy="456.1" r="1.1" fill="#ffe0c0" opacity="0.83"/><circle cx="12.7" cy="369.0" r="0.7" fill="#e89858" opacity="0.52"/><circle cx="427.7" cy="542.4" r="0.9" fill="#e89858" opacity="0.72"/><circle cx="370.6" cy="446.7" r="1.0" fill="#f0a868" opacity="0.50"/><circle cx="326.7" cy="195.2" r="1.1" fill="#f0a868" opacity="1.00"/><circle cx="504.5" cy="221.0" r="0.8" fill="#f0a868" opacity="0.76"/><circle cx="51.9" cy="534.2" r="1.0" fill="#f8c090" opacity="0.55"/><circle cx="276.4" cy="667.4" r="1.4" fill="#e89858" opacity="0.84"/><circle cx="150.9" cy="634.2" r="1.0" fill="#d88850" opacity="0.69"/><circle cx="300.1" cy="395.3" r="0.8" fill="#f8c090" opacity="0.89"/><circle cx="241.2" cy="218.1" r="0.7" fill="#f0a868" opacity="0.98"/><circle cx="97.6" cy="493.0" r="0.7" fill="#d88850" opacity="0.53"/><circle cx="128.2" cy="390.4" r="1.0" fill="#e89858" opacity="0.75"/><circle cx="299.7" cy="268.5" r="1.0" fill="#e89858" opacity="0.71"/><circle cx="2.3" cy="602.3" r="1.4" fill="#f0a868" opacity="0.80"/><circle cx="151.6" cy="275.8" r="1.4" fill="#ffe0c0" opacity="0.80"/><circle cx="73.2" cy="689.1" r="0.8" fill="#f0a868" opacity="0.72"/><circle cx="550.6" cy="230.5" r="0.9" fill="#f0a868" opacity="0.69"/><circle cx="66.0" cy="406.7" r="0.8" fill="#f8c090" opacity="0.51"/><circle cx="265.9" cy="316.8" r="1.1" fill="#ffe0c0" opacity="0.74"/><circle cx="98.4" cy="270.1" r="1.2" fill="#e89858" opacity="0.58"/><circle cx="582.6" cy="175.3" r="0.8" fill="#ffe0c0" opacity="0.58"/><circle cx="141.6" cy="661.9" r="1.0" fill="#d88850" opacity="0.80"/><circle cx="35.7" cy="77.7" r="1.1" fill="#e89858" opacity="0.98"/><circle cx="527.3" cy="274.0" r="1.0" fill="#ffe0c0" opacity="0.91"/><circle cx="350.6" cy="363.2" r="1.2" fill="#e89858" opacity="0.99"/><circle cx="164.2" cy="390.5" r="1.4" fill="#f0a868" opacity="0.81"/><circle cx="201.0" cy="639.1" r="0.8" fill="#f0a868" opacity="0.87"/><circle cx="193.1" cy="311.5" r="0.7" fill="#f8c090" opacity="0.52"/><circle cx="263.8" cy="399.4" r="0.8" fill="#e89858" opacity="0.55"/><circle cx="634.6" cy="683.0" r="1.2" fill="#ffe0c0" opacity="0.87"/><circle cx="417.0" cy="99.5" r="0.7" fill="#d88850" opacity="0.96"/><circle cx="648.3" cy="488.8" r="0.7" fill="#f0a868" opacity="0.51"/><circle cx="344.4" cy="509.3" r="0.9" fill="#f0a868" opacity="0.57"/><circle cx="55.4" cy="381.3" r="1.2" fill="#e89858" opacity="0.52"/><circle cx="565.2" cy="637.5" r="0.9" fill="#d88850" opacity="0.54"/><circle cx="641.6" cy="607.0" r="1.0" fill="#f0a868" opacity="0.97"/><circle cx="615.1" cy="399.8" r="1.1" fill="#d88850" opacity="0.83"/><circle cx="415.7" cy="424.9" r="0.7" fill="#f0a868" opacity="0.55"/><circle cx="707.3" cy="613.0" r="1.2" fill="#ffe0c0" opacity="0.67"/><circle cx="327.0" cy="323.3" r="1.1" fill="#ffe0c0" opacity="0.54"/><circle cx="23.2" cy="419.6" r="1.0" fill="#f0a868" opacity="0.51"/><circle cx="355.0" cy="428.8" r="1.0" fill="#f0a868" opacity="0.63"/><circle cx="263.2" cy="101.5" r="1.1" fill="#e89858" opacity="0.60"/><circle cx="537.2" cy="239.9" r="1.0" fill="#e89858" opacity="0.75"/><circle cx="234.1" cy="464.5" r="0.8" fill="#e89858" opacity="0.82"/><circle cx="627.0" cy="269.0" r="1.1" fill="#e89858" opacity="0.96"/><circle cx="98.7" cy="346.8" r="1.4" fill="#f0a868" opacity="0.95"/><circle cx="507.0" cy="661.8" r="0.9" fill="#f0a868" opacity="0.91"/><circle cx="322.0" cy="193.1" r="0.8" fill="#d88850" opacity="0.92"/><circle cx="446.3" cy="345.0" r="0.9" fill="#ffe0c0" opacity="0.86"/><circle cx="323.3" cy="53.9" r="0.7" fill="#ffe0c0" opacity="0.64"/><circle cx="31.5" cy="494.1" r="1.1" fill="#ffe0c0" opacity="0.68"/><circle cx="15.6" cy="96.4" r="1.0" fill="#f8c090" opacity="0.59"/><circle cx="170.6" cy="99.8" r="0.7" fill="#f0a868" opacity="0.99"/><circle cx="319.0" cy="439.5" r="1.2" fill="#f8c090" opacity="0.82"/><circle cx="682.5" cy="477.4" r="0.8" fill="#f8c090" opacity="0.91"/><circle cx="128.9" cy="9.5" r="1.0" fill="#f0a868" opacity="0.77"/><circle cx="129.2" cy="191.2" r="0.9" fill="#ffe0c0" opacity="0.77"/><circle cx="357.3" cy="694.3" r="0.8" fill="#e89858" opacity="0.70"/><circle cx="63.9" cy="649.7" r="1.2" fill="#d88850" opacity="0.69"/><circle cx="324.0" cy="436.4" r="0.7" fill="#ffe0c0" opacity="0.69"/><circle cx="465.4" cy="351.1" r="1.4" fill="#d88850" opacity="0.97"/><circle cx="233.8" cy="684.2" r="0.7" fill="#f0a868" opacity="0.86"/><circle cx="153.4" cy="627.0" r="0.7" fill="#ffe0c0" opacity="0.99"/><circle cx="695.5" cy="649.5" r="0.9" fill="#f0a868" opacity="0.95"/><circle cx="249.4" cy="59.5" r="1.0" fill="#d88850" opacity="0.67"/><circle cx="547.4" cy="340.5" r="0.7" fill="#f0a868" opacity="0.61"/><circle cx="306.5" cy="26.4" r="1.1" fill="#e89858" opacity="0.67"/><circle cx="336.1" cy="696.4" r="1.2" fill="#d88850" opacity="0.76"/><circle cx="673.5" cy="344.1" r="1.2" fill="#e89858" opacity="0.54"/><circle cx="314.0" cy="390.1" r="1.4" fill="#e89858" opacity="0.86"/><circle cx="373.2" cy="587.9" r="1.1" fill="#d88850" opacity="0.63"/><circle cx="679.9" cy="606.3" r="1.1" fill="#e89858" opacity="0.60"/><circle cx="689.6" cy="366.1" r="1.1" fill="#d88850" opacity="0.75"/><circle cx="382.5" cy="351.5" r="1.1" fill="#ffe0c0" opacity="0.69"/><circle cx="690.3" cy="360.4" r="1.0" fill="#ffe0c0" opacity="0.77"/><circle cx="88.6" cy="66.7" r="0.8" fill="#ffe0c0" opacity="0.53"/><circle cx="327.8" cy="641.5" r="1.4" fill="#f8c090" opacity="0.96"/><circle cx="176.9" cy="344.4" r="0.9" fill="#d88850" opacity="0.72"/><circle cx="374.7" cy="77.4" r="1.0" fill="#f8c090" opacity="0.81"/><circle cx="93.9" cy="543.2" r="0.7" fill="#e89858" opacity="0.52"/><circle cx="163.4" cy="479.1" r="0.9" fill="#e89858" opacity="0.86"/><circle cx="442.0" cy="74.8" r="1.2" fill="#ffe0c0" opacity="0.79"/><circle cx="444.7" cy="500.4" r="1.2" fill="#d88850" opacity="0.77"/><circle cx="18.5" cy="441.6" r="1.4" fill="#e89858" opacity="0.76"/><circle cx="384.1" cy="601.9" r="1.1" fill="#ffe0c0" opacity="0.82"/><circle cx="155.5" cy="379.1" r="1.1" fill="#e89858" opacity="0.93"/><circle cx="651.5" cy="438.1" r="0.9" fill="#f8c090" opacity="0.95"/><circle cx="430.2" cy="620.6" r="0.8" fill="#e89858" opacity="0.61"/><circle cx="632.2" cy="95.0" r="0.8" fill="#f0a868" opacity="0.57"/><circle cx="186.2" cy="69.4" r="1.4" fill="#ffe0c0" opacity="0.97"/><circle cx="562.9" cy="89.5" r="1.0" fill="#f0a868" opacity="0.81"/><circle cx="70.2" cy="397.8" r="0.9" fill="#f8c090" opacity="0.96"/><circle cx="83.9" cy="353.2" r="1.4" fill="#e89858" opacity="0.67"/><circle cx="572.0" cy="336.8" r="0.7" fill="#ffe0c0" opacity="0.52"/><circle cx="437.5" cy="630.6" r="1.0" fill="#e89858" opacity="0.57"/><circle cx="83.6" cy="121.8" r="0.8" fill="#f0a868" opacity="1.00"/><circle cx="413.6" cy="95.4" r="1.2" fill="#f0a868" opacity="0.73"/><circle cx="234.0" cy="326.3" r="1.1" fill="#e89858" opacity="0.68"/><circle cx="428.7" cy="11.2" r="1.2" fill="#e89858" opacity="0.52"/><circle cx="130.7" cy="317.3" r="1.2" fill="#e89858" opacity="0.69"/><circle cx="431.5" cy="67.8" r="1.4" fill="#f0a868" opacity="0.51"/><circle cx="571.2" cy="491.4" r="1.4" fill="#d88850" opacity="0.95"/><circle cx="406.5" cy="134.6" r="1.1" fill="#f8c090" opacity="0.99"/><circle cx="200.5" cy="82.8" r="1.2" fill="#d88850" opacity="0.89"/><circle cx="96.6" cy="231.1" r="1.1" fill="#d88850" opacity="0.85"/><circle cx="545.3" cy="283.8" r="1.2" fill="#f8c090" opacity="0.59"/><circle cx="216.2" cy="72.0" r="0.9" fill="#ffe0c0" opacity="1.00"/><circle cx="37.2" cy="191.6" r="1.2" fill="#e89858" opacity="0.65"/><circle cx="470.4" cy="397.6" r="1.1" fill="#ffe0c0" opacity="0.54"/><circle cx="711.9" cy="448.1" r="1.2" fill="#d88850" opacity="0.56"/><circle cx="697.9" cy="17.8" r="1.1" fill="#e89858" opacity="0.55"/><circle cx="184.2" cy="280.9" r="0.7" fill="#d88850" opacity="0.88"/><circle cx="9.7" cy="181.6" r="0.9" fill="#ffe0c0" opacity="0.95"/><circle cx="385.7" cy="290.7" r="1.1" fill="#f0a868" opacity="0.78"/><circle cx="455.0" cy="564.2" r="0.7" fill="#f0a868" opacity="0.77"/><circle cx="276.4" cy="653.9" r="1.0" fill="#e89858" opacity="0.74"/><circle cx="609.5" cy="378.4" r="1.1" fill="#d88850" opacity="0.53"/><circle cx="300.7" cy="367.8" r="1.1" fill="#ffe0c0" opacity="0.66"/><circle cx="204.9" cy="457.0" r="1.1" fill="#f8c090" opacity="0.96"/><circle cx="21.1" cy="538.5" r="1.1" fill="#e89858" opacity="0.52"/><circle cx="292.3" cy="477.3" r="0.7" fill="#d88850" opacity="0.95"/><circle cx="37.6" cy="688.7" r="0.9" fill="#e89858" opacity="0.54"/><circle cx="307.0" cy="333.7" r="1.4" fill="#ffe0c0" opacity="0.62"/><circle cx="71.9" cy="564.7" r="1.0" fill="#e89858" opacity="0.57"/><circle cx="430.6" cy="81.9" r="1.1" fill="#f0a868" opacity="0.71"/><circle cx="146.6" cy="38.2" r="1.1" fill="#f8c090" opacity="0.58"/><circle cx="316.4" cy="465.9" r="1.0" fill="#ffe0c0" opacity="0.80"/><circle cx="486.2" cy="254.8" r="1.2" fill="#e89858" opacity="0.77"/><circle cx="678.4" cy="512.0" r="0.8" fill="#ffe0c0" opacity="0.74"/><circle cx="635.8" cy="546.7" r="1.1" fill="#f8c090" opacity="0.92"/><circle cx="194.8" cy="477.8" r="1.1" fill="#e89858" opacity="0.85"/><circle cx="451.5" cy="525.2" r="0.8" fill="#ffe0c0" opacity="0.98"/><circle cx="697.6" cy="638.0" r="1.2" fill="#f0a868" opacity="0.52"/><circle cx="8.7" cy="182.2" r="0.7" fill="#f0a868" opacity="0.81"/><circle cx="160.0" cy="195.3" r="1.4" fill="#e89858" opacity="0.54"/><circle cx="392.9" cy="440.3" r="0.9" fill="#f8c090" opacity="0.74"/><circle cx="151.5" cy="240.7" r="1.2" fill="#f0a868" opacity="0.57"/><circle cx="571.6" cy="312.7" r="1.4" fill="#e89858" opacity="0.81"/><circle cx="317.5" cy="521.0" r="1.0" fill="#f8c090" opacity="0.90"/><circle cx="111.0" cy="582.8" r="1.1" fill="#ffe0c0" opacity="0.66"/><circle cx="540.9" cy="575.8" r="0.8" fill="#f8c090" opacity="0.71"/><circle cx="414.2" cy="322.9" r="0.9" fill="#f0a868" opacity="0.54"/><circle cx="308.7" cy="396.5" r="1.4" fill="#f8c090" opacity="0.84"/><circle cx="586.7" cy="8.5" r="0.9" fill="#ffe0c0" opacity="0.61"/><circle cx="60.0" cy="213.0" r="1.2" fill="#f8c090" opacity="0.88"/><circle cx="202.9" cy="101.3" r="0.9" fill="#f8c090" opacity="0.83"/><circle cx="262.1" cy="83.5" r="1.2" fill="#ffe0c0" opacity="0.72"/><circle cx="654.2" cy="654.8" r="0.9" fill="#f8c090" opacity="0.72"/><circle cx="327.4" cy="155.6" r="1.2" fill="#e89858" opacity="0.95"/><circle cx="61.8" cy="577.4" r="0.7" fill="#d88850" opacity="0.68"/><circle cx="417.2" cy="554.9" r="1.2" fill="#d88850" opacity="0.78"/><circle cx="385.8" cy="582.9" r="1.1" fill="#f0a868" opacity="0.59"/><circle cx="540.9" cy="613.8" r="0.9" fill="#e89858" opacity="0.91"/><circle cx="368.1" cy="379.9" r="1.1" fill="#f0a868" opacity="0.65"/><circle cx="464.4" cy="560.6" r="0.7" fill="#f8c090" opacity="0.79"/><circle cx="561.5" cy="60.4" r="0.7" fill="#f0a868" opacity="0.64"/><circle cx="640.3" cy="60.8" r="1.2" fill="#f0a868" opacity="0.83"/><circle cx="531.5" cy="452.7" r="0.8" fill="#d88850" opacity="0.86"/><circle cx="545.4" cy="364.2" r="1.4" fill="#f8c090" opacity="0.73"/><circle cx="241.8" cy="674.5" r="1.2" fill="#d88850" opacity="0.57"/><circle cx="383.5" cy="502.7" r="1.2" fill="#f0a868" opacity="0.81"/><circle cx="293.5" cy="575.8" r="1.2" fill="#f0a868" opacity="0.67"/><circle cx="574.2" cy="581.1" r="1.0" fill="#f0a868" opacity="0.98"/><circle cx="373.9" cy="495.2" r="1.4" fill="#d88850" opacity="0.55"/><circle cx="652.0" cy="172.7" r="0.8" fill="#d88850" opacity="1.00"/><circle cx="487.7" cy="224.9" r="1.0" fill="#f8c090" opacity="0.71"/><circle cx="196.6" cy="617.4" r="1.0" fill="#f0a868" opacity="0.65"/><circle cx="217.5" cy="110.0" r="0.8" fill="#d88850" opacity="0.96"/><circle cx="14.2" cy="336.1" r="1.4" fill="#f0a868" opacity="0.52"/><circle cx="142.3" cy="251.5" r="1.1" fill="#d88850" opacity="0.62"/><circle cx="424.3" cy="157.5" r="0.8" fill="#d88850" opacity="0.95"/><circle cx="124.5" cy="528.1" r="0.9" fill="#ffe0c0" opacity="0.81"/><circle cx="342.4" cy="182.9" r="1.0" fill="#f8c090" opacity="0.96"/><circle cx="470.8" cy="537.9" r="0.7" fill="#e89858" opacity="0.74"/><circle cx="285.6" cy="153.0" r="0.8" fill="#d88850" opacity="0.90"/><circle cx="695.0" cy="553.9" r="1.4" fill="#f0a868" opacity="0.64"/><circle cx="468.9" cy="167.0" r="0.7" fill="#f8c090" opacity="0.94"/><circle cx="321.5" cy="173.2" r="1.0" fill="#e89858" opacity="0.80"/><circle cx="297.2" cy="538.1" r="0.8" fill="#ffe0c0" opacity="0.63"/><circle cx="95.1" cy="517.1" r="1.1" fill="#ffe0c0" opacity="0.63"/><circle cx="39.6" cy="399.2" r="0.8" fill="#e89858" opacity="0.50"/><circle cx="585.7" cy="59.2" r="0.9" fill="#ffe0c0" opacity="0.81"/><circle cx="71.0" cy="335.4" r="1.0" fill="#ffe0c0" opacity="0.54"/><circle cx="387.8" cy="353.4" r="0.7" fill="#d88850" opacity="0.89"/><circle cx="139.1" cy="475.8" r="1.4" fill="#e89858" opacity="0.91"/><circle cx="28.4" cy="288.9" r="1.0" fill="#f8c090" opacity="0.58"/><circle cx="226.4" cy="283.6" r="1.1" fill="#d88850" opacity="0.65"/><circle cx="475.7" cy="48.6" r="0.7" fill="#f0a868" opacity="0.84"/><circle cx="476.0" cy="471.4" r="1.2" fill="#f0a868" opacity="0.98"/><circle cx="466.3" cy="10.6" r="1.0" fill="#d88850" opacity="0.86"/><circle cx="170.6" cy="393.8" r="1.0" fill="#e89858" opacity="0.89"/><circle cx="642.1" cy="107.7" r="1.2" fill="#ffe0c0" opacity="0.69"/><circle cx="534.3" cy="664.6" r="1.4" fill="#f0a868" opacity="0.70"/><circle cx="184.1" cy="140.9" r="1.2" fill="#f8c090" opacity="0.55"/><circle cx="673.0" cy="392.9" r="1.2" fill="#d88850" opacity="0.82"/><circle cx="589.1" cy="66.1" r="0.8" fill="#e89858" opacity="0.81"/><circle cx="483.2" cy="493.9" r="0.8" fill="#f0a868" opacity="0.60"/><circle cx="596.2" cy="413.7" r="0.7" fill="#f0a868" opacity="0.55"/><circle cx="113.5" cy="88.2" r="1.0" fill="#f8c090" opacity="0.89"/><circle cx="655.6" cy="298.6" r="1.1" fill="#e89858" opacity="0.57"/><circle cx="546.5" cy="572.3" r="1.0" fill="#d88850" opacity="0.74"/><circle cx="444.3" cy="506.9" r="1.1" fill="#e89858" opacity="0.85"/><circle cx="470.8" cy="424.7" r="0.7" fill="#e89858" opacity="0.63"/><circle cx="245.0" cy="453.9" r="0.7" fill="#e89858" opacity="0.78"/><circle cx="363.6" cy="549.7" r="1.4" fill="#e89858" opacity="0.55"/><circle cx="182.3" cy="376.2" r="0.9" fill="#f8c090" opacity="0.77"/><circle cx="436.5" cy="358.6" r="1.1" fill="#ffe0c0" opacity="0.86"/><circle cx="710.8" cy="492.9" r="0.8" fill="#f0a868" opacity="0.78"/><circle cx="447.3" cy="139.4" r="0.7" fill="#d88850" opacity="0.57"/><circle cx="411.3" cy="486.1" r="0.9" fill="#f8c090" opacity="0.55"/><circle cx="191.0" cy="615.2" r="1.0" fill="#e89858" opacity="0.99"/><circle cx="171.4" cy="397.4" r="1.1" fill="#ffe0c0" opacity="0.78"/><circle cx="651.7" cy="119.0" r="1.2" fill="#f8c090" opacity="1.00"/><circle cx="429.1" cy="87.2" r="1.4" fill="#f8c090" opacity="0.50"/><circle cx="173.0" cy="400.4" r="1.4" fill="#ffe0c0" opacity="0.58"/><circle cx="391.0" cy="55.0" r="0.7" fill="#e89858" opacity="0.70"/><circle cx="220.4" cy="468.2" r="1.2" fill="#ffe0c0" opacity="0.95"/><circle cx="422.2" cy="560.3" r="0.7" fill="#d88850" opacity="0.58"/><circle cx="334.3" cy="101.3" r="1.0" fill="#d88850" opacity="0.56"/><circle cx="125.3" cy="363.0" r="0.9" fill="#f8c090" opacity="0.62"/><circle cx="40.0" cy="546.5" r="1.2" fill="#e89858" opacity="0.84"/><circle cx="288.3" cy="347.6" r="0.7" fill="#d88850" opacity="0.73"/><circle cx="638.7" cy="636.1" r="1.1" fill="#f8c090" opacity="0.88"/><circle cx="346.9" cy="692.8" r="1.4" fill="#d88850" opacity="0.95"/><circle cx="587.8" cy="83.5" r="0.7" fill="#ffe0c0" opacity="0.95"/><circle cx="236.6" cy="363.6" r="1.0" fill="#f8c090" opacity="0.95"/><circle cx="646.2" cy="207.6" r="1.1" fill="#d88850" opacity="0.95"/><circle cx="426.2" cy="524.2" r="0.9" fill="#f0a868" opacity="0.94"/><circle cx="175.5" cy="588.4" r="0.8" fill="#d88850" opacity="0.75"/><circle cx="692.5" cy="332.4" r="0.7" fill="#e89858" opacity="0.76"/><circle cx="388.9" cy="458.2" r="0.8" fill="#f8c090" opacity="0.94"/><circle cx="617.2" cy="294.7" r="1.4" fill="#d88850" opacity="0.58"/><circle cx="404.4" cy="629.4" r="0.7" fill="#e89858" opacity="0.76"/><circle cx="89.9" cy="375.4" r="1.0" fill="#e89858" opacity="0.50"/><circle cx="519.0" cy="18.6" r="0.8" fill="#d88850" opacity="0.53"/><circle cx="581.0" cy="277.9" r="0.9" fill="#e89858" opacity="0.85"/><circle cx="34.6" cy="23.6" r="0.9" fill="#d88850" opacity="0.65"/><circle cx="103.7" cy="541.4" r="1.4" fill="#e89858" opacity="0.74"/><circle cx="145.9" cy="598.6" r="1.2" fill="#e89858" opacity="0.95"/><circle cx="226.3" cy="598.7" r="1.0" fill="#ffe0c0" opacity="0.51"/><circle cx="145.4" cy="441.2" r="0.8" fill="#f0a868" opacity="0.97"/><circle cx="463.6" cy="214.6" r="1.4" fill="#f8c090" opacity="0.66"/><circle cx="619.4" cy="497.3" r="0.8" fill="#d88850" opacity="0.67"/><circle cx="296.8" cy="119.6" r="1.4" fill="#e89858" opacity="0.65"/><circle cx="193.0" cy="502.1" r="1.1" fill="#f8c090" opacity="0.83"/><circle cx="266.5" cy="461.8" r="0.7" fill="#e89858" opacity="0.79"/><circle cx="695.8" cy="623.9" r="0.8" fill="#f8c090" opacity="0.83"/><circle cx="96.1" cy="465.8" r="1.0" fill="#d88850" opacity="0.99"/><circle cx="653.2" cy="53.3" r="0.7" fill="#ffe0c0" opacity="0.50"/><circle cx="204.0" cy="176.3" r="1.4" fill="#e89858" opacity="0.78"/><circle cx="204.5" cy="526.8" r="0.8" fill="#ffe0c0" opacity="0.59"/><circle cx="22.5" cy="550.9" r="0.8" fill="#f0a868" opacity="0.99"/><circle cx="443.6" cy="638.4" r="1.1" fill="#d88850" opacity="0.69"/><circle cx="44.8" cy="46.5" r="1.4" fill="#f8c090" opacity="0.82"/><circle cx="229.8" cy="337.8" r="0.7" fill="#ffe0c0" opacity="0.76"/><circle cx="589.2" cy="442.8" r="1.1" fill="#ffe0c0" opacity="0.87"/><circle cx="125.5" cy="543.5" r="0.8" fill="#d88850" opacity="0.56"/><circle cx="169.1" cy="307.9" r="1.4" fill="#e89858" opacity="0.63"/><circle cx="186.4" cy="379.9" r="1.4" fill="#d88850" opacity="0.79"/><circle cx="187.5" cy="142.6" r="1.2" fill="#d88850" opacity="0.53"/><circle cx="621.7" cy="127.0" r="0.8" fill="#ffe0c0" opacity="0.80"/><circle cx="354.2" cy="303.9" r="1.0" fill="#f0a868" opacity="0.86"/><circle cx="53.5" cy="632.1" r="1.1" fill="#ffe0c0" opacity="0.82"/><circle cx="564.0" cy="167.3" r="0.8" fill="#d88850" opacity="0.53"/><circle cx="32.0" cy="220.3" r="1.1" fill="#f8c090" opacity="0.87"/><circle cx="545.4" cy="348.1" r="1.2" fill="#e89858" opacity="0.91"/><circle cx="271.0" cy="174.3" r="1.0" fill="#ffe0c0" opacity="0.85"/><circle cx="560.6" cy="44.5" r="1.0" fill="#e89858" opacity="0.73"/><circle cx="501.7" cy="666.8" r="0.8" fill="#ffe0c0" opacity="0.74"/><circle cx="702.2" cy="102.4" r="1.0" fill="#f0a868" opacity="0.76"/><circle cx="4.4" cy="286.6" r="1.1" fill="#d88850" opacity="0.57"/><circle cx="396.8" cy="329.7" r="0.7" fill="#ffe0c0" opacity="0.99"/><circle cx="165.2" cy="177.9" r="1.1" fill="#d88850" opacity="0.93"/><circle cx="329.7" cy="649.6" r="0.9" fill="#ffe0c0" opacity="0.65"/><circle cx="157.0" cy="113.4" r="1.1" fill="#f0a868" opacity="0.82"/><circle cx="525.6" cy="396.1" r="1.4" fill="#e89858" opacity="0.94"/><circle cx="330.4" cy="274.9" r="1.4" fill="#d88850" opacity="0.61"/><circle cx="556.8" cy="151.6" r="0.9" fill="#ffe0c0" opacity="0.62"/><circle cx="572.9" cy="335.5" r="1.0" fill="#d88850" opacity="0.61"/><circle cx="541.3" cy="330.2" r="1.0" fill="#e89858" opacity="1.00"/><circle cx="614.5" cy="144.1" r="1.0" fill="#f0a868" opacity="0.71"/><circle cx="492.9" cy="254.0" r="0.9" fill="#ffe0c0" opacity="0.81"/><circle cx="131.3" cy="184.2" r="1.0" fill="#e89858" opacity="0.78"/><circle cx="192.7" cy="252.8" r="0.8" fill="#f8c090" opacity="0.86"/><circle cx="99.3" cy="169.3" r="1.4" fill="#f0a868" opacity="0.95"/><circle cx="710.6" cy="584.6" r="1.0" fill="#d88850" opacity="0.54"/><circle cx="232.9" cy="537.3" r="1.1" fill="#f8c090" opacity="0.83"/><circle cx="281.7" cy="167.5" r="0.7" fill="#ffe0c0" opacity="0.59"/><circle cx="424.7" cy="24.1" r="0.9" fill="#d88850" opacity="0.71"/><circle cx="388.2" cy="96.5" r="1.2" fill="#f8c090" opacity="0.77"/><circle cx="517.1" cy="464.7" r="0.8" fill="#f8c090" opacity="0.94"/><circle cx="381.8" cy="314.1" r="0.8" fill="#f8c090" opacity="0.69"/><circle cx="162.5" cy="204.8" r="0.9" fill="#e89858" opacity="0.81"/><circle cx="30.9" cy="19.0" r="1.2" fill="#f0a868" opacity="0.74"/><circle cx="576.2" cy="679.6" r="0.9" fill="#f0a868" opacity="0.83"/><circle cx="654.5" cy="152.2" r="1.2" fill="#f0a868" opacity="0.68"/><circle cx="680.2" cy="605.1" r="0.8" fill="#f8c090" opacity="0.89"/><circle cx="65.8" cy="299.0" r="1.0" fill="#d88850" opacity="0.75"/><circle cx="274.2" cy="229.9" r="1.0" fill="#e89858" opacity="0.85"/><circle cx="114.6" cy="281.5" r="1.0" fill="#f8c090" opacity="0.88"/><circle cx="474.3" cy="168.5" r="0.7" fill="#d88850" opacity="0.87"/><circle cx="573.0" cy="334.2" r="0.9" fill="#ffe0c0" opacity="0.85"/><circle cx="221.1" cy="637.2" r="1.0" fill="#f0a868" opacity="0.56"/><circle cx="649.8" cy="190.9" r="1.0" fill="#ffe0c0" opacity="0.75"/><circle cx="215.0" cy="501.5" r="0.9" fill="#f0a868" opacity="0.54"/><circle cx="248.4" cy="621.3" r="1.1" fill="#e89858" opacity="0.65"/><circle cx="458.0" cy="269.0" r="0.9" fill="#f8c090" opacity="0.98"/><circle cx="24.0" cy="493.2" r="0.8" fill="#f0a868" opacity="0.89"/><circle cx="442.8" cy="287.4" r="1.0" fill="#f0a868" opacity="0.53"/><circle cx="591.0" cy="613.0" r="1.0" fill="#d88850" opacity="0.98"/><circle cx="29.1" cy="96.3" r="1.1" fill="#d88850" opacity="0.64"/><circle cx="257.9" cy="680.5" r="0.8" fill="#f8c090" opacity="0.80"/><circle cx="164.2" cy="474.4" r="0.8" fill="#ffe0c0" opacity="0.76"/><circle cx="697.7" cy="4.4" r="1.1" fill="#ffe0c0" opacity="0.75"/><circle cx="58.1" cy="573.9" r="1.4" fill="#f8c090" opacity="0.85"/><circle cx="189.5" cy="74.2" r="0.7" fill="#e89858" opacity="0.66"/><circle cx="495.7" cy="478.8" r="0.8" fill="#e89858" opacity="0.91"/><circle cx="238.5" cy="480.7" r="1.4" fill="#f8c090" opacity="0.78"/><circle cx="296.5" cy="256.8" r="1.2" fill="#e89858" opacity="0.77"/><circle cx="460.8" cy="253.6" r="1.2" fill="#ffe0c0" opacity="0.59"/><circle cx="525.6" cy="611.4" r="0.7" fill="#f8c090" opacity="0.91"/><circle cx="82.1" cy="315.6" r="1.4" fill="#f0a868" opacity="0.84"/><circle cx="117.4" cy="603.6" r="1.4" fill="#f8c090" opacity="0.74"/><circle cx="182.3" cy="354.4" r="1.4" fill="#f8c090" opacity="0.85"/><circle cx="510.3" cy="176.9" r="1.2" fill="#e89858" opacity="0.84"/><circle cx="239.0" cy="529.3" r="1.4" fill="#e89858" opacity="0.78"/><circle cx="404.9" cy="294.1" r="1.2" fill="#f8c090" opacity="0.56"/><circle cx="570.9" cy="89.0" r="1.0" fill="#f8c090" opacity="0.81"/><circle cx="166.0" cy="130.2" r="0.7" fill="#e89858" opacity="0.74"/><circle cx="192.3" cy="190.3" r="0.9" fill="#d88850" opacity="0.82"/><circle cx="276.5" cy="473.8" r="0.8" fill="#f0a868" opacity="0.52"/><circle cx="620.3" cy="136.6" r="0.9" fill="#f0a868" opacity="0.87"/><circle cx="289.2" cy="630.3" r="1.4" fill="#d88850" opacity="0.77"/><circle cx="123.6" cy="48.8" r="1.0" fill="#f8c090" opacity="0.90"/><circle cx="160.8" cy="503.3" r="1.0" fill="#ffe0c0" opacity="0.88"/><circle cx="278.4" cy="484.0" r="1.1" fill="#e89858" opacity="0.64"/><circle cx="316.0" cy="581.1" r="1.1" fill="#f8c090" opacity="0.97"/><circle cx="627.2" cy="302.5" r="0.8" fill="#f0a868" opacity="0.66"/><circle cx="193.8" cy="397.1" r="0.9" fill="#f8c090" opacity="0.81"/><circle cx="230.7" cy="58.3" r="0.8" fill="#f8c090" opacity="0.68"/><circle cx="398.8" cy="107.3" r="0.7" fill="#f8c090" opacity="0.95"/><circle cx="477.9" cy="4.8" r="0.9" fill="#e89858" opacity="0.74"/><circle cx="706.1" cy="285.7" r="0.7" fill="#ffe0c0" opacity="0.71"/><circle cx="283.1" cy="42.0" r="1.1" fill="#ffe0c0" opacity="0.81"/><circle cx="181.2" cy="133.0" r="0.9" fill="#d88850" opacity="0.93"/><circle cx="407.6" cy="655.4" r="0.7" fill="#f0a868" opacity="0.59"/><circle cx="672.7" cy="376.3" r="1.2" fill="#f8c090" opacity="0.54"/><circle cx="19.0" cy="387.9" r="0.7" fill="#f0a868" opacity="0.76"/><circle cx="631.4" cy="46.2" r="0.9" fill="#ffe0c0" opacity="0.51"/><circle cx="190.1" cy="172.2" r="1.2" fill="#f8c090" opacity="0.75"/><circle cx="572.2" cy="576.8" r="1.4" fill="#f0a868" opacity="0.90"/><circle cx="666.7" cy="336.8" r="1.4" fill="#f8c090" opacity="0.85"/><circle cx="640.3" cy="435.2" r="0.7" fill="#e89858" opacity="0.79"/><circle cx="231.8" cy="505.0" r="1.1" fill="#f8c090" opacity="0.83"/><circle cx="447.1" cy="314.4" r="0.9" fill="#f8c090" opacity="0.64"/><circle cx="423.9" cy="185.8" r="0.8" fill="#e89858" opacity="0.87"/><circle cx="35.3" cy="92.8" r="0.9" fill="#e89858" opacity="0.84"/><circle cx="248.7" cy="110.1" r="0.9" fill="#d88850" opacity="0.68"/><circle cx="17.6" cy="279.6" r="0.7" fill="#f8c090" opacity="0.70"/><circle cx="676.9" cy="585.3" r="1.4" fill="#e89858" opacity="0.60"/><circle cx="229.8" cy="525.7" r="0.7" fill="#f8c090" opacity="0.79"/><circle cx="307.4" cy="670.6" r="0.8" fill="#e89858" opacity="0.75"/><circle cx="578.9" cy="50.6" r="1.0" fill="#f8c090" opacity="0.97"/><circle cx="627.8" cy="542.1" r="1.1" fill="#e89858" opacity="0.99"/><circle cx="520.4" cy="462.1" r="1.2" fill="#ffe0c0" opacity="0.53"/><circle cx="439.6" cy="618.5" r="1.4" fill="#d88850" opacity="0.86"/><circle cx="360.4" cy="396.3" r="0.7" fill="#d88850" opacity="0.56"/><circle cx="311.7" cy="326.5" r="1.4" fill="#e89858" opacity="0.69"/><circle cx="268.6" cy="377.8" r="0.7" fill="#f0a868" opacity="0.76"/><circle cx="377.0" cy="315.7" r="0.9" fill="#ffe0c0" opacity="0.80"/><circle cx="40.8" cy="227.5" r="1.1" fill="#f8c090" opacity="0.73"/><circle cx="526.0" cy="219.4" r="1.2" fill="#ffe0c0" opacity="0.73"/><circle cx="287.5" cy="604.5" r="0.8" fill="#d88850" opacity="0.88"/><circle cx="80.8" cy="131.8" r="1.2" fill="#e89858" opacity="0.89"/><circle cx="590.8" cy="556.0" r="1.1" fill="#f8c090" opacity="0.63"/><circle cx="48.0" cy="606.3" r="1.2" fill="#ffe0c0" opacity="0.67"/><circle cx="575.1" cy="317.3" r="1.1" fill="#d88850" opacity="0.51"/><circle cx="141.2" cy="196.2" r="1.2" fill="#f0a868" opacity="0.62"/><circle cx="396.0" cy="548.7" r="1.0" fill="#f0a868" opacity="0.94"/><circle cx="570.0" cy="595.8" r="1.4" fill="#f0a868" opacity="0.93"/><circle cx="567.7" cy="107.4" r="0.9" fill="#f8c090" opacity="0.59"/><circle cx="28.1" cy="242.1" r="1.4" fill="#f8c090" opacity="0.61"/><circle cx="85.4" cy="128.2" r="1.0" fill="#ffe0c0" opacity="0.52"/><circle cx="332.6" cy="341.7" r="0.7" fill="#e89858" opacity="0.99"/><circle cx="379.9" cy="221.7" r="1.2" fill="#ffe0c0" opacity="0.99"/><circle cx="476.6" cy="301.2" r="0.7" fill="#f8c090" opacity="0.91"/><circle cx="601.7" cy="658.9" r="1.2" fill="#e89858" opacity="0.80"/><circle cx="130.3" cy="90.9" r="1.2" fill="#f0a868" opacity="0.79"/><circle cx="93.7" cy="82.6" r="0.9" fill="#f8c090" opacity="0.81"/><circle cx="220.1" cy="7.6" r="0.7" fill="#f8c090" opacity="0.85"/><circle cx="620.0" cy="536.6" r="0.8" fill="#f8c090" opacity="0.57"/><circle cx="303.6" cy="571.6" r="1.0" fill="#e89858" opacity="0.64"/><circle cx="361.6" cy="656.0" r="0.9" fill="#d88850" opacity="0.76"/><circle cx="168.9" cy="404.3" r="0.9" fill="#f8c090" opacity="0.56"/><circle cx="677.9" cy="56.3" r="1.2" fill="#d88850" opacity="0.73"/><circle cx="277.2" cy="518.2" r="1.1" fill="#f0a868" opacity="0.61"/><circle cx="262.6" cy="233.5" r="1.1" fill="#f8c090" opacity="0.72"/><circle cx="210.0" cy="484.6" r="1.2" fill="#f0a868" opacity="0.81"/><circle cx="294.2" cy="93.8" r="1.4" fill="#d88850" opacity="0.63"/><circle cx="199.6" cy="72.9" r="1.4" fill="#f0a868" opacity="0.88"/><circle cx="389.6" cy="71.1" r="0.8" fill="#f8c090" opacity="0.54"/><circle cx="13.5" cy="23.0" r="1.1" fill="#f8c090" opacity="0.83"/><circle cx="704.8" cy="568.5" r="1.4" fill="#e89858" opacity="0.51"/><circle cx="335.1" cy="253.2" r="1.0" fill="#d88850" opacity="0.75"/><circle cx="478.3" cy="422.5" r="0.8" fill="#d88850" opacity="0.99"/><circle cx="309.7" cy="161.7" r="1.1" fill="#f0a868" opacity="0.85"/><circle cx="49.3" cy="323.0" r="1.0" fill="#e89858" opacity="0.90"/><circle cx="369.7" cy="407.8" r="1.0" fill="#e89858" opacity="0.68"/><circle cx="368.1" cy="68.6" r="1.4" fill="#e89858" opacity="0.54"/><circle cx="682.4" cy="485.3" r="1.4" fill="#f8c090" opacity="0.87"/><circle cx="473.0" cy="675.6" r="1.0" fill="#f0a868" opacity="0.89"/><circle cx="309.5" cy="110.2" r="0.9" fill="#f0a868" opacity="0.93"/><circle cx="79.3" cy="288.8" r="1.1" fill="#f0a868" opacity="0.77"/><circle cx="553.1" cy="67.5" r="1.1" fill="#f0a868" opacity="0.78"/><circle cx="405.2" cy="92.1" r="0.7" fill="#f8c090" opacity="0.75"/><circle cx="210.7" cy="542.0" r="0.8" fill="#d88850" opacity="0.80"/><circle cx="40.6" cy="153.2" r="1.0" fill="#f0a868" opacity="0.59"/><circle cx="328.2" cy="592.8" r="0.7" fill="#ffe0c0" opacity="0.90"/><circle cx="111.9" cy="675.9" r="1.1" fill="#ffe0c0" opacity="0.59"/><circle cx="436.7" cy="601.9" r="0.7" fill="#f0a868" opacity="0.71"/><circle cx="164.5" cy="555.6" r="0.7" fill="#d88850" opacity="0.87"/><circle cx="113.2" cy="370.8" r="0.7" fill="#d88850" opacity="0.70"/><circle cx="215.5" cy="673.0" r="1.2" fill="#f0a868" opacity="0.88"/><circle cx="278.7" cy="210.0" r="0.8" fill="#f0a868" opacity="0.63"/><circle cx="468.6" cy="293.1" r="1.0" fill="#ffe0c0" opacity="0.60"/><circle cx="674.0" cy="396.4" r="1.1" fill="#f0a868" opacity="0.96"/><circle cx="282.1" cy="209.9" r="1.2" fill="#e89858" opacity="0.80"/><circle cx="263.2" cy="300.1" r="1.0" fill="#d88850" opacity="0.69"/><circle cx="239.0" cy="83.1" r="0.9" fill="#f0a868" opacity="0.92"/><circle cx="117.9" cy="267.4" r="0.9" fill="#e89858" opacity="0.70"/><circle cx="481.3" cy="497.3" r="0.7" fill="#d88850" opacity="0.66"/><circle cx="677.2" cy="363.1" r="1.1" fill="#f0a868" opacity="0.74"/><circle cx="267.1" cy="414.0" r="0.7" fill="#ffe0c0" opacity="0.50"/><circle cx="255.6" cy="173.1" r="1.1" fill="#f8c090" opacity="0.85"/><circle cx="151.0" cy="531.7" r="0.7" fill="#d88850" opacity="0.66"/><circle cx="85.7" cy="528.8" r="0.9" fill="#f0a868" opacity="0.53"/><circle cx="153.4" cy="411.4" r="1.4" fill="#d88850" opacity="0.90"/><circle cx="461.5" cy="261.3" r="0.7" fill="#f0a868" opacity="0.64"/><circle cx="62.7" cy="685.5" r="1.4" fill="#f0a868" opacity="0.63"/><circle cx="227.3" cy="571.0" r="1.4" fill="#f8c090" opacity="0.64"/><circle cx="42.3" cy="532.3" r="0.7" fill="#f0a868" opacity="0.70"/><circle cx="394.0" cy="646.0" r="1.2" fill="#ffe0c0" opacity="0.86"/><circle cx="665.4" cy="524.8" r="1.1" fill="#d88850" opacity="0.77"/><circle cx="299.0" cy="474.0" r="1.4" fill="#f0a868" opacity="0.54"/><circle cx="314.8" cy="524.0" r="1.0" fill="#d88850" opacity="0.88"/><circle cx="570.8" cy="311.1" r="1.2" fill="#f0a868" opacity="0.86"/><circle cx="681.2" cy="249.2" r="1.4" fill="#f0a868" opacity="0.77"/><circle cx="501.1" cy="277.8" r="1.2" fill="#ffe0c0" opacity="0.98"/><circle cx="82.9" cy="604.8" r="0.7" fill="#ffe0c0" opacity="0.71"/><circle cx="101.4" cy="660.0" r="0.8" fill="#d88850" opacity="0.94"/><circle cx="291.4" cy="624.7" r="1.0" fill="#d88850" opacity="0.60"/><circle cx="352.5" cy="480.9" r="1.0" fill="#d88850" opacity="0.76"/><circle cx="76.7" cy="517.6" r="0.8" fill="#f8c090" opacity="0.89"/><circle cx="145.5" cy="242.5" r="0.8" fill="#d88850" opacity="0.83"/><circle cx="421.9" cy="363.1" r="1.0" fill="#ffe0c0" opacity="0.73"/><circle cx="600.0" cy="250.8" r="1.1" fill="#d88850" opacity="0.57"/><circle cx="234.9" cy="486.4" r="0.8" fill="#f8c090" opacity="0.82"/><circle cx="520.6" cy="401.3" r="0.9" fill="#f8c090" opacity="0.96"/><circle cx="270.1" cy="499.6" r="1.0" fill="#f0a868" opacity="0.95"/><circle cx="399.3" cy="679.7" r="1.1" fill="#d88850" opacity="0.73"/><circle cx="85.5" cy="131.3" r="1.1" fill="#f8c090" opacity="0.55"/><circle cx="357.4" cy="106.4" r="1.2" fill="#e89858" opacity="0.68"/><circle cx="393.6" cy="233.3" r="0.8" fill="#f8c090" opacity="0.72"/><circle cx="574.1" cy="69.8" r="1.4" fill="#e89858" opacity="0.58"/><circle cx="613.4" cy="514.3" r="0.9" fill="#e89858" opacity="0.56"/><circle cx="415.5" cy="626.6" r="0.9" fill="#f8c090" opacity="0.84"/><circle cx="79.3" cy="549.0" r="1.4" fill="#f8c090" opacity="0.65"/><circle cx="80.4" cy="250.6" r="0.8" fill="#f8c090" opacity="0.77"/><circle cx="476.1" cy="201.0" r="1.1" fill="#d88850" opacity="0.57"/><circle cx="55.8" cy="22.1" r="1.4" fill="#ffe0c0" opacity="0.64"/><circle cx="110.0" cy="272.6" r="1.4" fill="#e89858" opacity="0.93"/><circle cx="434.7" cy="379.7" r="1.2" fill="#ffe0c0" opacity="0.58"/><circle cx="552.4" cy="182.5" r="0.7" fill="#f8c090" opacity="0.71"/><circle cx="464.8" cy="378.8" r="1.0" fill="#f8c090" opacity="0.73"/><circle cx="247.4" cy="152.1" r="1.2" fill="#ffe0c0" opacity="0.75"/><circle cx="517.9" cy="617.0" r="0.7" fill="#f0a868" opacity="0.97"/><circle cx="410.1" cy="645.5" r="1.2" fill="#f0a868" opacity="0.54"/><circle cx="74.4" cy="394.7" r="0.7" fill="#f8c090" opacity="0.60"/><circle cx="221.6" cy="607.7" r="0.7" fill="#f0a868" opacity="0.97"/><circle cx="101.9" cy="289.0" r="0.8" fill="#ffe0c0" opacity="0.99"/><circle cx="387.1" cy="305.3" r="1.2" fill="#ffe0c0" opacity="0.59"/><circle cx="495.2" cy="427.4" r="0.8" fill="#f0a868" opacity="0.94"/><circle cx="298.3" cy="339.5" r="0.7" fill="#f0a868" opacity="0.85"/><circle cx="397.9" cy="677.4" r="1.1" fill="#f8c090" opacity="0.54"/><circle cx="183.8" cy="154.4" r="0.9" fill="#ffe0c0" opacity="0.97"/><circle cx="676.5" cy="644.6" r="1.4" fill="#f0a868" opacity="0.71"/><circle cx="434.3" cy="554.4" r="1.2" fill="#ffe0c0" opacity="0.79"/><circle cx="226.5" cy="119.7" r="1.4" fill="#f0a868" opacity="0.76"/><circle cx="79.5" cy="208.9" r="0.9" fill="#f0a868" opacity="0.98"/><circle cx="296.1" cy="105.6" r="0.8" fill="#ffe0c0" opacity="0.84"/><circle cx="603.1" cy="534.5" r="1.2" fill="#f0a868" opacity="0.90"/><circle cx="265.6" cy="667.5" r="0.8" fill="#e89858" opacity="0.99"/><circle cx="291.4" cy="235.0" r="0.9" fill="#e89858" opacity="0.70"/><circle cx="188.2" cy="408.7" r="1.1" fill="#ffe0c0" opacity="0.86"/><circle cx="481.2" cy="317.9" r="0.8" fill="#d88850" opacity="0.97"/><circle cx="126.7" cy="106.2" r="0.9" fill="#e89858" opacity="0.73"/><circle cx="558.4" cy="233.2" r="0.8" fill="#ffe0c0" opacity="0.84"/><circle cx="186.8" cy="365.1" r="0.9" fill="#f0a868" opacity="0.79"/><circle cx="133.0" cy="163.3" r="0.9" fill="#e89858" opacity="0.75"/><circle cx="480.6" cy="550.9" r="1.1" fill="#ffe0c0" opacity="0.55"/><circle cx="175.6" cy="153.3" r="1.0" fill="#e89858" opacity="0.78"/><circle cx="265.2" cy="249.6" r="0.7" fill="#d88850" opacity="1.00"/><circle cx="712.0" cy="293.1" r="1.2" fill="#f8c090" opacity="0.89"/><circle cx="706.7" cy="145.7" r="0.9" fill="#f0a868" opacity="0.78"/><circle cx="339.9" cy="570.3" r="0.7" fill="#f0a868" opacity="0.53"/><circle cx="272.1" cy="47.2" r="0.8" fill="#e89858" opacity="0.57"/><circle cx="115.5" cy="344.3" r="0.8" fill="#f8c090" opacity="0.97"/><circle cx="100.4" cy="96.6" r="1.4" fill="#f0a868" opacity="0.86"/><circle cx="138.8" cy="96.2" r="1.2" fill="#d88850" opacity="0.62"/><circle cx="262.8" cy="506.8" r="0.9" fill="#f0a868" opacity="0.57"/><circle cx="700.3" cy="505.8" r="1.2" fill="#f8c090" opacity="0.52"/><circle cx="230.1" cy="406.5" r="0.9" fill="#ffe0c0" opacity="0.76"/><circle cx="581.4" cy="309.3" r="1.4" fill="#f0a868" opacity="0.76"/><circle cx="59.9" cy="156.8" r="0.7" fill="#ffe0c0" opacity="0.96"/><circle cx="134.0" cy="672.3" r="1.2" fill="#f8c090" opacity="0.78"/><circle cx="345.4" cy="622.3" r="1.1" fill="#ffe0c0" opacity="0.73"/><circle cx="710.1" cy="341.2" r="0.7" fill="#d88850" opacity="0.60"/><circle cx="696.3" cy="19.0" r="1.4" fill="#ffe0c0" opacity="0.79"/><circle cx="38.8" cy="115.1" r="0.8" fill="#e89858" opacity="0.70"/><circle cx="684.4" cy="18.8" r="1.0" fill="#d88850" opacity="0.90"/><circle cx="436.7" cy="45.9" r="0.7" fill="#f0a868" opacity="0.59"/><circle cx="120.1" cy="677.0" r="0.9" fill="#ffe0c0" opacity="0.63"/><circle cx="401.0" cy="479.6" r="0.9" fill="#f8c090" opacity="0.81"/><circle cx="120.1" cy="101.8" r="1.1" fill="#d88850" opacity="0.79"/><circle cx="307.0" cy="409.6" r="0.9" fill="#d88850" opacity="0.67"/><circle cx="167.7" cy="651.9" r="1.4" fill="#e89858" opacity="0.95"/><circle cx="334.5" cy="391.9" r="0.9" fill="#f8c090" opacity="0.88"/><circle cx="168.9" cy="407.3" r="0.8" fill="#f8c090" opacity="0.85"/><circle cx="203.7" cy="69.3" r="1.2" fill="#d88850" opacity="0.50"/><circle cx="399.1" cy="347.3" r="1.4" fill="#d88850" opacity="0.76"/><circle cx="488.8" cy="462.3" r="1.0" fill="#ffe0c0" opacity="0.63"/><circle cx="603.3" cy="396.9" r="0.7" fill="#d88850" opacity="0.54"/><circle cx="455.8" cy="44.9" r="0.8" fill="#f8c090" opacity="0.99"/><circle cx="384.3" cy="36.9" r="0.9" fill="#e89858" opacity="0.90"/><circle cx="416.1" cy="278.8" r="0.7" fill="#ffe0c0" opacity="0.63"/><circle cx="74.7" cy="247.2" r="0.7" fill="#d88850" opacity="0.97"/><circle cx="612.1" cy="107.2" r="0.9" fill="#ffe0c0" opacity="0.92"/><circle cx="359.1" cy="645.3" r="1.2" fill="#d88850" opacity="0.61"/><circle cx="572.5" cy="681.7" r="0.8" fill="#f8c090" opacity="0.84"/><circle cx="576.8" cy="558.5" r="0.8" fill="#d88850" opacity="0.56"/><circle cx="217.3" cy="171.5" r="1.4" fill="#ffe0c0" opacity="0.51"/><circle cx="469.1" cy="329.0" r="1.2" fill="#d88850" opacity="0.81"/><circle cx="664.1" cy="449.5" r="0.7" fill="#e89858" opacity="0.99"/><circle cx="79.7" cy="684.1" r="1.4" fill="#f8c090" opacity="0.69"/><circle cx="134.0" cy="484.2" r="1.4" fill="#ffe0c0" opacity="0.63"/><circle cx="462.8" cy="522.2" r="1.2" fill="#d88850" opacity="0.53"/><circle cx="547.7" cy="547.4" r="1.4" fill="#f8c090" opacity="0.50"/><circle cx="671.8" cy="445.9" r="1.0" fill="#f8c090" opacity="0.61"/><circle cx="29.7" cy="615.7" r="1.0" fill="#e89858" opacity="0.90"/><circle cx="165.9" cy="431.4" r="0.7" fill="#ffe0c0" opacity="0.85"/><circle cx="308.2" cy="326.2" r="1.2" fill="#f8c090" opacity="0.59"/><circle cx="489.3" cy="656.4" r="0.9" fill="#f0a868" opacity="0.66"/><circle cx="649.2" cy="203.8" r="1.1" fill="#d88850" opacity="0.81"/><circle cx="551.6" cy="233.5" r="0.9" fill="#d88850" opacity="0.61"/><circle cx="48.8" cy="69.1" r="1.2" fill="#d88850" opacity="0.77"/><circle cx="539.2" cy="367.4" r="0.9" fill="#ffe0c0" opacity="0.60"/><circle cx="260.6" cy="303.5" r="1.0" fill="#f0a868" opacity="0.53"/><circle cx="682.7" cy="207.3" r="1.4" fill="#ffe0c0" opacity="0.97"/><circle cx="296.2" cy="284.5" r="0.8" fill="#f0a868" opacity="0.89"/><circle cx="88.6" cy="302.7" r="1.2" fill="#ffe0c0" opacity="0.71"/><circle cx="576.1" cy="644.2" r="1.1" fill="#f8c090" opacity="0.95"/><circle cx="418.2" cy="293.5" r="0.7" fill="#e89858" opacity="0.76"/><circle cx="131.1" cy="687.5" r="1.1" fill="#ffe0c0" opacity="0.58"/><circle cx="690.0" cy="548.7" r="1.1" fill="#f8c090" opacity="0.86"/><circle cx="192.4" cy="555.7" r="0.7" fill="#d88850" opacity="0.85"/><circle cx="45.1" cy="679.8" r="1.0" fill="#f8c090" opacity="0.60"/><circle cx="632.8" cy="41.0" r="0.7" fill="#d88850" opacity="0.50"/><circle cx="495.1" cy="305.9" r="0.8" fill="#d88850" opacity="1.00"/><circle cx="409.0" cy="518.9" r="1.0" fill="#e89858" opacity="0.91"/><circle cx="485.7" cy="429.6" r="0.7" fill="#ffe0c0" opacity="0.54"/><circle cx="93.3" cy="40.0" r="1.0" fill="#d88850" opacity="0.70"/><circle cx="53.7" cy="273.5" r="1.0" fill="#e89858" opacity="0.81"/><circle cx="679.1" cy="593.8" r="1.0" fill="#f8c090" opacity="0.99"/><circle cx="659.6" cy="445.1" r="0.9" fill="#e89858" opacity="0.65"/><circle cx="595.1" cy="502.7" r="1.1" fill="#d88850" opacity="0.71"/><circle cx="619.5" cy="135.1" r="0.7" fill="#f8c090" opacity="0.90"/><circle cx="320.4" cy="256.0" r="1.0" fill="#d88850" opacity="0.60"/><circle cx="226.0" cy="435.3" r="1.0" fill="#ffe0c0" opacity="0.94"/><circle cx="550.7" cy="318.1" r="1.0" fill="#ffe0c0" opacity="0.81"/><circle cx="324.8" cy="263.1" r="1.1" fill="#d88850" opacity="0.99"/><circle cx="631.1" cy="54.1" r="0.8" fill="#ffe0c0" opacity="0.65"/><circle cx="676.3" cy="457.4" r="1.2" fill="#e89858" opacity="0.73"/><circle cx="465.9" cy="158.9" r="1.4" fill="#ffe0c0" opacity="0.54"/><circle cx="697.8" cy="239.3" r="1.2" fill="#d88850" opacity="0.70"/><circle cx="246.6" cy="298.3" r="0.7" fill="#e89858" opacity="0.81"/><circle cx="615.3" cy="210.1" r="0.8" fill="#d88850" opacity="0.87"/><circle cx="44.4" cy="406.9" r="1.4" fill="#d88850" opacity="0.61"/><circle cx="49.3" cy="681.0" r="1.2" fill="#f8c090" opacity="0.88"/><circle cx="413.0" cy="176.7" r="1.2" fill="#d88850" opacity="0.84"/><circle cx="388.5" cy="687.5" r="0.8" fill="#ffe0c0" opacity="0.88"/><circle cx="232.6" cy="506.6" r="0.7" fill="#ffe0c0" opacity="0.64"/><circle cx="245.7" cy="664.0" r="0.9" fill="#d88850" opacity="0.58"/><circle cx="472.9" cy="202.8" r="1.4" fill="#e89858" opacity="0.98"/><circle cx="71.7" cy="35.5" r="1.0" fill="#d88850" opacity="0.76"/><circle cx="406.3" cy="664.2" r="0.9" fill="#f0a868" opacity="0.72"/><circle cx="55.5" cy="210.6" r="1.2" fill="#f8c090" opacity="0.58"/><circle cx="590.2" cy="266.0" r="0.9" fill="#ffe0c0" opacity="0.57"/><circle cx="383.5" cy="18.8" r="0.9" fill="#d88850" opacity="0.70"/><circle cx="107.5" cy="218.1" r="1.4" fill="#ffe0c0" opacity="0.92"/><circle cx="179.3" cy="125.6" r="0.7" fill="#f0a868" opacity="0.96"/><circle cx="526.7" cy="185.6" r="1.0" fill="#ffe0c0" opacity="0.53"/><circle cx="21.9" cy="570.7" r="1.4" fill="#ffe0c0" opacity="0.67"/><circle cx="501.4" cy="487.7" r="0.9" fill="#e89858" opacity="0.91"/><circle cx="602.5" cy="489.0" r="0.7" fill="#ffe0c0" opacity="0.72"/><circle cx="201.8" cy="352.9" r="0.9" fill="#e89858" opacity="0.61"/><circle cx="429.4" cy="223.9" r="1.2" fill="#f8c090" opacity="0.98"/><circle cx="561.5" cy="617.8" r="0.8" fill="#ffe0c0" opacity="0.91"/><circle cx="482.7" cy="121.0" r="0.9" fill="#f8c090" opacity="0.80"/><circle cx="155.4" cy="615.0" r="1.4" fill="#d88850" opacity="0.93"/><circle cx="260.6" cy="160.9" r="1.2" fill="#f0a868" opacity="0.83"/><circle cx="546.3" cy="474.5" r="1.1" fill="#f8c090" opacity="0.51"/><circle cx="33.4" cy="247.2" r="1.0" fill="#d88850" opacity="0.80"/><circle cx="46.5" cy="72.7" r="0.7" fill="#ffe0c0" opacity="0.95"/><circle cx="127.2" cy="191.4" r="1.2" fill="#f8c090" opacity="0.58"/><circle cx="40.1" cy="543.4" r="0.8" fill="#f8c090" opacity="0.78"/><circle cx="179.3" cy="4.4" r="0.9" fill="#f0a868" opacity="0.65"/><circle cx="13.5" cy="217.6" r="1.1" fill="#e89858" opacity="0.59"/><circle cx="82.2" cy="589.6" r="1.0" fill="#e89858" opacity="0.84"/><circle cx="223.4" cy="618.1" r="1.4" fill="#d88850" opacity="0.94"/><circle cx="493.6" cy="349.6" r="1.0" fill="#f8c090" opacity="0.91"/><circle cx="359.9" cy="327.4" r="1.1" fill="#e89858" opacity="0.79"/><circle cx="204.4" cy="207.7" r="1.0" fill="#f0a868" opacity="0.52"/><circle cx="442.5" cy="200.3" r="0.8" fill="#ffe0c0" opacity="0.68"/><circle cx="487.4" cy="482.4" r="1.2" fill="#f0a868" opacity="0.97"/><circle cx="284.2" cy="386.0" r="1.1" fill="#e89858" opacity="1.00"/><circle cx="54.8" cy="173.5" r="0.9" fill="#ffe0c0" opacity="0.77"/><circle cx="396.8" cy="29.0" r="0.9" fill="#f0a868" opacity="0.76"/><circle cx="379.6" cy="80.2" r="1.4" fill="#d88850" opacity="0.57"/><circle cx="509.6" cy="523.4" r="1.0" fill="#d88850" opacity="0.78"/><circle cx="422.0" cy="381.6" r="0.7" fill="#e89858" opacity="0.79"/><circle cx="50.7" cy="519.1" r="0.8" fill="#e89858" opacity="0.84"/><circle cx="666.4" cy="455.0" r="1.4" fill="#ffe0c0" opacity="0.67"/><circle cx="656.4" cy="428.9" r="0.7" fill="#e89858" opacity="0.61"/><circle cx="430.8" cy="170.6" r="0.9" fill="#ffe0c0" opacity="0.67"/><circle cx="373.4" cy="680.2" r="0.8" fill="#e89858" opacity="0.63"/><circle cx="540.4" cy="41.7" r="0.7" fill="#e89858" opacity="0.86"/><circle cx="563.6" cy="442.5" r="1.2" fill="#d88850" opacity="0.58"/><circle cx="459.9" cy="685.7" r="1.4" fill="#e89858" opacity="0.63"/><circle cx="228.9" cy="82.0" r="0.7" fill="#f0a868" opacity="0.97"/><circle cx="616.8" cy="213.2" r="1.4" fill="#d88850" opacity="0.83"/><circle cx="509.6" cy="130.7" r="1.0" fill="#f0a868" opacity="0.83"/><circle cx="172.4" cy="195.7" r="0.8" fill="#f0a868" opacity="0.84"/><circle cx="180.7" cy="484.7" r="1.0" fill="#f0a868" opacity="0.64"/><circle cx="697.6" cy="467.1" r="1.2" fill="#f8c090" opacity="0.85"/><circle cx="352.4" cy="42.9" r="1.0" fill="#f0a868" opacity="0.79"/><circle cx="379.0" cy="35.9" r="0.7" fill="#ffe0c0" opacity="0.68"/><circle cx="265.6" cy="231.2" r="0.8" fill="#ffe0c0" opacity="0.97"/><circle cx="130.1" cy="349.4" r="1.0" fill="#ffe0c0" opacity="0.83"/><circle cx="447.0" cy="313.4" r="1.0" fill="#f0a868" opacity="0.86"/><circle cx="387.3" cy="669.1" r="0.8" fill="#d88850" opacity="0.59"/><circle cx="162.0" cy="304.7" r="1.0" fill="#f8c090" opacity="0.87"/><circle cx="514.9" cy="37.9" r="1.4" fill="#f8c090" opacity="0.53"/><circle cx="117.2" cy="28.1" r="0.7" fill="#d88850" opacity="0.62"/><circle cx="104.9" cy="497.3" r="0.8" fill="#ffe0c0" opacity="0.92"/><circle cx="703.9" cy="559.9" r="1.1" fill="#f8c090" opacity="0.56"/><circle cx="129.8" cy="314.7" r="1.0" fill="#ffe0c0" opacity="0.60"/><circle cx="121.4" cy="119.1" r="1.1" fill="#d88850" opacity="0.90"/><circle cx="108.2" cy="396.6" r="1.1" fill="#f0a868" opacity="0.55"/><circle cx="338.8" cy="29.6" r="1.1" fill="#f8c090" opacity="0.51"/><circle cx="666.1" cy="295.6" r="1.4" fill="#d88850" opacity="0.79"/><circle cx="207.7" cy="200.6" r="1.2" fill="#d88850" opacity="0.57"/><circle cx="570.0" cy="614.2" r="1.2" fill="#f0a868" opacity="0.55"/><circle cx="189.3" cy="208.2" r="0.8" fill="#f0a868" opacity="0.88"/><circle cx="498.6" cy="644.2" r="0.8" fill="#f8c090" opacity="0.81"/><circle cx="545.5" cy="80.3" r="0.7" fill="#f8c090" opacity="0.87"/><circle cx="421.3" cy="471.9" r="1.1" fill="#ffe0c0" opacity="0.95"/><circle cx="633.5" cy="194.6" r="0.8" fill="#f8c090" opacity="0.92"/><circle cx="683.8" cy="101.8" r="1.0" fill="#f0a868" opacity="0.75"/><circle cx="95.4" cy="544.2" r="0.7" fill="#ffe0c0" opacity="0.72"/><circle cx="200.6" cy="226.2" r="1.1" fill="#f8c090" opacity="0.69"/><circle cx="319.7" cy="597.3" r="0.7" fill="#f8c090" opacity="0.63"/><circle cx="361.4" cy="422.6" r="1.1" fill="#e89858" opacity="0.92"/><circle cx="272.0" cy="424.1" r="1.2" fill="#f0a868" opacity="0.50"/><circle cx="490.2" cy="437.6" r="1.2" fill="#ffe0c0" opacity="0.64"/><circle cx="454.7" cy="47.3" r="1.2" fill="#d88850" opacity="0.96"/><circle cx="128.3" cy="323.5" r="1.0" fill="#d88850" opacity="0.97"/><circle cx="192.4" cy="392.2" r="0.8" fill="#d88850" opacity="0.66"/><circle cx="384.3" cy="431.7" r="1.4" fill="#e89858" opacity="0.83"/><circle cx="91.2" cy="418.0" r="1.2" fill="#d88850" opacity="0.52"/><circle cx="601.6" cy="380.8" r="0.8" fill="#f8c090" opacity="0.79"/><circle cx="689.3" cy="42.5" r="0.7" fill="#e89858" opacity="0.97"/><circle cx="328.2" cy="574.6" r="1.2" fill="#d88850" opacity="0.63"/><circle cx="609.9" cy="260.5" r="0.7" fill="#f0a868" opacity="0.53"/><circle cx="340.0" cy="72.1" r="1.1" fill="#f0a868" opacity="0.58"/><circle cx="115.8" cy="243.8" r="0.7" fill="#f8c090" opacity="0.80"/><circle cx="654.2" cy="260.9" r="1.2" fill="#d88850" opacity="0.86"/><circle cx="395.4" cy="406.2" r="1.4" fill="#ffe0c0" opacity="0.53"/><circle cx="694.2" cy="201.3" r="1.4" fill="#d88850" opacity="0.64"/><circle cx="334.6" cy="9.5" r="1.0" fill="#d88850" opacity="0.93"/><circle cx="429.1" cy="355.8" r="1.1" fill="#ffe0c0" opacity="0.63"/><circle cx="95.4" cy="423.5" r="1.2" fill="#f8c090" opacity="0.55"/><circle cx="54.4" cy="424.6" r="1.0" fill="#d88850" opacity="0.90"/><circle cx="684.2" cy="478.1" r="1.0" fill="#f8c090" opacity="0.84"/><circle cx="59.3" cy="83.8" r="1.2" fill="#f0a868" opacity="0.70"/><circle cx="61.9" cy="119.5" r="5.0" fill="url(#star)"/><circle cx="101.2" cy="239.0" r="8.0" fill="url(#ystar)"/><circle cx="114.7" cy="86.9" r="4.0" fill="url(#star)"/><circle cx="36.0" cy="149.7" r="4.0" fill="url(#ystar)"/><circle cx="200.6" cy="57.6" r="4.0" fill="url(#ystar)"/><circle cx="181.0" cy="103.6" r="4.0" fill="url(#ystar)"/><circle cx="30.2" cy="244.2" r="4.0" fill="url(#star)"/><circle cx="19.2" cy="302.3" r="4.0" fill="url(#star)"/><circle cx="621.4" cy="120.4" r="7.0" fill="url(#gstar)"/><circle cx="597.4" cy="139.6" r="6.0" fill="url(#gstar)"/><circle cx="694.3" cy="135.8" r="7.0" fill="url(#gstar)"/><circle cx="566.7" cy="143.0" r="4.0" fill="url(#star)"/><circle cx="473.6" cy="39.8" r="4.0" fill="url(#ystar)"/><circle cx="593.6" cy="13.4" r="3.5" fill="url(#ystar)"/><circle cx="49.9" cy="456.5" r="6.0" fill="url(#star)"/><circle cx="531.2" cy="471.4" r="6.0" fill="url(#star)"/><circle cx="637.7" cy="476.7" r="4.5" fill="url(#star)"/><circle cx="644.9" cy="506.4" r="4.5" fill="url(#star)"/><circle cx="254.3" cy="330.4" r="9.0" fill="url(#star)"/><circle cx="330.6" cy="363.2" r="7.0" fill="url(#star)"/><circle cx="266.8" cy="377.5" r="5.5" fill="url(#star)"/><circle cx="360.2" cy="328.3" r="5.0" fill="url(#star)"/><circle cx="294.6" cy="359.3" r="4.0" fill="url(#star)"/><circle cx="204.0" cy="210.3" r="6.0" fill="url(#ystar)"/><circle cx="208.6" cy="242.0" r="4.0" fill="url(#star)"/><circle cx="295.5" cy="231.8" r="37" fill="none" stroke="#6a84a4" stroke-opacity="0.35" stroke-width="4"/><path d="M150,232.5H430M296,110V360" stroke="#b0c8b8" stroke-opacity="0.10" stroke-width="1.2"/><circle cx="295.5" cy="231.8" r="41" fill="url(#atik)"/><circle cx="264.4" cy="98.8" r="1.1" fill="#fff4e8" opacity="0.85"/><circle cx="110.4" cy="340.7" r="1.1" fill="#fff4e8" opacity="0.85"/><circle cx="124.8" cy="379.3" r="1.1" fill="#fff4e8" opacity="0.85"/><circle cx="261.0" cy="502.1" r="1.1" fill="#fff4e8" opacity="0.85"/><circle cx="374.3" cy="450.3" r="1.1" fill="#fff4e8" opacity="0.85"/><circle cx="449.1" cy="427.3" r="1.1" fill="#fff4e8" opacity="0.85"/><circle cx="472.2" cy="416.7" r="1.1" fill="#fff4e8" opacity="0.85"/><circle cx="543.2" cy="467.1" r="1.1" fill="#fff4e8" opacity="0.85"/><circle cx="518.2" cy="605.3" r="1.1" fill="#fff4e8" opacity="0.85"/><circle cx="235.7" cy="194.9" r="1.1" fill="#fff4e8" opacity="0.85"/><circle cx="250.0" cy="197.4" r="1.1" fill="#fff4e8" opacity="0.85"/><circle cx="204.0" cy="210.3" r="1.1" fill="#fff4e8" opacity="0.85"/><circle cx="212.6" cy="208.8" r="1.1" fill="#fff4e8" opacity="0.85"/><circle cx="235.4" cy="222.7" r="1.1" fill="#fff4e8" opacity="0.85"/><circle cx="353.4" cy="226.3" r="1.1" fill="#fff4e8" opacity="0.85"/><circle cx="339.2" cy="274.8" r="1.1" fill="#fff4e8" opacity="0.85"/><circle cx="353.4" cy="267.3" r="1.1" fill="#fff4e8" opacity="0.85"/><circle cx="176.5" cy="299.4" r="1.1" fill="#fff4e8" opacity="0.85"/><circle cx="261.4" cy="305.5" r="1.1" fill="#fff4e8" opacity="0.85"/><circle cx="253.6" cy="311.5" r="1.1" fill="#fff4e8" opacity="0.85"/><circle cx="224.7" cy="315.1" r="1.1" fill="#fff4e8" opacity="0.85"/><circle cx="228.6" cy="323.3" r="1.1" fill="#fff4e8" opacity="0.85"/><circle cx="235.7" cy="324.4" r="1.1" fill="#fff4e8" opacity="0.85"/><circle cx="292.4" cy="301.9" r="1.1" fill="#fff4e8" opacity="0.85"/><circle cx="283.2" cy="324.4" r="1.1" fill="#fff4e8" opacity="0.85"/><circle cx="266.0" cy="329.7" r="1.1" fill="#fff4e8" opacity="0.85"/><circle cx="299.2" cy="333.6" r="1.1" fill="#fff4e8" opacity="0.85"/><circle cx="160.5" cy="326.2" r="1.1" fill="#fff4e8" opacity="0.85"/><circle cx="194.4" cy="340.8" r="1.1" fill="#fff4e8" opacity="0.85"/><circle cx="234.3" cy="342.6" r="1.1" fill="#fff4e8" opacity="0.85"/><circle cx="231.8" cy="349.3" r="1.1" fill="#fff4e8" opacity="0.85"/><circle cx="246.1" cy="353.6" r="1.1" fill="#fff4e8" opacity="0.85"/><circle cx="242.2" cy="361.1" r="1.1" fill="#fff4e8" opacity="0.85"/><circle cx="322.4" cy="349.3" r="1.1" fill="#fff4e8" opacity="0.85"/><circle cx="337.4" cy="364.3" r="1.1" fill="#fff4e8" opacity="0.85"/><circle cx="355.9" cy="306.2" r="1.1" fill="#fff4e8" opacity="0.85"/><circle cx="398.0" cy="346.1" r="1.1" fill="#fff4e8" opacity="0.85"/><circle cx="246.1" cy="394.3" r="1.1" fill="#fff4e8" opacity="0.85"/><circle cx="180.5" cy="397.8" r="1.1" fill="#fff4e8" opacity="0.85"/><circle cx="162.3" cy="411.4" r="1.1" fill="#fff4e8" opacity="0.85"/><circle cx="229.3" cy="408.9" r="1.1" fill="#fff4e8" opacity="0.85"/><circle cx="282.1" cy="400.3" r="1.1" fill="#fff4e8" opacity="0.85"/><circle cx="248.9" cy="415.3" r="1.1" fill="#fff4e8" opacity="0.85"/><circle cx="169.4" cy="423.2" r="1.1" fill="#fff4e8" opacity="0.85"/><circle cx="182.2" cy="420.0" r="1.1" fill="#fff4e8" opacity="0.85"/><circle cx="214.7" cy="416.0" r="1.1" fill="#fff4e8" opacity="0.85"/><circle cx="369.1" cy="427.4" r="1.1" fill="#fff4e8" opacity="0.85"/><circle cx="350.9" cy="437.1" r="1.1" fill="#fff4e8" opacity="0.85"/><circle cx="137.2" cy="382.1" r="1.1" fill="#fff4e8" opacity="0.85"/><circle cx="84.0" cy="422.5" r="1.1" fill="#fff4e8" opacity="0.85"/><circle cx="93.0" cy="424.4" r="1.1" fill="#fff4e8" opacity="0.85"/><circle cx="98.8" cy="441.6" r="1.1" fill="#fff4e8" opacity="0.85"/><circle cx="122.8" cy="438.8" r="1.1" fill="#fff4e8" opacity="0.85"/><circle cx="207.3" cy="450.3" r="1.1" fill="#fff4e8" opacity="0.85"/><circle cx="277.4" cy="462.3" r="1.1" fill="#fff4e8" opacity="0.85"/><circle cx="435.7" cy="371.1" r="1.1" fill="#fff4e8" opacity="0.85"/><circle cx="262.8" cy="204.2" r="1.1" fill="#fff4e8" opacity="0.85"/><circle cx="237.5" cy="209.2" r="1.1" fill="#fff4e8" opacity="0.85"/><circle cx="314.9" cy="198.5" r="1.1" fill="#fff4e8" opacity="0.85"/><circle cx="341.7" cy="197.8" r="1.1" fill="#fff4e8" opacity="0.85"/><circle cx="383.4" cy="218.8" r="1.1" fill="#fff4e8" opacity="0.85"/><circle cx="204.3" cy="249.5" r="1.1" fill="#fff4e8" opacity="0.85"/><circle cx="247.5" cy="251.3" r="1.1" fill="#fff4e8" opacity="0.85"/><circle cx="255.3" cy="256.3" r="1.1" fill="#fff4e8" opacity="0.85"/><circle cx="270.3" cy="249.1" r="1.1" fill="#fff4e8" opacity="0.85"/><circle cx="289.6" cy="259.5" r="1.1" fill="#fff4e8" opacity="0.85"/><circle cx="324.9" cy="244.8" r="1.1" fill="#fff4e8" opacity="0.85"/><circle cx="351.3" cy="246.6" r="1.1" fill="#fff4e8" opacity="0.85"/><circle cx="382.0" cy="246.6" r="1.1" fill="#fff4e8" opacity="0.85"/><circle cx="272.8" cy="270.9" r="1.1" fill="#fff4e8" opacity="0.85"/><circle cx="174.7" cy="273.0" r="1.1" fill="#fff4e8" opacity="0.85"/><circle cx="212.6" cy="286.6" r="1.1" fill="#fff4e8" opacity="0.85"/><circle cx="223.2" cy="282.3" r="1.1" fill="#fff4e8" opacity="0.85"/><circle cx="241.8" cy="289.4" r="1.1" fill="#fff4e8" opacity="0.85"/><circle cx="244.6" cy="300.1" r="1.1" fill="#fff4e8" opacity="0.85"/><circle cx="237.9" cy="309.0" r="1.1" fill="#fff4e8" opacity="0.85"/><circle cx="242.5" cy="308.0" r="1.1" fill="#fff4e8" opacity="0.85"/><circle cx="279.2" cy="294.8" r="1.1" fill="#fff4e8" opacity="0.85"/><circle cx="290.3" cy="293.7" r="1.1" fill="#fff4e8" opacity="0.85"/><circle cx="300.3" cy="296.6" r="1.1" fill="#fff4e8" opacity="0.85"/><circle cx="287.8" cy="301.9" r="1.1" fill="#fff4e8" opacity="0.85"/><circle cx="383.7" cy="273.0" r="1.1" fill="#fff4e8" opacity="0.85"/><circle cx="376.2" cy="282.3" r="1.1" fill="#fff4e8" opacity="0.85"/><circle cx="279.6" cy="308.3" r="1.1" fill="#fff4e8" opacity="0.85"/><circle cx="283.9" cy="314.4" r="1.1" fill="#fff4e8" opacity="0.85"/><circle cx="268.2" cy="320.1" r="1.1" fill="#fff4e8" opacity="0.85"/><circle cx="291.4" cy="319.7" r="1.1" fill="#fff4e8" opacity="0.85"/><circle cx="291.7" cy="324.4" r="1.1" fill="#fff4e8" opacity="0.85"/><circle cx="176.9" cy="320.8" r="1.1" fill="#fff4e8" opacity="0.85"/><circle cx="166.9" cy="333.3" r="1.1" fill="#fff4e8" opacity="0.85"/><circle cx="241.1" cy="332.6" r="1.1" fill="#fff4e8" opacity="0.85"/><circle cx="245.0" cy="341.1" r="1.1" fill="#fff4e8" opacity="0.85"/><circle cx="257.5" cy="338.3" r="1.1" fill="#fff4e8" opacity="0.85"/><circle cx="262.8" cy="344.7" r="1.1" fill="#fff4e8" opacity="0.85"/><circle cx="257.1" cy="342.9" r="1.1" fill="#fff4e8" opacity="0.85"/><circle cx="240.4" cy="348.3" r="1.1" fill="#fff4e8" opacity="0.85"/><circle cx="227.2" cy="352.9" r="1.1" fill="#fff4e8" opacity="0.85"/><circle cx="233.2" cy="359.0" r="1.1" fill="#fff4e8" opacity="0.85"/><circle cx="244.3" cy="355.0" r="1.1" fill="#fff4e8" opacity="0.85"/><circle cx="254.6" cy="360.8" r="1.1" fill="#fff4e8" opacity="0.85"/><circle cx="274.2" cy="360.8" r="1.1" fill="#fff4e8" opacity="0.85"/><circle cx="273.9" cy="363.2" r="1.1" fill="#fff4e8" opacity="0.85"/><circle cx="299.9" cy="359.7" r="1.1" fill="#fff4e8" opacity="0.85"/><circle cx="339.5" cy="326.9" r="1.1" fill="#fff4e8" opacity="0.85"/><circle cx="367.0" cy="330.8" r="1.1" fill="#fff4e8" opacity="0.85"/><circle cx="364.5" cy="343.3" r="1.1" fill="#fff4e8" opacity="0.85"/><circle cx="383.4" cy="315.5" r="1.1" fill="#fff4e8" opacity="0.85"/><circle cx="335.2" cy="353.3" r="1.1" fill="#fff4e8" opacity="0.85"/><circle cx="343.1" cy="361.8" r="1.1" fill="#fff4e8" opacity="0.85"/><circle cx="387.3" cy="356.5" r="1.1" fill="#fff4e8" opacity="0.85"/><circle cx="175.5" cy="371.4" r="1.1" fill="#fff4e8" opacity="0.85"/><circle cx="194.7" cy="385.4" r="1.1" fill="#fff4e8" opacity="0.85"/><circle cx="233.9" cy="378.6" r="1.1" fill="#fff4e8" opacity="0.85"/><circle cx="249.3" cy="372.9" r="1.1" fill="#fff4e8" opacity="0.85"/><circle cx="255.7" cy="373.9" r="1.1" fill="#fff4e8" opacity="0.85"/><circle cx="287.4" cy="370.7" r="1.1" fill="#fff4e8" opacity="0.85"/><circle cx="298.1" cy="370.0" r="1.1" fill="#fff4e8" opacity="0.85"/><circle cx="292.4" cy="384.3" r="1.1" fill="#fff4e8" opacity="0.85"/><circle cx="323.5" cy="376.8" r="1.1" fill="#fff4e8" opacity="0.85"/><circle cx="303.5" cy="393.9" r="1.1" fill="#fff4e8" opacity="0.85"/><circle cx="279.2" cy="397.8" r="1.1" fill="#fff4e8" opacity="0.85"/><circle cx="281.0" cy="408.9" r="1.1" fill="#fff4e8" opacity="0.85"/><circle cx="286.7" cy="408.9" r="1.1" fill="#fff4e8" opacity="0.85"/><circle cx="335.2" cy="403.5" r="1.1" fill="#fff4e8" opacity="0.85"/><circle cx="293.1" cy="434.6" r="1.1" fill="#fff4e8" opacity="0.85"/><circle cx="9.6" cy="15.8" r="1.1" fill="#fff4e8" opacity="0.85"/><circle cx="261.5" cy="13.4" r="1.1" fill="#fff4e8" opacity="0.85"/><circle cx="276.9" cy="13.4" r="1.1" fill="#fff4e8" opacity="0.85"/><circle cx="108.4" cy="41.7" r="1.1" fill="#fff4e8" opacity="0.85"/><circle cx="125.2" cy="57.6" r="1.1" fill="#fff4e8" opacity="0.85"/><circle cx="353.0" cy="56.0" r="1.1" fill="#fff4e8" opacity="0.85"/><circle cx="38.4" cy="87.8" r="1.1" fill="#fff4e8" opacity="0.85"/><circle cx="330.0" cy="86.4" r="1.1" fill="#fff4e8" opacity="0.85"/><circle cx="6.7" cy="116.0" r="1.1" fill="#fff4e8" opacity="0.85"/><circle cx="19.7" cy="116.0" r="1.1" fill="#fff4e8" opacity="0.85"/><circle cx="131.0" cy="121.9" r="1.1" fill="#fff4e8" opacity="0.85"/><circle cx="260.0" cy="111.3" r="1.1" fill="#fff4e8" opacity="0.85"/><circle cx="49.0" cy="143.5" r="1.1" fill="#fff4e8" opacity="0.85"/><circle cx="107.5" cy="141.0" r="1.1" fill="#fff4e8" opacity="0.85"/><circle cx="230.0" cy="155.5" r="1.1" fill="#fff4e8" opacity="0.85"/><circle cx="346.4" cy="163.0" r="1.1" fill="#fff4e8" opacity="0.85"/><circle cx="5.8" cy="343.0" r="1.1" fill="#fff4e8" opacity="0.85"/><circle cx="19.7" cy="341.6" r="1.1" fill="#fff4e8" opacity="0.85"/><circle cx="476.0" cy="1.5" r="1.1" fill="#fff4e8" opacity="0.85"/><circle cx="581.6" cy="1.5" r="1.1" fill="#fff4e8" opacity="0.85"/><circle cx="365.6" cy="36.0" r="1.1" fill="#fff4e8" opacity="0.85"/><circle cx="413.1" cy="36.5" r="1.1" fill="#fff4e8" opacity="0.85"/><circle cx="420.8" cy="47.0" r="1.1" fill="#fff4e8" opacity="0.85"/><circle cx="516.3" cy="52.8" r="1.1" fill="#fff4e8" opacity="0.85"/><circle cx="603.2" cy="39.3" r="1.1" fill="#fff4e8" opacity="0.85"/><circle cx="660.7" cy="67.7" r="1.1" fill="#fff4e8" opacity="0.85"/><circle cx="420.8" cy="83.5" r="1.1" fill="#fff4e8" opacity="0.85"/><circle cx="554.2" cy="87.8" r="1.1" fill="#fff4e8" opacity="0.85"/><circle cx="520.6" cy="125.2" r="1.1" fill="#fff4e8" opacity="0.85"/><circle cx="660.3" cy="138.2" r="1.1" fill="#fff4e8" opacity="0.85"/><circle cx="657.4" cy="144.4" r="1.1" fill="#fff4e8" opacity="0.85"/><circle cx="523.5" cy="158.3" r="1.1" fill="#fff4e8" opacity="0.85"/><circle cx="616.1" cy="168.0" r="1.1" fill="#fff4e8" opacity="0.85"/><circle cx="575.8" cy="221.2" r="1.1" fill="#fff4e8" opacity="0.85"/><circle cx="590.2" cy="218.3" r="1.1" fill="#fff4e8" opacity="0.85"/><circle cx="681.9" cy="226.0" r="1.1" fill="#fff4e8" opacity="0.85"/><circle cx="699.1" cy="253.4" r="1.1" fill="#fff4e8" opacity="0.85"/><circle cx="577.7" cy="268.2" r="1.1" fill="#fff4e8" opacity="0.85"/><circle cx="504.8" cy="315.3" r="1.1" fill="#fff4e8" opacity="0.85"/><circle cx="525.9" cy="328.2" r="1.1" fill="#fff4e8" opacity="0.85"/><circle cx="52.8" cy="354.8" r="1.1" fill="#fff4e8" opacity="0.85"/><circle cx="73.9" cy="357.2" r="1.1" fill="#fff4e8" opacity="0.85"/><circle cx="86.9" cy="515.5" r="1.1" fill="#fff4e8" opacity="0.85"/><circle cx="130.5" cy="685.9" r="1.1" fill="#fff4e8" opacity="0.85"/><circle cx="82.5" cy="695.0" r="1.1" fill="#fff4e8" opacity="0.85"/><circle cx="641.5" cy="372.6" r="1.1" fill="#fff4e8" opacity="0.85"/><circle cx="705.4" cy="408.0" r="1.1" fill="#fff4e8" opacity="0.85"/><circle cx="578.2" cy="458.4" r="1.1" fill="#fff4e8" opacity="0.85"/><circle cx="545.6" cy="487.2" r="1.1" fill="#fff4e8" opacity="0.85"/><circle cx="388.7" cy="531.4" r="1.1" fill="#fff4e8" opacity="0.85"/><circle cx="637.7" cy="525.1" r="1.1" fill="#fff4e8" opacity="0.85"/><circle cx="551.3" cy="651.3" r="1.1" fill="#fff4e8" opacity="0.85"/><circle cx="620.0" cy="663.8" r="1.1" fill="#fff4e8" opacity="0.85"/><circle cx="551.3" cy="679.7" r="1.1" fill="#fff4e8" opacity="0.85"/><circle cx="619.0" cy="681.1" r="1.1" fill="#fff4e8" opacity="0.85"/><circle cx="627.2" cy="683.0" r="1.1" fill="#fff4e8" opacity="0.85"/><circle cx="321.7" cy="231.6" r="1.1" fill="#fff4e8" opacity="0.85"/><circle cx="275.7" cy="242.3" r="1.1" fill="#fff4e8" opacity="0.85"/><circle cx="152.3" cy="285.5" r="1.1" fill="#fff4e8" opacity="0.85"/><circle cx="306.7" cy="328.3" r="1.1" fill="#fff4e8" opacity="0.85"/><circle cx="230.7" cy="352.9" r="1.1" fill="#fff4e8" opacity="0.85"/><circle cx="213.6" cy="413.5" r="1.1" fill="#fff4e8" opacity="0.85"/><rect x="261.0" y="95.4" width="6.8" height="6.8" fill="none" stroke="#dcd020" stroke-width="1.8"/><rect x="107.0" y="337.3" width="6.8" height="6.8" fill="none" stroke="#dcd020" stroke-width="1.8"/><rect x="121.4" y="375.9" width="6.8" height="6.8" fill="none" stroke="#dcd020" stroke-width="1.8"/><rect x="257.6" y="498.7" width="6.8" height="6.8" fill="none" stroke="#dcd020" stroke-width="1.8"/><rect x="370.9" y="446.9" width="6.8" height="6.8" fill="none" stroke="#dcd020" stroke-width="1.8"/><rect x="445.7" y="423.9" width="6.8" height="6.8" fill="none" stroke="#dcd020" stroke-width="1.8"/><rect x="468.8" y="413.3" width="6.8" height="6.8" fill="none" stroke="#dcd020" stroke-width="1.8"/><rect x="539.8" y="463.7" width="6.8" height="6.8" fill="none" stroke="#dcd020" stroke-width="1.8"/><rect x="514.8" y="601.9" width="6.8" height="6.8" fill="none" stroke="#dcd020" stroke-width="1.8"/><rect x="232.3" y="191.5" width="6.8" height="6.8" fill="none" stroke="#dcd020" stroke-width="1.8"/><rect x="246.6" y="194.0" width="6.8" height="6.8" fill="none" stroke="#dcd020" stroke-width="1.8"/><rect x="200.6" y="206.9" width="6.8" height="6.8" fill="none" stroke="#dcd020" stroke-width="1.8"/><rect x="209.2" y="205.4" width="6.8" height="6.8" fill="none" stroke="#dcd020" stroke-width="1.8"/><rect x="232.0" y="219.3" width="6.8" height="6.8" fill="none" stroke="#dcd020" stroke-width="1.8"/><rect x="350.0" y="222.9" width="6.8" height="6.8" fill="none" stroke="#dcd020" stroke-width="1.8"/><rect x="335.8" y="271.4" width="6.8" height="6.8" fill="none" stroke="#dcd020" stroke-width="1.8"/><rect x="350.0" y="263.9" width="6.8" height="6.8" fill="none" stroke="#dcd020" stroke-width="1.8"/><rect x="173.1" y="296.0" width="6.8" height="6.8" fill="none" stroke="#dcd020" stroke-width="1.8"/><rect x="258.0" y="302.1" width="6.8" height="6.8" fill="none" stroke="#dcd020" stroke-width="1.8"/><rect x="250.2" y="308.1" width="6.8" height="6.8" fill="none" stroke="#dcd020" stroke-width="1.8"/><rect x="221.3" y="311.7" width="6.8" height="6.8" fill="none" stroke="#dcd020" stroke-width="1.8"/><rect x="225.2" y="319.9" width="6.8" height="6.8" fill="none" stroke="#dcd020" stroke-width="1.8"/><rect x="232.3" y="321.0" width="6.8" height="6.8" fill="none" stroke="#dcd020" stroke-width="1.8"/><rect x="289.0" y="298.5" width="6.8" height="6.8" fill="none" stroke="#dcd020" stroke-width="1.8"/><rect x="279.8" y="321.0" width="6.8" height="6.8" fill="none" stroke="#dcd020" stroke-width="1.8"/><rect x="262.6" y="326.3" width="6.8" height="6.8" fill="none" stroke="#dcd020" stroke-width="1.8"/><rect x="295.8" y="330.2" width="6.8" height="6.8" fill="none" stroke="#dcd020" stroke-width="1.8"/><rect x="157.1" y="322.8" width="6.8" height="6.8" fill="none" stroke="#dcd020" stroke-width="1.8"/><rect x="191.0" y="337.4" width="6.8" height="6.8" fill="none" stroke="#dcd020" stroke-width="1.8"/><rect x="230.9" y="339.2" width="6.8" height="6.8" fill="none" stroke="#dcd020" stroke-width="1.8"/><rect x="228.4" y="345.9" width="6.8" height="6.8" fill="none" stroke="#dcd020" stroke-width="1.8"/><rect x="242.7" y="350.2" width="6.8" height="6.8" fill="none" stroke="#dcd020" stroke-width="1.8"/><rect x="238.8" y="357.7" width="6.8" height="6.8" fill="none" stroke="#dcd020" stroke-width="1.8"/><rect x="319.0" y="345.9" width="6.8" height="6.8" fill="none" stroke="#dcd020" stroke-width="1.8"/><rect x="334.0" y="360.9" width="6.8" height="6.8" fill="none" stroke="#dcd020" stroke-width="1.8"/><rect x="352.5" y="302.8" width="6.8" height="6.8" fill="none" stroke="#dcd020" stroke-width="1.8"/><rect x="394.6" y="342.7" width="6.8" height="6.8" fill="none" stroke="#dcd020" stroke-width="1.8"/><rect x="242.7" y="390.9" width="6.8" height="6.8" fill="none" stroke="#dcd020" stroke-width="1.8"/><rect x="177.1" y="394.4" width="6.8" height="6.8" fill="none" stroke="#dcd020" stroke-width="1.8"/><rect x="158.9" y="408.0" width="6.8" height="6.8" fill="none" stroke="#dcd020" stroke-width="1.8"/><rect x="225.9" y="405.5" width="6.8" height="6.8" fill="none" stroke="#dcd020" stroke-width="1.8"/><rect x="278.7" y="396.9" width="6.8" height="6.8" fill="none" stroke="#dcd020" stroke-width="1.8"/><rect x="245.5" y="411.9" width="6.8" height="6.8" fill="none" stroke="#dcd020" stroke-width="1.8"/><rect x="166.0" y="419.8" width="6.8" height="6.8" fill="none" stroke="#dcd020" stroke-width="1.8"/><rect x="178.8" y="416.6" width="6.8" height="6.8" fill="none" stroke="#dcd020" stroke-width="1.8"/><rect x="211.3" y="412.6" width="6.8" height="6.8" fill="none" stroke="#dcd020" stroke-width="1.8"/><rect x="365.7" y="424.0" width="6.8" height="6.8" fill="none" stroke="#dcd020" stroke-width="1.8"/><rect x="347.5" y="433.7" width="6.8" height="6.8" fill="none" stroke="#dcd020" stroke-width="1.8"/><path d="M137.2,377.1l3.2,5l-3.2,5l-3.2,-5z" fill="none" stroke="#ee2020" stroke-width="1.7"/><path d="M84.0,417.5l3.2,5l-3.2,5l-3.2,-5z" fill="none" stroke="#ee2020" stroke-width="1.7"/><path d="M93.0,419.4l3.2,5l-3.2,5l-3.2,-5z" fill="none" stroke="#ee2020" stroke-width="1.7"/><path d="M98.8,436.6l3.2,5l-3.2,5l-3.2,-5z" fill="none" stroke="#ee2020" stroke-width="1.7"/><path d="M122.8,433.8l3.2,5l-3.2,5l-3.2,-5z" fill="none" stroke="#ee2020" stroke-width="1.7"/><path d="M207.3,445.3l3.2,5l-3.2,5l-3.2,-5z" fill="none" stroke="#ee2020" stroke-width="1.7"/><path d="M277.4,457.3l3.2,5l-3.2,5l-3.2,-5z" fill="none" stroke="#ee2020" stroke-width="1.7"/><path d="M435.7,366.1l3.2,5l-3.2,5l-3.2,-5z" fill="none" stroke="#ee2020" stroke-width="1.7"/><path d="M262.8,199.2l3.2,5l-3.2,5l-3.2,-5z" fill="none" stroke="#ee2020" stroke-width="1.7"/><path d="M237.5,204.2l3.2,5l-3.2,5l-3.2,-5z" fill="none" stroke="#ee2020" stroke-width="1.7"/><path d="M314.9,193.5l3.2,5l-3.2,5l-3.2,-5z" fill="none" stroke="#ee2020" stroke-width="1.7"/><path d="M341.7,192.8l3.2,5l-3.2,5l-3.2,-5z" fill="none" stroke="#ee2020" stroke-width="1.7"/><path d="M383.4,213.8l3.2,5l-3.2,5l-3.2,-5z" fill="none" stroke="#ee2020" stroke-width="1.7"/><path d="M204.3,244.5l3.2,5l-3.2,5l-3.2,-5z" fill="none" stroke="#ee2020" stroke-width="1.7"/><path d="M247.5,246.3l3.2,5l-3.2,5l-3.2,-5z" fill="none" stroke="#ee2020" stroke-width="1.7"/><path d="M255.3,251.3l3.2,5l-3.2,5l-3.2,-5z" fill="none" stroke="#ee2020" stroke-width="1.7"/><path d="M270.3,244.1l3.2,5l-3.2,5l-3.2,-5z" fill="none" stroke="#ee2020" stroke-width="1.7"/><path d="M289.6,254.5l3.2,5l-3.2,5l-3.2,-5z" fill="none" stroke="#ee2020" stroke-width="1.7"/><path d="M324.9,239.8l3.2,5l-3.2,5l-3.2,-5z" fill="none" stroke="#ee2020" stroke-width="1.7"/><path d="M351.3,241.6l3.2,5l-3.2,5l-3.2,-5z" fill="none" stroke="#ee2020" stroke-width="1.7"/><path d="M382.0,241.6l3.2,5l-3.2,5l-3.2,-5z" fill="none" stroke="#ee2020" stroke-width="1.7"/><path d="M272.8,265.9l3.2,5l-3.2,5l-3.2,-5z" fill="none" stroke="#ee2020" stroke-width="1.7"/><path d="M174.7,268.0l3.2,5l-3.2,5l-3.2,-5z" fill="none" stroke="#ee2020" stroke-width="1.7"/><path d="M212.6,281.6l3.2,5l-3.2,5l-3.2,-5z" fill="none" stroke="#ee2020" stroke-width="1.7"/><path d="M223.2,277.3l3.2,5l-3.2,5l-3.2,-5z" fill="none" stroke="#ee2020" stroke-width="1.7"/><path d="M241.8,284.4l3.2,5l-3.2,5l-3.2,-5z" fill="none" stroke="#ee2020" stroke-width="1.7"/><path d="M244.6,295.1l3.2,5l-3.2,5l-3.2,-5z" fill="none" stroke="#ee2020" stroke-width="1.7"/><path d="M237.9,304.0l3.2,5l-3.2,5l-3.2,-5z" fill="none" stroke="#ee2020" stroke-width="1.7"/><path d="M242.5,303.0l3.2,5l-3.2,5l-3.2,-5z" fill="none" stroke="#ee2020" stroke-width="1.7"/><path d="M279.2,289.8l3.2,5l-3.2,5l-3.2,-5z" fill="none" stroke="#ee2020" stroke-width="1.7"/><path d="M290.3,288.7l3.2,5l-3.2,5l-3.2,-5z" fill="none" stroke="#ee2020" stroke-width="1.7"/><path d="M300.3,291.6l3.2,5l-3.2,5l-3.2,-5z" fill="none" stroke="#ee2020" stroke-width="1.7"/><path d="M287.8,296.9l3.2,5l-3.2,5l-3.2,-5z" fill="none" stroke="#ee2020" stroke-width="1.7"/><path d="M383.7,268.0l3.2,5l-3.2,5l-3.2,-5z" fill="none" stroke="#ee2020" stroke-width="1.7"/><path d="M376.2,277.3l3.2,5l-3.2,5l-3.2,-5z" fill="none" stroke="#ee2020" stroke-width="1.7"/><path d="M279.6,303.3l3.2,5l-3.2,5l-3.2,-5z" fill="none" stroke="#ee2020" stroke-width="1.7"/><path d="M283.9,309.4l3.2,5l-3.2,5l-3.2,-5z" fill="none" stroke="#ee2020" stroke-width="1.7"/><path d="M268.2,315.1l3.2,5l-3.2,5l-3.2,-5z" fill="none" stroke="#ee2020" stroke-width="1.7"/><path d="M291.4,314.7l3.2,5l-3.2,5l-3.2,-5z" fill="none" stroke="#ee2020" stroke-width="1.7"/><path d="M291.7,319.4l3.2,5l-3.2,5l-3.2,-5z" fill="none" stroke="#ee2020" stroke-width="1.7"/><path d="M176.9,315.8l3.2,5l-3.2,5l-3.2,-5z" fill="none" stroke="#ee2020" stroke-width="1.7"/><path d="M166.9,328.3l3.2,5l-3.2,5l-3.2,-5z" fill="none" stroke="#ee2020" stroke-width="1.7"/><path d="M241.1,327.6l3.2,5l-3.2,5l-3.2,-5z" fill="none" stroke="#ee2020" stroke-width="1.7"/><path d="M245.0,336.1l3.2,5l-3.2,5l-3.2,-5z" fill="none" stroke="#ee2020" stroke-width="1.7"/><path d="M257.5,333.3l3.2,5l-3.2,5l-3.2,-5z" fill="none" stroke="#ee2020" stroke-width="1.7"/><path d="M262.8,339.7l3.2,5l-3.2,5l-3.2,-5z" fill="none" stroke="#ee2020" stroke-width="1.7"/><path d="M257.1,337.9l3.2,5l-3.2,5l-3.2,-5z" fill="none" stroke="#ee2020" stroke-width="1.7"/><path d="M240.4,343.3l3.2,5l-3.2,5l-3.2,-5z" fill="none" stroke="#ee2020" stroke-width="1.7"/><path d="M227.2,347.9l3.2,5l-3.2,5l-3.2,-5z" fill="none" stroke="#ee2020" stroke-width="1.7"/><path d="M233.2,354.0l3.2,5l-3.2,5l-3.2,-5z" fill="none" stroke="#ee2020" stroke-width="1.7"/><path d="M244.3,350.0l3.2,5l-3.2,5l-3.2,-5z" fill="none" stroke="#ee2020" stroke-width="1.7"/><path d="M254.6,355.8l3.2,5l-3.2,5l-3.2,-5z" fill="none" stroke="#ee2020" stroke-width="1.7"/><path d="M274.2,355.8l3.2,5l-3.2,5l-3.2,-5z" fill="none" stroke="#ee2020" stroke-width="1.7"/><path d="M273.9,358.2l3.2,5l-3.2,5l-3.2,-5z" fill="none" stroke="#ee2020" stroke-width="1.7"/><path d="M299.9,354.7l3.2,5l-3.2,5l-3.2,-5z" fill="none" stroke="#ee2020" stroke-width="1.7"/><path d="M339.5,321.9l3.2,5l-3.2,5l-3.2,-5z" fill="none" stroke="#ee2020" stroke-width="1.7"/><path d="M367.0,325.8l3.2,5l-3.2,5l-3.2,-5z" fill="none" stroke="#ee2020" stroke-width="1.7"/><path d="M364.5,338.3l3.2,5l-3.2,5l-3.2,-5z" fill="none" stroke="#ee2020" stroke-width="1.7"/><path d="M383.4,310.5l3.2,5l-3.2,5l-3.2,-5z" fill="none" stroke="#ee2020" stroke-width="1.7"/><path d="M335.2,348.3l3.2,5l-3.2,5l-3.2,-5z" fill="none" stroke="#ee2020" stroke-width="1.7"/><path d="M343.1,356.8l3.2,5l-3.2,5l-3.2,-5z" fill="none" stroke="#ee2020" stroke-width="1.7"/><path d="M387.3,351.5l3.2,5l-3.2,5l-3.2,-5z" fill="none" stroke="#ee2020" stroke-width="1.7"/><path d="M175.5,366.4l3.2,5l-3.2,5l-3.2,-5z" fill="none" stroke="#ee2020" stroke-width="1.7"/><path d="M194.7,380.4l3.2,5l-3.2,5l-3.2,-5z" fill="none" stroke="#ee2020" stroke-width="1.7"/><path d="M233.9,373.6l3.2,5l-3.2,5l-3.2,-5z" fill="none" stroke="#ee2020" stroke-width="1.7"/><path d="M249.3,367.9l3.2,5l-3.2,5l-3.2,-5z" fill="none" stroke="#ee2020" stroke-width="1.7"/><path d="M255.7,368.9l3.2,5l-3.2,5l-3.2,-5z" fill="none" stroke="#ee2020" stroke-width="1.7"/><path d="M287.4,365.7l3.2,5l-3.2,5l-3.2,-5z" fill="none" stroke="#ee2020" stroke-width="1.7"/><path d="M298.1,365.0l3.2,5l-3.2,5l-3.2,-5z" fill="none" stroke="#ee2020" stroke-width="1.7"/><path d="M292.4,379.3l3.2,5l-3.2,5l-3.2,-5z" fill="none" stroke="#ee2020" stroke-width="1.7"/><path d="M323.5,371.8l3.2,5l-3.2,5l-3.2,-5z" fill="none" stroke="#ee2020" stroke-width="1.7"/><path d="M303.5,388.9l3.2,5l-3.2,5l-3.2,-5z" fill="none" stroke="#ee2020" stroke-width="1.7"/><path d="M279.2,392.8l3.2,5l-3.2,5l-3.2,-5z" fill="none" stroke="#ee2020" stroke-width="1.7"/><path d="M281.0,403.9l3.2,5l-3.2,5l-3.2,-5z" fill="none" stroke="#ee2020" stroke-width="1.7"/><path d="M286.7,403.9l3.2,5l-3.2,5l-3.2,-5z" fill="none" stroke="#ee2020" stroke-width="1.7"/><path d="M335.2,398.5l3.2,5l-3.2,5l-3.2,-5z" fill="none" stroke="#ee2020" stroke-width="1.7"/><path d="M293.1,429.6l3.2,5l-3.2,5l-3.2,-5z" fill="none" stroke="#ee2020" stroke-width="1.7"/><path d="M9.6,12.2l-4,6.6h8z" fill="none" stroke="#fafafa" stroke-width="1.7" stroke-linejoin="miter"/><path d="M261.5,9.8l-4,6.6h8z" fill="none" stroke="#fafafa" stroke-width="1.7" stroke-linejoin="miter"/><path d="M276.9,9.8l-4,6.6h8z" fill="none" stroke="#fafafa" stroke-width="1.7" stroke-linejoin="miter"/><path d="M108.4,38.1l-4,6.6h8z" fill="none" stroke="#fafafa" stroke-width="1.7" stroke-linejoin="miter"/><path d="M125.2,54.0l-4,6.6h8z" fill="none" stroke="#fafafa" stroke-width="1.7" stroke-linejoin="miter"/><path d="M353.0,52.4l-4,6.6h8z" fill="none" stroke="#fafafa" stroke-width="1.7" stroke-linejoin="miter"/><path d="M38.4,84.2l-4,6.6h8z" fill="none" stroke="#fafafa" stroke-width="1.7" stroke-linejoin="miter"/><path d="M330.0,82.8l-4,6.6h8z" fill="none" stroke="#fafafa" stroke-width="1.7" stroke-linejoin="miter"/><path d="M6.7,112.4l-4,6.6h8z" fill="none" stroke="#fafafa" stroke-width="1.7" stroke-linejoin="miter"/><path d="M19.7,112.4l-4,6.6h8z" fill="none" stroke="#fafafa" stroke-width="1.7" stroke-linejoin="miter"/><path d="M131.0,118.3l-4,6.6h8z" fill="none" stroke="#fafafa" stroke-width="1.7" stroke-linejoin="miter"/><path d="M260.0,107.7l-4,6.6h8z" fill="none" stroke="#fafafa" stroke-width="1.7" stroke-linejoin="miter"/><path d="M49.0,139.9l-4,6.6h8z" fill="none" stroke="#fafafa" stroke-width="1.7" stroke-linejoin="miter"/><path d="M107.5,137.4l-4,6.6h8z" fill="none" stroke="#fafafa" stroke-width="1.7" stroke-linejoin="miter"/><path d="M230.0,151.9l-4,6.6h8z" fill="none" stroke="#fafafa" stroke-width="1.7" stroke-linejoin="miter"/><path d="M346.4,159.4l-4,6.6h8z" fill="none" stroke="#fafafa" stroke-width="1.7" stroke-linejoin="miter"/><path d="M5.8,339.4l-4,6.6h8z" fill="none" stroke="#fafafa" stroke-width="1.7" stroke-linejoin="miter"/><path d="M19.7,338.0l-4,6.6h8z" fill="none" stroke="#fafafa" stroke-width="1.7" stroke-linejoin="miter"/><path d="M476.0,-2.1l-4,6.6h8z" fill="none" stroke="#fafafa" stroke-width="1.7" stroke-linejoin="miter"/><path d="M581.6,-2.1l-4,6.6h8z" fill="none" stroke="#fafafa" stroke-width="1.7" stroke-linejoin="miter"/><path d="M365.6,32.4l-4,6.6h8z" fill="none" stroke="#fafafa" stroke-width="1.7" stroke-linejoin="miter"/><path d="M413.1,32.9l-4,6.6h8z" fill="none" stroke="#fafafa" stroke-width="1.7" stroke-linejoin="miter"/><path d="M420.8,43.4l-4,6.6h8z" fill="none" stroke="#fafafa" stroke-width="1.7" stroke-linejoin="miter"/><path d="M516.3,49.2l-4,6.6h8z" fill="none" stroke="#fafafa" stroke-width="1.7" stroke-linejoin="miter"/><path d="M603.2,35.7l-4,6.6h8z" fill="none" stroke="#fafafa" stroke-width="1.7" stroke-linejoin="miter"/><path d="M660.7,64.1l-4,6.6h8z" fill="none" stroke="#fafafa" stroke-width="1.7" stroke-linejoin="miter"/><path d="M420.8,79.9l-4,6.6h8z" fill="none" stroke="#fafafa" stroke-width="1.7" stroke-linejoin="miter"/><path d="M554.2,84.2l-4,6.6h8z" fill="none" stroke="#fafafa" stroke-width="1.7" stroke-linejoin="miter"/><path d="M520.6,121.6l-4,6.6h8z" fill="none" stroke="#fafafa" stroke-width="1.7" stroke-linejoin="miter"/><path d="M660.3,134.6l-4,6.6h8z" fill="none" stroke="#fafafa" stroke-width="1.7" stroke-linejoin="miter"/><path d="M657.4,140.8l-4,6.6h8z" fill="none" stroke="#fafafa" stroke-width="1.7" stroke-linejoin="miter"/><path d="M523.5,154.7l-4,6.6h8z" fill="none" stroke="#fafafa" stroke-width="1.7" stroke-linejoin="miter"/><path d="M616.1,164.4l-4,6.6h8z" fill="none" stroke="#fafafa" stroke-width="1.7" stroke-linejoin="miter"/><path d="M575.8,217.6l-4,6.6h8z" fill="none" stroke="#fafafa" stroke-width="1.7" stroke-linejoin="miter"/><path d="M590.2,214.7l-4,6.6h8z" fill="none" stroke="#fafafa" stroke-width="1.7" stroke-linejoin="miter"/><path d="M681.9,222.4l-4,6.6h8z" fill="none" stroke="#fafafa" stroke-width="1.7" stroke-linejoin="miter"/><path d="M699.1,249.8l-4,6.6h8z" fill="none" stroke="#fafafa" stroke-width="1.7" stroke-linejoin="miter"/><path d="M577.7,264.6l-4,6.6h8z" fill="none" stroke="#fafafa" stroke-width="1.7" stroke-linejoin="miter"/><path d="M504.8,311.7l-4,6.6h8z" fill="none" stroke="#fafafa" stroke-width="1.7" stroke-linejoin="miter"/><path d="M525.9,324.6l-4,6.6h8z" fill="none" stroke="#fafafa" stroke-width="1.7" stroke-linejoin="miter"/><path d="M52.8,351.2l-4,6.6h8z" fill="none" stroke="#fafafa" stroke-width="1.7" stroke-linejoin="miter"/><path d="M73.9,353.6l-4,6.6h8z" fill="none" stroke="#fafafa" stroke-width="1.7" stroke-linejoin="miter"/><path d="M86.9,511.9l-4,6.6h8z" fill="none" stroke="#fafafa" stroke-width="1.7" stroke-linejoin="miter"/><path d="M130.5,682.3l-4,6.6h8z" fill="none" stroke="#fafafa" stroke-width="1.7" stroke-linejoin="miter"/><path d="M82.5,691.4l-4,6.6h8z" fill="none" stroke="#fafafa" stroke-width="1.7" stroke-linejoin="miter"/><path d="M641.5,369.0l-4,6.6h8z" fill="none" stroke="#fafafa" stroke-width="1.7" stroke-linejoin="miter"/><path d="M705.4,404.4l-4,6.6h8z" fill="none" stroke="#fafafa" stroke-width="1.7" stroke-linejoin="miter"/><path d="M578.2,454.8l-4,6.6h8z" fill="none" stroke="#fafafa" stroke-width="1.7" stroke-linejoin="miter"/><path d="M545.6,483.6l-4,6.6h8z" fill="none" stroke="#fafafa" stroke-width="1.7" stroke-linejoin="miter"/><path d="M388.7,527.8l-4,6.6h8z" fill="none" stroke="#fafafa" stroke-width="1.7" stroke-linejoin="miter"/><path d="M637.7,521.5l-4,6.6h8z" fill="none" stroke="#fafafa" stroke-width="1.7" stroke-linejoin="miter"/><path d="M551.3,647.7l-4,6.6h8z" fill="none" stroke="#fafafa" stroke-width="1.7" stroke-linejoin="miter"/><path d="M620.0,660.2l-4,6.6h8z" fill="none" stroke="#fafafa" stroke-width="1.7" stroke-linejoin="miter"/><path d="M551.3,676.1l-4,6.6h8z" fill="none" stroke="#fafafa" stroke-width="1.7" stroke-linejoin="miter"/><path d="M619.0,677.5l-4,6.6h8z" fill="none" stroke="#fafafa" stroke-width="1.7" stroke-linejoin="miter"/><path d="M627.2,679.4l-4,6.6h8z" fill="none" stroke="#fafafa" stroke-width="1.7" stroke-linejoin="miter"/><path d="M321.7,228.0l-4,6.6h8z" fill="none" stroke="#fafafa" stroke-width="1.7" stroke-linejoin="miter"/><path d="M275.7,238.7l-4,6.6h8z" fill="none" stroke="#fafafa" stroke-width="1.7" stroke-linejoin="miter"/><path d="M152.3,281.9l-4,6.6h8z" fill="none" stroke="#fafafa" stroke-width="1.7" stroke-linejoin="miter"/><path d="M306.7,324.7l-4,6.6h8z" fill="none" stroke="#fafafa" stroke-width="1.7" stroke-linejoin="miter"/><path d="M230.7,349.3l-4,6.6h8z" fill="none" stroke="#fafafa" stroke-width="1.7" stroke-linejoin="miter"/><path d="M213.6,409.9l-4,6.6h8z" fill="none" stroke="#fafafa" stroke-width="1.7" stroke-linejoin="miter"/></svg>
<div class="sm" style="left:60.50px;top:113.00px;letter-spacing:0.378px;">MNRAS <b>000</b>, <span class="k">1–14</span> (2016)</div>
<div class="sm" style="left:331.00px;top:113.00px;letter-spacing:0.508px;">Preprint 7 October 2018</div>
<div class="sm" style="left:535.70px;top:113.00px;letter-spacing:0.350px;">Compiled using MNRAS L<sup class="la">A</sup>T<sub class="le">E</sub>X style file v3.0</div>
<div class="ti" style="left:61.00px;top:174.00px;letter-spacing:1.463px;">Long-Term Photometry of IC 348 with the YETI Network</div>
<div class="au" style="left:60.50px;top:235.60px;letter-spacing:0.865px;">D. J. Fritzewski,<sup>1,2<svg class="star" viewBox="0 0 10 10"><path d="M5 0L6.2 3.6H10L7 5.9L8.1 9.5L5 7.3L1.9 9.5L3 5.9L0 3.6H3.8Z" fill="#2626cc"/></svg></sup> M. Kitze,<sup>1</sup> M. Mugrauer,<sup>1</sup> R. Neuhäuser,<sup>1</sup></div>
<div class="au" style="left:60.50px;top:261.40px;letter-spacing:0.967px;">C. Adam,<sup>1</sup> C. Briceño,<sup>3</sup> S. Buder,<sup>1,4</sup> T. Butterley,<sup>5</sup> W.-P. Chen,<sup>6</sup> B. Dinçel,<sup>1,7</sup></div>
<div class="au" style="left:60.50px;top:287.20px;letter-spacing:0.948px;">V. S. Dhillon,<sup>8,9</sup> R. Errmann,<sup>1,10</sup> Z. Garai,<sup>11</sup> H. F. W. Gilbert,<sup>1</sup> C. Ginski,<sup>1,12</sup></div>
<div class="au" style="left:60.50px;top:313.00px;letter-spacing:0.942px;">J. Greif,<sup>1</sup> L. K. Hardy,<sup>8</sup> J. Hernández,<sup>13,14</sup> P. C. Huang,<sup>6</sup> A. Kellerer,<sup>15</sup> E. Kundra,<sup>11</sup></div>
<div class="au" style="left:60.50px;top:338.80px;letter-spacing:0.913px;">S. P. Littlefair,<sup>8</sup> M. Mallonn,<sup>2</sup> C. Marka,<sup>1,16</sup> A. Pannicke,<sup>1</sup> T. Pribulla,<sup>11</sup> St. Raetz,<sup>1,17</sup></div>
<div class="au" style="left:60.50px;top:364.60px;letter-spacing:0.952px;">J. G. Schmidt,<sup>1,18</sup> T. O. B. Schmidt,<sup>1,19</sup> M. Seeliger,<sup>1</sup> R. W. Wilson,<sup>5</sup> and V. Wolf<sup>1</sup></div>
<div class="af" style="left:65.00px;top:385.40px;letter-spacing:0.738px;"><sup>1</sup>Astrophysikalisches Institut und Universitäts-Sternwarte Friedrich-Schiller-Universität Jena, Schillergässchen 2-3, 07745 Jena, Germany</div>
<div class="af" style="left:65.00px;top:399.60px;letter-spacing:0.893px;"><sup>2</sup>Leibniz-Institut für Astrophysik (AIP), An der Sternwarte 16, 14482 Potsdam, Germany</div>
<div class="af" style="left:65.00px;top:413.80px;letter-spacing:0.751px;"><sup>3</sup>Cerro Tololo Interamerican Observatory, Casilla Postal 603, La Serena 1700000, Chile</div>
<div class="af" style="left:65.00px;top:428.00px;letter-spacing:0.784px;"><sup>4</sup>Max-Planck-Institut für Astronomie, Königstuhl 17, 69117 Heidelberg, Germany</div>
<div class="af" style="left:65.00px;top:442.20px;letter-spacing:0.875px;"><sup>5</sup>Centre for Advanced Instrumentation, Department of Physics, University of Durham, South Road, Durham DH1 3LE, UK</div>
<div class="af" style="left:65.00px;top:456.40px;letter-spacing:0.822px;"><sup>6</sup>Graduate Institute of Astronomy, National Central University, 300 Jhongda Road, Jhongli 32001, Taiwan</div>
<div class="af" style="left:65.00px;top:470.60px;letter-spacing:0.895px;"><sup>7</sup>Institut für Astronomie und Astrophysik Tübingen, Sand 1, 72076 Tübingen, Germany</div>
<div class="af" style="left:65.00px;top:484.80px;letter-spacing:0.841px;"><sup>8</sup>Department of Physics and Astronomy, University of Sheffield, Sheffield S3 7RH, UK</div>
<div class="af" style="left:65.00px;top:499.00px;letter-spacing:0.803px;"><sup>9</sup>Instituto de Astrofísica de Canarias, 38205 La Laguna, Tenerife, Spain</div>
<div class="af" style="left:65.00px;top:513.20px;letter-spacing:0.828px;"><sup>10</sup>Abbe School of Photonics, Max-Wien-Platz 1, 07743 Jena, Germany</div>
<div class="af" style="left:65.00px;top:527.40px;letter-spacing:0.788px;"><sup>11</sup>Astronomical Institute, Slovak Academy of Sciences, 059 60 Tatranská Lomnica, Slovakia</div>
<div class="af" style="left:65.00px;top:541.60px;letter-spacing:0.840px;"><sup>12</sup>Leiden Observatory, Leiden University, PO Box 9513, 2300 RA Leiden, the Netherlands</div>
<div class="af" style="left:65.00px;top:555.80px;letter-spacing:0.824px;"><sup>13</sup>Centro de Investigaciones de Astronomía, Apdo. Postal 264, Mérida 5101-A, Venezuela</div>
<div class="af" style="left:65.00px;top:570.00px;letter-spacing:0.824px;"><sup>14</sup>Instituto de Astronomía, Universidad Nacional Autónoma de México, Unidad Académica en Ensenada, Ensenada 22860, México</div>
<div class="af" style="left:65.00px;top:584.20px;letter-spacing:0.809px;"><sup>15</sup>Battcock Centre for Experimental Astrophysics, Cavendish Laboratory, Cambridge University, JJ Thompson Avenue,</div>
<div class="af" style="left:65.80px;top:598.40px;letter-spacing:0.870px;">Cambridge, CB3 0HE, UK</div>
<div class="af" style="left:65.00px;top:612.60px;letter-spacing:0.836px;"><sup>16</sup>Instituto Radioastronomía Milimétrica (IRAM), Avenida Divina Pastora 7, E-18012 Granada, Spain</div>
<div class="af" style="left:65.00px;top:626.80px;letter-spacing:0.891px;"><sup>17</sup>ESTEC - SCI-S ESA - European Space Agency, Keplerlaan 1, 2201 AZ Noordwijk, The Netherlands</div>
<div class="af" style="left:65.00px;top:641.00px;letter-spacing:0.812px;"><sup>18</sup>Theoretische Astrophysik, Universität Tübingen, Auf der Morgenstelle 10, 72076 Tübingen, Germany</div>
<div class="af" style="left:65.00px;top:655.20px;letter-spacing:0.727px;"><sup>19</sup>Hamburger Sternwarte, Gojenbergsweg 112, 21029 Hamburg, Germany</div>
<div class="sm2" style="left:60.70px;top:716.40px;letter-spacing:0.221px;">Accepted XXX. Received YYY; in original form ZZZ</div>
<div class="h1" style="left:248.00px;top:762.00px;letter-spacing:1.209px;">ABSTRACT</div>
<div class="ab j" style="left:247.50px;top:778.00px;width:527.50px;letter-spacing:0.522px;">We present long-term photometric observations of the young open cluster IC 348 with</div>
<div class="ab j" style="left:247.50px;top:793.54px;width:527.50px;letter-spacing:0.555px;">a baseline time-scale of 2.4&thinsp;yr. Our study was conducted with several telescopes from</div>
<div class="ab j" style="left:247.50px;top:809.08px;width:527.50px;letter-spacing:0.732px;">the Young Exoplanet Transit Initiative (YETI) network in the Bessel <i>R</i> band to find</div>
<div class="ab j" style="left:247.50px;top:824.62px;width:527.50px;letter-spacing:0.560px;">periodic variability of young stars. We identified 87 stars in IC 348 to be periodically</div>
<div class="ab j" style="left:247.50px;top:840.16px;width:527.50px;letter-spacing:0.759px;">variable; 33 of them were unreported before. Additionally, we detected 61 periodic</div>
<div class="ab j" style="left:247.50px;top:855.70px;width:527.50px;letter-spacing:0.562px;">non-members of which 41 are new discoveries. Our wide field of view was the key to</div>
<div class="ab j" style="left:247.50px;top:871.24px;width:527.50px;letter-spacing:0.784px;">those numerous newly found variable stars. The distribution of rotation periods in</div>
<div class="ab j" style="left:247.50px;top:886.78px;width:527.50px;letter-spacing:0.718px;">IC 348 has always been of special interest. We investigate it further with our newly</div>
<div class="ab j" style="left:247.50px;top:902.32px;width:527.50px;letter-spacing:0.784px;">detected periods but we cannot find a statistically significant bimodality. We also</div>
<div class="ab j" style="left:247.50px;top:917.86px;width:527.50px;letter-spacing:0.784px;">report the detection of a close eclipsing binary in IC 348 composed of a low-mass</div>
<div class="ab j" style="left:247.50px;top:933.40px;width:527.50px;letter-spacing:0.784px;">stellar component (<i>M</i> <span class="gs">&gt;<span>~</span></span> 0.09 M<span class="sun"></span>) and a K0 pre-main sequence star (<i>M</i> ≈ 2.7 M<span class="sun"></span>).</div>
<div class="ab j" style="left:247.50px;top:948.94px;width:527.50px;letter-spacing:0.757px;">Furthermore, we discovered three detached binaries among the background stars in</div>
<div class="ab" style="left:247.50px;top:964.48px;letter-spacing:0.566px;">our field of view and confirmed the period of a fourth one.</div>
<div class="ab j" style="left:247.50px;top:990.20px;width:527.50px;letter-spacing:0.527px;"><b>Key words:</b>&nbsp; stars: variables: general – stars: variables: T Tauri – starspots – binaries:</div>
<div class="ab j" style="left:247.50px;top:1005.50px;width:527.50px;letter-spacing:0.385px;">eclipsing – open clusters and associations: individual: IC 348 – techniques: photometric</div>
<div class="h1" style="left:434.80px;top:1074.20px;letter-spacing:0.807px;">1</div>
<div class="h1" style="left:457.40px;top:1074.20px;letter-spacing:1.153px;">INTRODUCTION</div>
<div class="b j" style="left:434.80px;top:1098.20px;width:339.60px;letter-spacing:0.458px;">The transit technique for finding planetary candidates is ap-</div>
<div class="b j" style="left:434.80px;top:1113.85px;width:339.60px;letter-spacing:0.652px;">plied in several ground-based (e.g. <span class="k">Bakos et al. 2004</span> and</div>
<div class="fn" style="left:61.00px;top:1102.55px;letter-spacing:0.688px;"><svg class="star" viewBox="0 0 10 10"><path d="M5 0L6.2 3.6H10L7 5.9L8.1 9.5L5 7.3L1.9 9.5L3 5.9L0 3.6H3.8Z" fill="#111"/></svg></div>
<div class="fn" style="left:72.40px;top:1103.50px;letter-spacing:0.426px;">E-mail: dfritzewski@aip.de</div>
<div class="fn" style="left:60.30px;top:1134.70px;letter-spacing:0.637px;"><span style="font-size:150%;line-height:0;vertical-align:-0.14em">©</span> 2016 The Authors</div>
<div class="arx" style="left:21.20px;top:910.5px;transform-origin:0 0;transform:rotate(-90deg);letter-spacing:-0.581px">arXiv:1607.06322v1&nbsp; [astro-ph.SR]&nbsp; 21 Jul 2016</div>
<div class="rh" style="left:908.50px;top:109.00px;letter-spacing:1.009px;">2</div>
<div class="rh" style="left:942.80px;top:109.00px;letter-spacing:0.448px;"><i>D. J. Fritzewski et al.</i></div>
<div class="b j" style="left:908.00px;top:145.50px;width:341.00px;letter-spacing:0.652px;"><span class="k">Nutzman &amp; Charbonneau 2008</span>) and space-based surveys</div>
<div class="b j" style="left:908.00px;top:161.17px;width:341.00px;letter-spacing:0.501px;">(e.g. <span class="k">Bordé et al. 2003</span> and <span class="k">Ricker et al. 2014</span>). This work is</div>
<div class="b j" style="left:908.00px;top:176.84px;width:341.00px;letter-spacing:0.610px;">part of a project within the ground-based Young Exoplanet</div>
<div class="b j" style="left:908.00px;top:192.51px;width:341.00px;letter-spacing:0.632px;">Transit Initiative (YETI) (<span class="k">Neuhäuser et al. 2011</span>). We used</div>
<div class="b j" style="left:908.00px;top:208.18px;width:341.00px;letter-spacing:0.652px;">the data obtained by this survey to search for general pe-</div>
<div class="b j" style="left:908.00px;top:223.85px;width:341.00px;letter-spacing:0.652px;">riodic variation in the young open cluster IC 348. For an</div>
<div class="b j" style="left:908.00px;top:239.52px;width:341.00px;letter-spacing:0.652px;">overview on the current state of YETI we refer the reader</div>
<div class="b" style="left:908.00px;top:255.19px;letter-spacing:0.594px;">to the recent work of <span class="k">Garai et al.</span> (<span class="k">2016</span>).</div>
<div class="b j" style="left:908.00px;top:270.86px;width:341.00px;text-indent:25.5px;letter-spacing:0.652px;">In this paper we focus on the young (2&thinsp;Myr, <span class="k">Luhman</span></div>
<div class="b j" style="left:908.00px;top:286.53px;width:341.00px;letter-spacing:0.652px;"><span class="k">et al. 2003</span>), nearby (316&thinsp;pc, <span class="k">Herbig 1998</span>), and compact</div>
<div class="b j" style="left:908.00px;top:302.20px;width:341.00px;letter-spacing:0.652px;">(<i>D</i> ~ 20′, <span class="k">Luhman et al. 2003</span>) open cluster IC 348. It is</div>
<div class="b j" style="left:908.00px;top:317.87px;width:341.00px;letter-spacing:0.641px;">an intensely studied region of ongoing star formation. The</div>
<div class="b j" style="left:908.00px;top:333.54px;width:341.00px;letter-spacing:0.615px;">T-Tauri stars (TTS) found therein by <span class="k">Herbig</span> (<span class="k">1954</span>) played</div>
<div class="b j" style="left:908.00px;top:349.21px;width:341.00px;letter-spacing:0.559px;">an important role in the exploration of star formation (<span class="k">Her-</span></div>
<div class="b j" style="left:908.00px;top:364.88px;width:341.00px;letter-spacing:0.523px;"><span class="k">big 1998</span>). The theory that TTS are young was strengthened</div>
<div class="b j" style="left:908.00px;top:380.55px;width:341.00px;letter-spacing:0.622px;">and later confirmed through colour measurements and the-</div>
<div class="b" style="left:908.00px;top:396.22px;letter-spacing:0.623px;">oretical evolutionary models with the help of those TTS.</div>
<div class="b j" style="left:908.00px;top:411.89px;width:341.00px;text-indent:25.5px;letter-spacing:0.437px;">It is well known that IC 348 is younger than 10&thinsp;Myr but</div>
<div class="b j" style="left:908.00px;top:427.56px;width:341.00px;letter-spacing:0.652px;">its age and the age-spread are still under debate. <span class="k">Luhman</span></div>
<div class="b j" style="left:908.00px;top:443.23px;width:341.00px;letter-spacing:0.652px;"><span class="k">et al.</span> (<span class="k">1998</span>) found an age spread from 0.5&thinsp;Myr to 10&thinsp;Myr</div>
<div class="b j" style="left:908.00px;top:458.90px;width:341.00px;letter-spacing:0.652px;">from the photometric scatter in the colour-magnitude dia-</div>
<div class="b j" style="left:908.00px;top:474.57px;width:341.00px;letter-spacing:0.602px;">gram. A similar wide age-spread was assumed in the Orion</div>
<div class="b j" style="left:908.00px;top:490.24px;width:341.00px;letter-spacing:0.652px;">Nebula Cluster but it was shown by <span class="k">Jeffries et al.</span> (<span class="k">2011</span>)</div>
<div class="b j" style="left:908.00px;top:505.91px;width:341.00px;letter-spacing:0.652px;">that observational and physical effects give rise to the ob-</div>
<div class="b j" style="left:908.00px;top:521.58px;width:341.00px;letter-spacing:0.344px;">served luminosity dispersion. Because of the observed colour</div>
<div class="b j" style="left:908.00px;top:537.25px;width:341.00px;letter-spacing:0.341px;">spread in IC 348 <span class="k">Bell et al.</span> (<span class="k">2013</span>) argues for an age of 6&thinsp;Myr</div>
<div class="b j" style="left:908.00px;top:552.92px;width:341.00px;letter-spacing:0.419px;">for IC 348 while (<span class="k">Luhman et al. 2003</span>) adopted a median age</div>
<div class="b" style="left:908.00px;top:568.59px;letter-spacing:0.638px;">of 2&thinsp;Myr which we use in this work.</div>
<div class="b j" style="left:908.00px;top:584.26px;width:341.00px;text-indent:25.5px;letter-spacing:0.652px;">The stellar content of IC 348 was researched with the</div>
<div class="b j" style="left:908.00px;top:599.93px;width:341.00px;letter-spacing:0.652px;">photometric studies by <span class="k">Herbig</span> (<span class="k">1998</span>) and <span class="k">Luhman et al.</span></div>
<div class="b j" style="left:908.00px;top:615.60px;width:341.00px;letter-spacing:0.652px;">(<span class="k">1998</span>). With the help of the proper motion measurements</div>
<div class="b j" style="left:908.00px;top:631.27px;width:341.00px;letter-spacing:0.652px;">from <span class="k">Scholz et al.</span> (<span class="k">1999</span>) and additional photometric and</div>
<div class="b j" style="left:908.00px;top:646.94px;width:341.00px;letter-spacing:0.652px;">spectroscopic data <span class="k">Luhman et al.</span> (<span class="k">2003</span>) compiled a mem-</div>
<div class="b j" style="left:908.00px;top:662.61px;width:341.00px;letter-spacing:0.391px;">bership catalogue of IC 348, including spectral classification</div>
<div class="b j" style="left:908.00px;top:678.28px;width:341.00px;letter-spacing:0.652px;">for most of its members. This catalogue has recently been</div>
<div class="b j" style="left:908.00px;top:693.95px;width:341.00px;letter-spacing:0.570px;">extended by <span class="k">Luhman et al.</span> (<span class="k">2016</span>) to include 478 members.</div>
<div class="b j" style="left:908.00px;top:709.62px;width:341.00px;letter-spacing:0.388px;">The membership criterion was based on proper motion, posi-</div>
<div class="b j" style="left:908.00px;top:725.29px;width:341.00px;letter-spacing:0.502px;">tion on the colour-magnitude diagram, and spectral features</div>
<div class="b" style="left:908.00px;top:740.96px;letter-spacing:0.586px;">and classification.</div>
<div class="b j" style="left:908.00px;top:756.63px;width:341.00px;text-indent:25.5px;letter-spacing:0.428px;">Using CCD detectors, photometric time-series of differ-</div>
<div class="b j" style="left:908.00px;top:772.30px;width:341.00px;letter-spacing:0.435px;">ent durations and with different fields of view (FoV), but all</div>
<div class="b j" style="left:908.00px;top:787.97px;width:341.00px;letter-spacing:0.652px;">in the <i>I</i> band, have been obtained and published. The first</div>
<div class="b j" style="left:908.00px;top:803.64px;width:341.00px;letter-spacing:0.652px;">time-series of its kind of IC 348 was published by <span class="k">Herbst</span></div>
<div class="b j" style="left:908.00px;top:819.31px;width:341.00px;letter-spacing:0.652px;"><span class="k">et al.</span> (<span class="k">2000b</span>) with a baseline time-scale of four months.</div>
<div class="b j" style="left:908.00px;top:834.98px;width:341.00px;letter-spacing:0.652px;">The FoV was 10.2′ × 10.2′ and the authors found 19 peri-</div>
<div class="b j" style="left:908.00px;top:850.65px;width:341.00px;letter-spacing:0.547px;">odic variable stars near the centre of the cluster. With more</div>
<div class="b j" style="left:908.00px;top:866.32px;width:341.00px;letter-spacing:0.505px;">data from the same survey, <span class="k">Cohen et al.</span> (<span class="k">2004</span>) were able to</div>
<div class="b j" style="left:908.00px;top:881.99px;width:341.00px;letter-spacing:0.358px;">detect 28 periodic variables. Finally, with a baseline of seven</div>
<div class="b j" style="left:908.00px;top:897.66px;width:341.00px;letter-spacing:0.497px;">years, <span class="k">Nordhagen et al.</span> (<span class="k">2006a</span>) found twelve additional pe-</div>
<div class="b j" style="left:908.00px;top:913.33px;width:341.00px;letter-spacing:0.652px;">riodic stars in the same FoV. An independent study with</div>
<div class="b j" style="left:908.00px;top:929.00px;width:341.00px;letter-spacing:0.552px;">deeper photometry was published by <span class="k">Littlefair et al.</span> (<span class="k">2005</span>)</div>
<div class="b j" style="left:908.00px;top:944.67px;width:341.00px;letter-spacing:0.652px;">and found 32 new periodic variables in IC 348. The most</div>
<div class="b j" style="left:908.00px;top:960.34px;width:341.00px;letter-spacing:0.592px;">extensive study so far has been conducted by <span class="k">Cieza &amp; Bal-</span></div>
<div class="b j" style="left:908.00px;top:976.01px;width:341.00px;letter-spacing:0.652px;"><span class="k">iber</span> (<span class="k">2006</span>). The authors used a wider FoV (46.2′ × 46.2′)</div>
<div class="b j" style="left:908.00px;top:991.68px;width:341.00px;letter-spacing:0.614px;">and were able to discover 75 additional periodic variables.</div>
<div class="b j" style="left:908.00px;top:1007.35px;width:341.00px;letter-spacing:0.550px;">Moreover, they combined and analysed all previous studies</div>
<div class="b j" style="left:908.00px;top:1023.02px;width:341.00px;letter-spacing:0.652px;">and counted a total of 106 periodic stars among the mem-</div>
<div class="b j" style="left:908.00px;top:1038.69px;width:341.00px;letter-spacing:0.652px;">bers of IC 348 when applying the membership of <span class="k">Luhman</span></div>
<div class="b" style="left:908.00px;top:1054.36px;letter-spacing:0.564px;"><span class="k">et al.</span> (<span class="k">2016</span>).</div>
<div class="b j" style="left:908.00px;top:1070.03px;width:341.00px;text-indent:25.5px;letter-spacing:0.490px;">The evolution of angular momentum in young stars is a</div>
<div class="b j" style="left:908.00px;top:1085.70px;width:341.00px;letter-spacing:0.435px;">topic of recent research (e.g. <span class="k">Tanveer Karim et al. 2016</span>) and</div>
<div class="b j" style="left:908.00px;top:1101.37px;width:341.00px;letter-spacing:0.532px;">the distribution of rotation periods is a stepping stone to its</div>
<div class="b j" style="left:1283.00px;top:145.50px;width:341.00px;letter-spacing:0.503px;">understanding. Since the discovery of a bimodal period dis-</div>
<div class="b j" style="left:1283.00px;top:161.17px;width:341.00px;letter-spacing:0.580px;">tribution for stars with <i>M</i> &gt; 0.25<i>M</i><span class="sun"></span> in the 1&thinsp;Myr old Orion</div>
<div class="b j" style="left:1283.00px;top:176.84px;width:341.00px;letter-spacing:0.652px;">Nebula Cluster (ONC) by <span class="k">Attridge &amp; Herbst</span> (<span class="k">1992</span>) other</div>
<div class="b j" style="left:1283.00px;top:192.51px;width:341.00px;letter-spacing:0.601px;">open clusters are compared to this young cluster. IC 348 is</div>
<div class="b j" style="left:1283.00px;top:208.18px;width:341.00px;letter-spacing:0.644px;">slightly older and the previous time-series studies came to</div>
<div class="b j" style="left:1283.00px;top:223.85px;width:341.00px;letter-spacing:0.563px;">the conclusion that the period distributions of both clusters</div>
<div class="b j" style="left:1283.00px;top:239.52px;width:341.00px;letter-spacing:0.456px;">look alike. The distribution consists of fast rotators with pe-</div>
<div class="b j" style="left:1283.00px;top:255.19px;width:341.00px;letter-spacing:0.583px;">riods of ~ 2&thinsp;d and slow rotators with periods of ~ 8&thinsp;d. With</div>
<div class="b j" style="left:1283.00px;top:270.86px;width:341.00px;letter-spacing:0.652px;">more rotational periods for the members of IC 348 we can</div>
<div class="b" style="left:1283.00px;top:286.53px;letter-spacing:0.586px;">investigate the distribution in more detail.</div>
<div class="b j" style="left:1283.00px;top:302.20px;width:341.00px;text-indent:25.5px;letter-spacing:0.652px;">In this study, carried out within the YETI network we</div>
<div class="b j" style="left:1283.00px;top:317.87px;width:341.00px;letter-spacing:0.652px;">used an even wider FoV (52.8′ × 52.8′) than any previous</div>
<div class="b j" style="left:1283.00px;top:333.54px;width:341.00px;letter-spacing:0.652px;">studies. With this FoV we can find variabilities in IC 348</div>
<div class="b j" style="left:1283.00px;top:349.21px;width:341.00px;letter-spacing:0.320px;">and its vicinity. Moreover, we used several telescopes located</div>
<div class="b j" style="left:1283.00px;top:364.88px;width:341.00px;letter-spacing:0.532px;">all over the world to achieve a better phase coverage of our</div>
<div class="b" style="left:1283.00px;top:380.55px;letter-spacing:0.597px;">time-series.</div>
<div class="b j" style="left:1283.00px;top:396.22px;width:341.00px;text-indent:25.5px;letter-spacing:0.647px;">The paper starts with an overview of our observations</div>
<div class="b j" style="left:1283.00px;top:411.89px;width:341.00px;letter-spacing:0.652px;">and the data reduction workflow (<span class="k">section 2</span>). Thereafter,</div>
<div class="b j" style="left:1283.00px;top:427.56px;width:341.00px;letter-spacing:0.652px;">we present the results (<span class="k">section 3</span>), starting with variables</div>
<div class="b j" style="left:1283.00px;top:443.23px;width:341.00px;letter-spacing:0.640px;">in IC 348, followed by further results on field stars. In the</div>
<div class="b j" style="left:1283.00px;top:458.90px;width:341.00px;letter-spacing:0.485px;">discussion (<span class="k">section 4</span>) we compare our results with previous</div>
<div class="b" style="left:1283.00px;top:474.57px;letter-spacing:0.584px;">studies.</div>
<div class="h1" style="left:1283.00px;top:537.00px;letter-spacing:0.807px;">2</div>
<div class="h1" style="left:1305.40px;top:537.00px;letter-spacing:1.309px;">OBSERVATIONS AND DATA REDUCTION</div>
<div class="h2" style="left:1283.00px;top:561.50px;letter-spacing:0.673px;">2.1</div>
<div class="h2" style="left:1317.70px;top:561.50px;letter-spacing:0.579px;">Observations</div>
<div class="b j" style="left:1283.00px;top:584.30px;width:341.00px;letter-spacing:0.652px;">IC 348 was observed between 2012 August 22 and 2015</div>
<div class="b j" style="left:1283.00px;top:599.97px;width:341.00px;letter-spacing:0.534px;">January 18 in 125 telescopic nights over three seasons. Ob-</div>
<div class="b j" style="left:1283.00px;top:615.64px;width:341.00px;letter-spacing:0.652px;">servations were carried out by nine telescopes through the</div>
<div class="b j" style="left:1283.00px;top:631.31px;width:341.00px;letter-spacing:0.439px;">YETI network, with a distributed longitudinal coverage (<span class="k">Ta-</span></div>
<div class="b j" style="left:1283.00px;top:646.98px;width:341.00px;letter-spacing:0.652px;"><span class="k">ble 1</span>). The University Observatory Jena alone contributed</div>
<div class="b j" style="left:1283.00px;top:662.65px;width:341.00px;letter-spacing:0.293px;">88 nights. Details on all observations can be found in <span class="k">Table 2</span>.</div>
<div class="b j" style="left:1283.00px;top:678.32px;width:341.00px;letter-spacing:0.652px;">To achieve a good phase coverage three week-long YETI</div>
<div class="b j" style="left:1283.00px;top:693.99px;width:341.00px;letter-spacing:0.652px;">campaigns were performed in which IC 348 was observed</div>
<div class="b j" style="left:1283.00px;top:709.66px;width:341.00px;letter-spacing:0.652px;">from the participating observatories on every clear night.</div>
<div class="b j" style="left:1283.00px;top:725.33px;width:341.00px;letter-spacing:0.491px;">Therefore continuous coverage of IC 348 could be achieved</div>
<div class="b j" style="left:1283.00px;top:741.00px;width:341.00px;letter-spacing:0.512px;">at some nights through combined observations. Overall, the</div>
<div class="b j" style="left:1283.00px;top:756.67px;width:341.00px;letter-spacing:0.525px;">distributed observations resulted in a better phase-coverage</div>
<div class="b j" style="left:1283.00px;top:772.34px;width:341.00px;letter-spacing:0.649px;">of the data. In <span class="k">Figure 1</span> we compare the phase-coverage of</div>
<div class="b j" style="left:1283.00px;top:788.01px;width:341.00px;letter-spacing:0.594px;">YETI data to Jena data alone and the advantage of YETI is</div>
<div class="b j" style="left:1283.00px;top:803.68px;width:341.00px;letter-spacing:0.402px;">clearly visible. For easier interpretation of <span class="k">Figure 1</span> we show</div>
<div class="b j" style="left:1283.00px;top:819.35px;width:341.00px;letter-spacing:0.473px;">the deviation of the curves in addition to the data. The com-</div>
<div class="b j" style="left:1283.00px;top:835.02px;width:341.00px;letter-spacing:0.433px;">bined light curves, compiled from all telescopes, have better</div>
<div class="b j" style="left:1283.00px;top:850.69px;width:341.00px;letter-spacing:0.623px;">phase-coverage in the range of 10&thinsp;d to 25&thinsp;d (25 percentage</div>
<div class="b j" style="left:1283.00px;top:866.36px;width:341.00px;letter-spacing:0.560px;">points) and for periods of the multiple of one day (up to 35</div>
<div class="b j" style="left:1283.00px;top:882.03px;width:341.00px;letter-spacing:0.617px;">percentage points). The better phase-coverage for multiple</div>
<div class="b j" style="left:1283.00px;top:897.70px;width:341.00px;letter-spacing:0.503px;">periods of one day reduces the 1&thinsp;d alias period significantly</div>
<div class="b" style="left:1283.00px;top:913.37px;letter-spacing:0.635px;">when searching for periods.</div>
<div class="b j" style="left:1283.00px;top:929.04px;width:341.00px;text-indent:25.5px;letter-spacing:0.652px;">In Jena the open cluster was observed with the 0.6&thinsp;m</div>
<div class="b j" style="left:1283.00px;top:944.71px;width:341.00px;letter-spacing:0.599px;">Schmidt telescope. We used the Schmidt-Teleskop-Kamera</div>
<div class="b j" style="left:1283.00px;top:960.38px;width:341.00px;letter-spacing:0.652px;">(STK) (<span class="k">Mugrauer &amp; Berthold 2010</span>) with its Bessel <i>R</i> fil-</div>
<div class="b j" style="left:1283.00px;top:976.05px;width:341.00px;letter-spacing:0.652px;">ter and exposed for 50&thinsp;s. The exposure times at other tele-</div>
<div class="b j" style="left:1283.00px;top:991.72px;width:341.00px;letter-spacing:0.519px;">scopes differed because of different apertures, smaller FoV,</div>
<div class="b j" style="left:1283.00px;top:1007.39px;width:341.00px;letter-spacing:0.652px;">and other detectors. Additional <i>BVI</i> images were acquired</div>
<div class="b j" style="left:1283.00px;top:1023.06px;width:341.00px;letter-spacing:0.562px;">on some nights at the University Observatory Jena. Further</div>
<div class="b j" style="left:1283.00px;top:1038.73px;width:341.00px;letter-spacing:0.652px;">observations were carried out with the 0.25&thinsp;m Cassegrain</div>
<div class="b j" style="left:1283.00px;top:1054.40px;width:341.00px;letter-spacing:0.462px;">telescope equipped with the Cassegrain-Teleskop-Kamera II</div>
<div class="b j" style="left:1283.00px;top:1070.07px;width:341.00px;letter-spacing:0.652px;">(CTK-II) (<span class="k">Mugrauer 2016</span>) at the University Observatory</div>
<div class="b j" style="left:1283.00px;top:1085.74px;width:341.00px;letter-spacing:0.600px;">Jena. For those observations we used Bessel <i>V</i> and <i>I</i> filters</div>
<div class="b" style="left:1283.00px;top:1101.41px;letter-spacing:0.630px;">and exposed for 180&thinsp;s.</div>
<div class="ft" style="left:1484.60px;top:1133.50px;letter-spacing:0.134px;">MNRAS <b>000</b>, <span class="k">1–14</span> (2016)</div>
<div class="rh" style="left:2193.00px;top:109.00px;letter-spacing:0.627px;"><i>Long-Term Photometry of IC 34<span style="position:relative;top:1px">8</span></i></div>
<div class="rh" style="left:2462.00px;top:109.00px;letter-spacing:1.009px;">3</div>
<div class="cap j" style="left:1756.40px;top:404.00px;width:714.60px;letter-spacing:0.531px;"><b>Figure 1.</b> Phase coverage of the data for a single star. The dark grey line includes all YETI observations while the light grey line gives</div>
<div class="cap j" style="left:1756.40px;top:417.95px;width:714.60px;letter-spacing:0.478px;">the phase coverage for the observations from the University Observatory Jena. In black the difference of both curves is shown for easier</div>
<div class="cap j" style="left:1756.40px;top:431.90px;width:714.60px;letter-spacing:0.544px;">interpretation. The better phase-coverage for periods of the multiple of one day is clearly visible (spikes), as well as the big advantage</div>
<div class="cap" style="left:1756.40px;top:445.85px;letter-spacing:0.464px;">for periods in the range of 10&thinsp;d to 25&thinsp;d.</div>
<div class="cap j" style="left:1756.40px;top:490.50px;width:714.60px;letter-spacing:0.590px;"><b>Table 1.</b> Overview of the YETI telescopes used for this work. FoV stands for field of view. In Stará Lesná two 0.6&thinsp;m telescopes have</div>
<div class="cap" style="left:1756.40px;top:504.70px;letter-spacing:0.559px;">been used with different detectors. The table is sorted by the number of obtained frames.</div>
<div class="tb" style="left:1765.20px;top:536.20px;letter-spacing:0.521px;">Observatory</div>
<div class="tb" style="left:1871.90px;top:536.20px;letter-spacing:0.513px;">Telescope</div>
<div class="tb" style="left:2088.80px;top:536.20px;letter-spacing:0.530px;transform:translateX(-100%);">Longitude</div>
<div class="tb" style="left:2088.80px;top:550.40px;letter-spacing:0.412px;transform:translateX(-100%);">[°]</div>
<div class="tb" style="left:2161.70px;top:536.20px;letter-spacing:0.483px;transform:translateX(-100%);">Latitude</div>
<div class="tb" style="left:2161.70px;top:550.40px;letter-spacing:0.412px;transform:translateX(-100%);">[°]</div>
<div class="tb" style="left:2206.70px;top:536.20px;letter-spacing:0.688px;transform:translateX(-50%);">FoV</div>
<div class="tb" style="left:2206.70px;top:550.40px;letter-spacing:0.342px;transform:translateX(-50%);">[′]</div>
<div class="tb" style="left:2300.00px;top:536.20px;letter-spacing:0.535px;transform:translateX(-100%);"># Frames</div>
<div class="tb" style="left:2317.50px;top:536.20px;letter-spacing:0.555px;">CCD Detector</div>
<div class="tb" style="left:2466.00px;top:536.20px;letter-spacing:0.454px;transform:translateX(-100%);">Pixel scale</div>
<div class="tb" style="left:2466.00px;top:550.40px;letter-spacing:0.432px;transform:translateX(-100%);">[″/ px]</div>
<div class="tb" style="left:1765.20px;top:573.40px;letter-spacing:0.493px;">Jena<sup><i>a</i></sup></div>
<div class="tb" style="left:1871.90px;top:573.40px;letter-spacing:0.518px;">0.6&thinsp;m Schmidt</div>
<div class="tn" style="left:2088.80px;top:573.40px;transform:translateX(-100%);">11.48416&thinsp;E</div>
<div class="tn" style="left:2161.70px;top:573.40px;transform:translateX(-100%);">50.92888&thinsp;N</div>
<div class="tn" style="left:2206.70px;top:573.40px;transform:translateX(-50%);">52.8&thinsp;×&thinsp;52.8</div>
<div class="tn" style="left:2300.00px;top:573.40px;transform:translateX(-100%);">10&thinsp;808</div>
<div class="tb" style="left:2317.50px;top:573.40px;letter-spacing:0.519px;">e2v 42-10</div>
<div class="tn" style="left:2466.00px;top:573.40px;transform:translateX(-100%);">1.547</div>
<div class="tb" style="left:1765.20px;top:587.60px;letter-spacing:0.493px;">Jena<sup><i>b</i></sup></div>
<div class="tb" style="left:1871.90px;top:587.60px;letter-spacing:0.463px;">0.25  Cassegrain</div>
<div class="tn" style="left:2088.80px;top:587.60px;transform:translateX(-100%);">11.48416&thinsp;E</div>
<div class="tn" style="left:2161.70px;top:587.60px;transform:translateX(-100%);">50.92888&thinsp;N</div>
<div class="tn" style="left:2206.70px;top:587.60px;transform:translateX(-50%);">21.0&thinsp;×&thinsp;20.4</div>
<div class="tn" style="left:2300.00px;top:587.60px;transform:translateX(-100%);">2390</div>
<div class="tb" style="left:2317.50px;top:587.60px;letter-spacing:0.519px;">e2v 47-10</div>
<div class="tn" style="left:2466.00px;top:587.60px;transform:translateX(-100%);">1.193</div>
<div class="tb" style="left:1765.20px;top:601.80px;letter-spacing:0.495px;">Stará Lesná</div>
<div class="tb" style="left:1871.90px;top:601.80px;letter-spacing:0.498px;">0.6&thinsp;m Cassegrain</div>
<div class="tn" style="left:2088.80px;top:601.80px;transform:translateX(-100%);">20.29081&thinsp;E</div>
<div class="tn" style="left:2161.70px;top:601.80px;transform:translateX(-100%);">49.15207&thinsp;N</div>
<div class="tn" style="left:2206.70px;top:601.80px;transform:translateX(-50%);">14&thinsp;×&thinsp;14</div>
<div class="tn" style="left:2300.00px;top:601.80px;transform:translateX(-100%);">1&thinsp;957</div>
<div class="tb" style="left:2317.50px;top:601.80px;letter-spacing:0.609px;">FLI ML3048</div>
<div class="tn" style="left:2466.00px;top:601.80px;transform:translateX(-100%);">0.410</div>
<div class="tn" style="left:2206.70px;top:616.00px;transform:translateX(-50%);">16.9&thinsp;×&thinsp;16.9</div>
<div class="tb" style="left:2317.50px;top:616.00px;letter-spacing:0.583px;">MI G4-9000</div>
<div class="tn" style="left:2466.00px;top:616.00px;transform:translateX(-100%);">0.333</div>
<div class="tb" style="left:1765.20px;top:630.20px;letter-spacing:0.516px;">pt5m, La Palma<sup><i>c</i></sup></div>
<div class="tb" style="left:1871.90px;top:630.20px;letter-spacing:0.523px;">0.5&thinsp;m mod. Dall-Kirkham</div>
<div class="tn" style="left:2088.80px;top:630.20px;transform:translateX(-100%);">17.88188&thinsp;W</div>
<div class="tn" style="left:2161.70px;top:630.20px;transform:translateX(-100%);">28.76058&thinsp;N</div>
<div class="tn" style="left:2206.70px;top:630.20px;transform:translateX(-50%);">10.2&thinsp;×&thinsp;6.9</div>
<div class="tn" style="left:2300.00px;top:630.20px;transform:translateX(-100%);">1&thinsp;050</div>
<div class="tb" style="left:2317.50px;top:630.20px;letter-spacing:0.676px;">KAF-3200ME</div>
<div class="tn" style="left:2466.00px;top:630.20px;transform:translateX(-100%);">0.280</div>
<div class="tb" style="left:1765.20px;top:644.40px;letter-spacing:0.503px;">Lulin</div>
<div class="tb" style="left:1871.90px;top:644.40px;letter-spacing:0.506px;">1&thinsp;m Cassegrain</div>
<div class="tn" style="left:2088.80px;top:644.40px;transform:translateX(-100%);">120.87297&thinsp;E</div>
<div class="tn" style="left:2161.70px;top:644.40px;transform:translateX(-100%);">23.46908&thinsp;N</div>
<div class="tn" style="left:2206.70px;top:644.40px;transform:translateX(-50%);">11.5&thinsp;×&thinsp;11.2</div>
<div class="tn" style="left:2300.00px;top:644.40px;transform:translateX(-100%);">614</div>
<div class="tb" style="left:2317.50px;top:644.40px;letter-spacing:0.519px;">e2v 36-40</div>
<div class="tn" style="left:2466.00px;top:644.40px;transform:translateX(-100%);">0.515</div>
<div class="tb" style="left:1765.20px;top:658.60px;letter-spacing:0.531px;">Tenagra</div>
<div class="tb" style="left:1871.90px;top:658.60px;letter-spacing:0.494px;">0.8&thinsp;m Ritchey-Chrétien</div>
<div class="tn" style="left:2088.80px;top:658.60px;transform:translateX(-100%);">110.98475&thinsp;W</div>
<div class="tn" style="left:2161.70px;top:658.60px;transform:translateX(-100%);">31.55571&thinsp;N</div>
<div class="tn" style="left:2206.70px;top:658.60px;transform:translateX(-50%);">14.8&thinsp;×&thinsp;14.8</div>
<div class="tn" style="left:2300.00px;top:658.60px;transform:translateX(-100%);">584</div>
<div class="tn" style="left:2466.00px;top:658.60px;transform:translateX(-100%);">0.867</div>
<div class="tb" style="left:1765.20px;top:672.80px;letter-spacing:0.534px;">Saitama</div>
<div class="tb" style="left:1871.90px;top:672.80px;letter-spacing:0.497px;">0.55&thinsp;m Ritchey-Chrétien</div>
<div class="tn" style="left:2088.80px;top:672.80px;transform:translateX(-100%);">139.60561&thinsp;E</div>
<div class="tn" style="left:2161.70px;top:672.80px;transform:translateX(-100%);">35.86225&thinsp;N</div>
<div class="tn" style="left:2206.70px;top:672.80px;transform:translateX(-50%);">12.8&thinsp;×&thinsp;12.4</div>
<div class="tn" style="left:2300.00px;top:672.80px;transform:translateX(-100%);">218</div>
<div class="tb" style="left:2317.50px;top:672.80px;letter-spacing:0.628px;">ML4710-1</div>
<div class="tn" style="left:2466.00px;top:672.80px;transform:translateX(-100%);">0.727</div>
<div class="tb" style="left:1765.20px;top:687.00px;letter-spacing:0.567px;">Swarthmore</div>
<div class="tb" style="left:1871.90px;top:687.00px;letter-spacing:0.494px;">0.6&thinsp;m Ritchey-Chrétien</div>
<div class="tn" style="left:2088.80px;top:687.00px;transform:translateX(-100%);">75.35605&thinsp;W</div>
<div class="tn" style="left:2161.70px;top:687.00px;transform:translateX(-100%);">39.90702&thinsp;N</div>
<div class="tn" style="left:2206.70px;top:687.00px;transform:translateX(-50%);">26&thinsp;×&thinsp;26</div>
<div class="tn" style="left:2300.00px;top:687.00px;transform:translateX(-100%);">195</div>
<div class="tb" style="left:2317.50px;top:687.00px;letter-spacing:0.629px;">Apogee U16M</div>
<div class="tn" style="left:2466.00px;top:687.00px;transform:translateX(-100%);">0.381</div>
<div class="tb" style="left:1765.20px;top:701.20px;letter-spacing:0.497px;">Llano del Hato</div>
<div class="tb" style="left:1871.90px;top:701.20px;letter-spacing:0.525px;">1&thinsp;m Cassegrain-Coudé</div>
<div class="tn" style="left:2088.80px;top:701.20px;transform:translateX(-100%);">70.87094&thinsp;W</div>
<div class="tn" style="left:2161.70px;top:701.20px;transform:translateX(-100%);">8.78794&thinsp;N</div>
<div class="tn" style="left:2206.70px;top:701.20px;transform:translateX(-50%);">18.5&thinsp;×&thinsp;18.5</div>
<div class="tn" style="left:2300.00px;top:701.20px;transform:translateX(-100%);">30</div>
<div class="tb" style="left:2317.50px;top:701.20px;letter-spacing:0.519px;">e2v 42-40</div>
<div class="tn" style="left:2466.00px;top:701.20px;transform:translateX(-100%);">0.542</div>
<div class="cap" style="left:1756.40px;top:734.40px;letter-spacing:0.609px;">References: <sup><i>a</i></sup><span class="k">Mugrauer &amp; Berthold</span> (<span class="k">2010</span>), <sup><i>b</i></sup><span class="k">Mugrauer</span> (<span class="k">2016</span>), <sup><i>c</i></sup><span class="k">Hardy et al.</span> (<span class="k">2015</span>)</div>
<div class="cap j" style="left:1756.40px;top:775.20px;width:339.20px;letter-spacing:0.590px;"><b>Table 2.</b> Observational seasons and number of nights with suc-</div>
<div class="cap" style="left:1756.40px;top:789.00px;letter-spacing:0.263px;">cessful observations.</div>
<div class="tb" style="left:1764.60px;top:818.00px;letter-spacing:0.548px;">Season</div>
<div class="tb" style="left:1817.00px;top:818.00px;letter-spacing:0.547px;">Date</div>
<div class="tb" style="left:2072.70px;top:818.00px;letter-spacing:0.511px;transform:translateX(-100%);">Number of nights</div>
<div class="tn" style="left:1799.00px;top:841.20px;transform:translateX(-100%);">1</div>
<div class="tb" style="left:1817.00px;top:841.20px;letter-spacing:0.503px;">2012 Aug. 8 – 2013 Mar. 15</div>
<div class="tn" style="left:2072.70px;top:841.20px;transform:translateX(-100%);">57</div>
<div class="tn" style="left:1799.00px;top:855.45px;transform:translateX(-100%);">2</div>
<div class="tb" style="left:1817.00px;top:855.45px;letter-spacing:0.495px;">2013 Aug. 1 – 2014 Feb. 4</div>
<div class="tn" style="left:2072.70px;top:855.45px;transform:translateX(-100%);">41</div>
<div class="tn" style="left:1799.00px;top:869.70px;transform:translateX(-100%);">3</div>
<div class="tb" style="left:1817.00px;top:869.70px;letter-spacing:0.487px;">2014 Sep. 16 – 2015 Jan. 18</div>
<div class="tn" style="left:2072.70px;top:869.70px;transform:translateX(-100%);">27</div>
<div class="b j" style="left:1756.00px;top:913.30px;width:341.00px;text-indent:25.5px;letter-spacing:0.652px;">In addition to the Jena telescopes we observed with</div>
<div class="b j" style="left:1756.00px;top:928.97px;width:341.00px;letter-spacing:0.652px;">the pt5m telescope on La Palma (<span class="k">Hardy et al. 2015</span>),</div>
<div class="b j" style="left:1756.00px;top:944.64px;width:341.00px;letter-spacing:0.652px;">the 1&thinsp;m Cassegrain at the LOT observatory in Lulin, the</div>
<div class="b j" style="left:1756.00px;top:960.31px;width:341.00px;letter-spacing:0.652px;">1&thinsp;m Cassegrain-Coudé in Llano del Hato, the two 0.6&thinsp;m</div>
<div class="b j" style="left:1756.00px;top:975.98px;width:341.00px;letter-spacing:0.652px;">Cassegrain in Stará Lesná, and the Ritchey-Chrétien tele-</div>
<div class="b j" style="left:1756.00px;top:991.65px;width:341.00px;letter-spacing:0.652px;">scopes of Saitama University, Swarthmore College, and</div>
<div class="b j" style="left:1756.00px;top:1007.32px;width:341.00px;letter-spacing:0.652px;">Tenagra observatory. The locations, diameters, and detec-</div>
<div class="b" style="left:1756.00px;top:1022.99px;letter-spacing:0.598px;">tors of all telescopes used can be found in <span class="k">Table 1</span>.</div>
<div class="b j" style="left:1756.00px;top:1038.66px;width:341.00px;text-indent:25.5px;letter-spacing:0.639px;">Most data were gathered with the STK operated at the</div>
<div class="b j" style="left:1756.00px;top:1054.33px;width:341.00px;letter-spacing:0.385px;">Jena 0.6&thinsp;m Schmidt telescope, therefore the stars which were</div>
<div class="b j" style="left:1756.00px;top:1070.00px;width:341.00px;letter-spacing:0.645px;">analysed are all in the FoV of this telescope. Additionally,</div>
<div class="b j" style="left:1756.00px;top:1085.67px;width:341.00px;letter-spacing:0.652px;">the STK exhibits the widest FoV of all instruments used.</div>
<div class="b j" style="left:1756.00px;top:1101.34px;width:341.00px;letter-spacing:0.649px;">Some telescopes obtained images with deeper photometry.</div>
<div class="b j" style="left:2132.00px;top:769.40px;width:341.00px;letter-spacing:0.450px;">We decided not to use the additional fainter stars from those</div>
<div class="b j" style="left:2132.00px;top:785.21px;width:341.00px;letter-spacing:0.266px;">frames. The sparse coverage of the light curve would not have</div>
<div class="b" style="left:2132.00px;top:801.02px;letter-spacing:0.593px;">given insight to the time-scale we are interested in.</div>
<div class="b j" style="left:2132.00px;top:816.83px;width:341.00px;text-indent:25.5px;letter-spacing:0.307px;">The STK is equipped with a 2048&thinsp;px × 2048&thinsp;px e2v CCD</div>
<div class="b j" style="left:2132.00px;top:832.64px;width:341.00px;letter-spacing:0.582px;">detector with a FoV of 52.8′ × 52.8′ (<span class="k">Mugrauer &amp; Berthold</span></div>
<div class="b j" style="left:2132.00px;top:848.45px;width:341.00px;letter-spacing:0.584px;"><span class="k">2010</span>). The centre of IC 348 was positioned slightly off the</div>
<div class="b j" style="left:2132.00px;top:864.26px;width:341.00px;letter-spacing:0.652px;">centre of the detector to north-east to allow simultaneous</div>
<div class="b j" style="left:2132.00px;top:880.07px;width:341.00px;letter-spacing:0.444px;">observations with the CTK-II (centred at <i>α</i> = 3<sup>h</sup> 45<sup>m</sup> 20<sup>s</sup>, <i>δ</i> =</div>
<div class="b j" style="left:2132.00px;top:895.88px;width:341.00px;letter-spacing:0.652px;">+32° 4′ 50″). From this FoV the 1001 brightest stars have</div>
<div class="b j" style="left:2132.00px;top:911.69px;width:341.00px;letter-spacing:0.458px;">been analysed independent of their membership status down</div>
<div class="b j" style="left:2132.00px;top:927.50px;width:341.00px;letter-spacing:0.503px;">to a limiting magnitude of <i>R</i> = (18.7 ± 0.3) mag. Within our</div>
<div class="b j" style="left:2132.00px;top:943.31px;width:341.00px;letter-spacing:0.602px;">sample 137 stars are members of IC 348 according to <span class="k">Luh-</span></div>
<div class="b j" style="left:2132.00px;top:959.12px;width:341.00px;letter-spacing:0.451px;"><span class="k">man et al.</span> (<span class="k">2016</span>). Further stars are either unidentified mem-</div>
<div class="b" style="left:2132.00px;top:974.93px;letter-spacing:0.626px;">bers, background or foreground stars.</div>
<div class="b j" style="left:2132.00px;top:990.74px;width:341.00px;text-indent:25.5px;letter-spacing:0.652px;">All other telescopes used for this observations have a</div>
<div class="b j" style="left:2132.00px;top:1006.55px;width:341.00px;letter-spacing:0.542px;">smaller FoV. Therefore, they included a tighter area around</div>
<div class="b j" style="left:2132.00px;top:1022.36px;width:341.00px;letter-spacing:0.556px;">IC 348 or covered the whole region with various pointings,</div>
<div class="b j" style="left:2132.00px;top:1038.17px;width:341.00px;letter-spacing:0.652px;">which implies that not all stars of our selection have been</div>
<div class="b" style="left:2132.00px;top:1053.98px;letter-spacing:0.613px;">observed by all telescopes.</div>
<div class="b j" style="left:2132.00px;top:1069.79px;width:341.00px;text-indent:25.5px;letter-spacing:0.330px;">The FoV of the STK is shown in <span class="k">Figure 2</span> as a composite</div>
<div class="b j" style="left:2132.00px;top:1085.60px;width:341.00px;letter-spacing:0.652px;">image of <i>B</i>, <i>V</i>, and <i>R</i> observations. It is dominated by the</div>
<div class="b j" style="left:2132.00px;top:1101.41px;width:341.00px;letter-spacing:0.625px;">bright star Atik (o Per). The open cluster IC 348 lies south</div>
<div class="ft" style="left:1756.00px;top:1134.00px;letter-spacing:0.134px;">MNRAS <b>000</b>, <span class="k">1–14</span> (2016)</div>
<div class="rh" style="left:2604.50px;top:109.00px;letter-spacing:1.009px;">4</div>
<div class="rh" style="left:2638.80px;top:109.00px;letter-spacing:0.448px;"><i>D. J. Fritzewski et al.</i></div>
<div class="b j" style="left:2604.00px;top:145.50px;width:341.00px;letter-spacing:0.551px;">of it and is surrounded by a reflection nebula. In this frame</div>
<div class="b" style="left:2604.00px;top:161.17px;letter-spacing:0.621px;">we marked our observed stars according to their properties.</div>
<div class="h2" style="left:2604.50px;top:208.30px;letter-spacing:0.673px;">2.2</div>
<div class="h2" style="left:2639.40px;top:208.30px;letter-spacing:0.877px;">Data reduction and photometry</div>
<div class="b j" style="left:2604.00px;top:231.60px;width:341.00px;letter-spacing:0.652px;">For every night, in addition to the science frames, darks</div>
<div class="b j" style="left:2604.00px;top:247.27px;width:341.00px;letter-spacing:0.442px;">and flats were obtained. Whenever possible we acquired sky</div>
<div class="b j" style="left:2604.00px;top:262.94px;width:341.00px;letter-spacing:0.415px;">flats, otherwise the nightly dome flats were used. Some tele-</div>
<div class="b j" style="left:2604.00px;top:278.61px;width:341.00px;letter-spacing:0.540px;">scopes included the bias in an overscan region while others</div>
<div class="b j" style="left:2604.00px;top:294.28px;width:341.00px;letter-spacing:0.573px;">produced dedicated bias frames. From those images a stan-</div>
<div class="b j" style="left:2604.00px;top:309.95px;width:341.00px;letter-spacing:0.522px;">dard reduction with dark, bias, and flat field correction was</div>
<div class="b" style="left:2604.00px;top:325.62px;letter-spacing:0.638px;">performed with <span class="sc">iraf</span>.</div>
<div class="b j" style="left:2604.00px;top:341.29px;width:341.00px;text-indent:25.5px;letter-spacing:0.652px;">For every telescopic pointing the data were extracted</div>
<div class="b j" style="left:2604.00px;top:356.96px;width:341.00px;letter-spacing:0.635px;">separately from the reduced images with aperture photom-</div>
<div class="b j" style="left:2604.00px;top:372.63px;width:341.00px;letter-spacing:0.424px;">etry followed by differential photometry. For the differential</div>
<div class="b j" style="left:2604.00px;top:388.30px;width:341.00px;letter-spacing:0.394px;">photometry we used an implementation of the algorithm pre-</div>
<div class="b j" style="left:2604.00px;top:403.97px;width:341.00px;letter-spacing:0.652px;">sented by <span class="k">Broeg et al.</span> (<span class="k">2005</span>), based on the <span class="sc">iraf</span> task <span class="sc">phot</span></div>
<div class="b j" style="left:2604.00px;top:419.64px;width:341.00px;letter-spacing:0.652px;">as described in detail in <span class="k">Errmann et al.</span> (<span class="k">2014</span>). This algo-</div>
<div class="b j" style="left:2604.00px;top:435.31px;width:341.00px;letter-spacing:0.652px;">rithm calculates an artificial star for comparison from all</div>
<div class="b j" style="left:2604.00px;top:450.98px;width:341.00px;letter-spacing:0.587px;">stars in the FoV, weighted according to the standard devia-</div>
<div class="b j" style="left:2604.00px;top:466.65px;width:341.00px;letter-spacing:0.508px;">tion of the differential light curves. From this procedure we</div>
<div class="b" style="left:2604.00px;top:482.32px;letter-spacing:0.608px;">obtained a light curve for each pointing on each night.</div>
<div class="b j" style="left:2604.00px;top:497.99px;width:341.00px;text-indent:25.5px;letter-spacing:0.419px;">In <span class="k">Figure 3</span> the mean photometric precision of one night</div>
<div class="b j" style="left:2604.00px;top:513.66px;width:341.00px;letter-spacing:0.367px;">is shown. The winter night of 2014 December 8 is exemplary</div>
<div class="b j" style="left:2604.00px;top:529.33px;width:341.00px;letter-spacing:0.397px;">and represents the normal conditions achieved at the Univer-</div>
<div class="b j" style="left:2604.00px;top:545.00px;width:341.00px;letter-spacing:0.576px;">sity Observatory Jena. E.g. for a 16&thinsp;mag star a photometric</div>
<div class="b" style="left:2604.00px;top:560.67px;letter-spacing:0.617px;">precision of 0.03&thinsp;mag is reached.</div>
<div class="b j" style="left:2604.00px;top:576.34px;width:341.00px;text-indent:25.5px;letter-spacing:0.525px;">After combining the data for each telescope, by adjust-</div>
<div class="b j" style="left:2604.00px;top:592.01px;width:341.00px;letter-spacing:0.628px;">ing the flux level from night to night, we had to collate all</div>
<div class="b j" style="left:2604.00px;top:607.68px;width:341.00px;letter-spacing:0.473px;">observations of each star obtained with different telescopes.</div>
<div class="b j" style="left:2604.00px;top:623.35px;width:341.00px;letter-spacing:0.531px;">For this step we first searched for periodic variations in the</div>
<div class="b j" style="left:2604.00px;top:639.02px;width:341.00px;letter-spacing:0.440px;">light curves from the Jena observations using the algorithms</div>
<div class="b j" style="left:2604.00px;top:654.69px;width:341.00px;letter-spacing:0.495px;">presented in <span class="k">subsection 2.3</span>. Thereafter, we used the periods</div>
<div class="b j" style="left:2604.00px;top:670.36px;width:341.00px;letter-spacing:0.495px;">to produce phase-folded light curves. Because of the tighter</div>
<div class="b j" style="left:2604.00px;top:686.03px;width:341.00px;letter-spacing:0.430px;">sampling in the phase domain the data from other telescopes</div>
<div class="b j" style="left:2604.00px;top:701.70px;width:341.00px;letter-spacing:0.331px;">can easily be incorporated into the light curve. This was done</div>
<div class="b j" style="left:2604.00px;top:717.37px;width:341.00px;letter-spacing:0.652px;">by adjusting the flux of the observations to the flux of the</div>
<div class="b j" style="left:2604.00px;top:733.04px;width:341.00px;letter-spacing:0.602px;">data with similar phases. The very good phase-coverage of</div>
<div class="b" style="left:2604.00px;top:748.71px;letter-spacing:0.635px;">the Jena data was mandatory for this method.</div>
<div class="b j" style="left:2604.00px;top:764.38px;width:341.00px;text-indent:25.5px;letter-spacing:0.652px;">With only a few nights of multi-band photometry we</div>
<div class="b j" style="left:2604.00px;top:780.05px;width:341.00px;letter-spacing:0.379px;">decided to anchor our photometry to <span class="k">Trullols &amp; Jordi</span> (<span class="k">1997</span>).</div>
<div class="b j" style="left:2604.00px;top:795.72px;width:341.00px;letter-spacing:0.332px;">We used the night of 2014 December 8 for the transformation</div>
<div class="b j" style="left:2604.00px;top:811.39px;width:341.00px;letter-spacing:0.652px;">and all magnitudes used in the current work are based on</div>
<div class="b" style="left:2604.00px;top:827.06px;letter-spacing:0.608px;">this system.</div>
<div class="h2" style="left:2604.50px;top:873.50px;letter-spacing:0.673px;">2.3</div>
<div class="h2" style="left:2639.40px;top:873.50px;letter-spacing:0.770px;">Algorithms used to find periodic variabilities</div>
<div class="b j" style="left:2604.00px;top:897.90px;width:341.00px;letter-spacing:0.652px;">The main goal of this work was to find new periodic pho-</div>
<div class="b j" style="left:2604.00px;top:913.57px;width:341.00px;letter-spacing:0.652px;">tometric variables in IC 348 and to confirm and improve</div>
<div class="b j" style="left:2604.00px;top:929.24px;width:341.00px;letter-spacing:0.531px;">ephemerides of already known variable stars in this cluster.</div>
<div class="b j" style="left:2604.00px;top:944.91px;width:341.00px;letter-spacing:0.414px;">Therefore we applied three different algorithms to detect pe-</div>
<div class="b j" style="left:2604.00px;top:960.58px;width:341.00px;letter-spacing:0.619px;">riodicities in the data. All algorithms have in common that</div>
<div class="b j" style="left:2604.00px;top:976.25px;width:341.00px;letter-spacing:0.486px;">they use a grid of fixed periods as their input. We employed</div>
<div class="b" style="left:2604.00px;top:991.92px;letter-spacing:0.607px;">the same grid for all algorithms to gain comparable results.</div>
<div class="b j" style="left:2604.00px;top:1007.59px;width:341.00px;text-indent:25.5px;letter-spacing:0.288px;">This period grid had a range from <i>P</i><sub>min</sub> = 0.04&thinsp;d (~ 1&thinsp;h) to</div>
<div class="b j" style="left:2604.00px;top:1023.26px;width:341.00px;letter-spacing:0.507px;"><i>P</i><sub>max</sub> = <i>T</i>/3 = 293&thinsp;d (where <i>T</i> is our observational timebase).</div>
<div class="b j" style="left:2604.00px;top:1038.93px;width:341.00px;letter-spacing:0.326px;">We used such a wide range because at least one long-periodic</div>
<div class="b j" style="left:2604.00px;top:1054.60px;width:341.00px;letter-spacing:0.248px;">eclipse is known in IC 348 (<span class="k">Nordhagen et al. 2006b</span>) and more</div>
<div class="b j" style="left:2604.00px;top:1070.27px;width:341.00px;letter-spacing:0.652px;">might be discovered. We chose our lower limit to include</div>
<div class="b j" style="left:2604.00px;top:1085.94px;width:341.00px;letter-spacing:0.649px;">short-term variability but not stellar pulsations. The upper</div>
<div class="b j" style="left:2604.00px;top:1101.61px;width:341.00px;letter-spacing:0.652px;">limit was guided by the decision to include at least three</div>
<div class="b j" style="left:2980.00px;top:145.50px;width:341.00px;letter-spacing:0.470px;">cycles. To save computation time we used an exponentially-</div>
<div class="b j" style="left:2980.00px;top:161.12px;width:341.00px;letter-spacing:0.333px;">spaced grid with <i>n</i> ~ 38 000 points. The resolution of the grid</div>
<div class="b j" style="left:2980.00px;top:176.74px;width:341.00px;letter-spacing:0.498px;">is for the lower limit 1&thinsp;s, for a period of 1&thinsp;d 20&thinsp;s and for the</div>
<div class="b" style="left:2980.00px;top:192.36px;letter-spacing:0.594px;">upper limit of 293&thinsp;d 1.6&thinsp;h.</div>
<div class="b j" style="left:2980.00px;top:207.98px;width:341.00px;text-indent:25.5px;letter-spacing:0.615px;">The first algorithm we used is the widely applied gen-</div>
<div class="b j" style="left:2980.00px;top:223.60px;width:341.00px;letter-spacing:0.584px;">eralized Lomb-Scargle (GLS) periodogram by <span class="k">Zechmeister</span></div>
<div class="b j" style="left:2980.00px;top:239.22px;width:341.00px;letter-spacing:0.652px;"><span class="k">&amp; Kürster</span> (<span class="k">2009</span>). From the periodogram we obtained the</div>
<div class="b j" style="left:2980.00px;top:254.84px;width:341.00px;letter-spacing:0.652px;">spectral power density as a measurement of the certainty</div>
<div class="b j" style="left:2980.00px;top:270.46px;width:341.00px;letter-spacing:0.652px;">of the periodic variations. Although the algorithm is fast</div>
<div class="b j" style="left:2980.00px;top:286.08px;width:341.00px;letter-spacing:0.636px;">and convenient for finding periods it has some drawbacks.</div>
<div class="b j" style="left:2980.00px;top:301.70px;width:341.00px;letter-spacing:0.652px;">It favours signals with sinusoidal shape which can lead to</div>
<div class="b j" style="left:2980.00px;top:317.32px;width:341.00px;letter-spacing:0.510px;">incorrect best-fitting values for non-sinusoidal-shaped light</div>
<div class="b" style="left:2980.00px;top:332.94px;letter-spacing:0.581px;">curves like transits, occultations or eclipsing binaries.</div>
<div class="b j" style="left:2980.00px;top:348.56px;width:341.00px;text-indent:25.5px;letter-spacing:0.612px;">As a second algorithm the minimal string-length algo-</div>
<div class="b j" style="left:2980.00px;top:364.18px;width:341.00px;letter-spacing:0.652px;">rithm by <span class="k">Dworetsky</span> (<span class="k">1983</span>) was used. Unlike the GLS a</div>
<div class="b j" style="left:2980.00px;top:379.80px;width:341.00px;letter-spacing:0.536px;">string-length algorithm can find periodic variabilities of all</div>
<div class="b j" style="left:2980.00px;top:395.42px;width:341.00px;letter-spacing:0.621px;">shapes with the same sensitivity. In this algorithm the sum</div>
<div class="b j" style="left:2980.00px;top:411.04px;width:341.00px;letter-spacing:0.350px;">of the distances of succeeding points in the phase-folded rep-</div>
<div class="b j" style="left:2980.00px;top:426.66px;width:341.00px;letter-spacing:0.309px;">resentation is measured. Because of lower phase-coverage for</div>
<div class="b j" style="left:2980.00px;top:442.28px;width:341.00px;letter-spacing:0.636px;">long periods this method is biased towards longer periods.</div>
<div class="b j" style="left:2980.00px;top:457.90px;width:341.00px;letter-spacing:0.652px;">To correct this effect a sum of a second-order polynomial</div>
<div class="b j" style="left:2980.00px;top:473.52px;width:341.00px;letter-spacing:0.652px;">and an exponential decay was fitted to the output of the</div>
<div class="b j" style="left:2980.00px;top:489.14px;width:341.00px;letter-spacing:0.652px;">algorithm. From the normalized and detrended results we</div>
<div class="b" style="left:2980.00px;top:504.76px;letter-spacing:0.596px;">were able to find the best period.</div>
<div class="b j" style="left:2980.00px;top:520.38px;width:341.00px;text-indent:25.5px;letter-spacing:0.602px;">Our third algorithm was the Gregory-Loredo Bayesian</div>
<div class="b j" style="left:2980.00px;top:536.00px;width:341.00px;letter-spacing:0.652px;">signal detection as presented in <span class="k">Gregory &amp; Loredo</span> (<span class="k">1992</span>)</div>
<div class="b j" style="left:2980.00px;top:551.62px;width:341.00px;letter-spacing:0.643px;">and <span class="k">Gregory</span> (<span class="k">1999</span>). This method uses different step func-</div>
<div class="b j" style="left:2980.00px;top:567.24px;width:341.00px;letter-spacing:0.516px;">tions to calculate the likelihood for a given period based on</div>
<div class="b j" style="left:2980.00px;top:582.86px;width:341.00px;letter-spacing:0.652px;">Bayesian statistics. It is unbiased towards shape and sam-</div>
<div class="b j" style="left:2980.00px;top:598.48px;width:341.00px;letter-spacing:0.549px;">pling of the light curve because the step function can adopt</div>
<div class="b j" style="left:2980.00px;top:614.10px;width:341.00px;letter-spacing:0.652px;">arbitrary shapes. We used the assumption of independent</div>
<div class="b j" style="left:2980.00px;top:629.72px;width:341.00px;letter-spacing:0.625px;">Gaussian errors and directly applied the formulation given</div>
<div class="b" style="left:2980.00px;top:645.34px;letter-spacing:0.665px;">by <span class="k">Gregory</span> (<span class="k">1999</span>).</div>
<div class="b j" style="left:2980.00px;top:660.96px;width:341.00px;text-indent:25.5px;letter-spacing:0.635px;">Each algorithm returned a best period leading to three</div>
<div class="b j" style="left:2980.00px;top:676.58px;width:341.00px;letter-spacing:0.557px;">different values after one run of the algorithms. To find the</div>
<div class="b j" style="left:2980.00px;top:692.20px;width:341.00px;letter-spacing:0.461px;">best period automatically we applied an additional program.</div>
<div class="b j" style="left:2980.00px;top:707.82px;width:341.00px;letter-spacing:0.384px;">Therein we set as an initial selection criterion that two of the</div>
<div class="b j" style="left:2980.00px;top:723.44px;width:341.00px;letter-spacing:0.553px;">three algorithms find the same period within an error range</div>
<div class="b j" style="left:2980.00px;top:739.06px;width:341.00px;letter-spacing:0.652px;">of ten per cent. Afterwards an additional run of the period</div>
<div class="b j" style="left:2980.00px;top:754.68px;width:341.00px;letter-spacing:0.652px;">search was conducted within that ten per cent range of the</div>
<div class="b j" style="left:2980.00px;top:770.30px;width:341.00px;letter-spacing:0.586px;">best period. Now a match within one per cent was required</div>
<div class="b j" style="left:2980.00px;top:785.92px;width:341.00px;letter-spacing:0.652px;">and we used a tighter spacing of the grid. With this crite-</div>
<div class="b j" style="left:2980.00px;top:801.54px;width:341.00px;letter-spacing:0.652px;">rion we were able to use the maxima of the periodograms</div>
<div class="b j" style="left:2980.00px;top:817.16px;width:341.00px;letter-spacing:0.652px;">independently of their power density and were able to de-</div>
<div class="b j" style="left:2980.00px;top:832.78px;width:341.00px;letter-spacing:0.594px;">tect variabilities with low signal-to-noise ratio. To exclude</div>
<div class="b j" style="left:2980.00px;top:848.40px;width:341.00px;letter-spacing:0.510px;">false-detection all phase-folded light curves were examined</div>
<div class="b" style="left:2980.00px;top:864.02px;letter-spacing:0.670px;">manually and non-periodics were removed.</div>
<div class="h1" style="left:2978.90px;top:920.60px;letter-spacing:0.807px;">3</div>
<div class="h1" style="left:3001.70px;top:920.60px;letter-spacing:0.854px;">RESULTS</div>
<div class="b j" style="left:2980.00px;top:945.00px;width:341.00px;letter-spacing:0.652px;">In this section we first present the results for the member</div>
<div class="b j" style="left:2980.00px;top:960.67px;width:341.00px;letter-spacing:0.652px;">stars of IC 348 and later findings for non-members. The</div>
<div class="b" style="left:2980.00px;top:976.34px;letter-spacing:0.644px;">membership is according to <span class="k">Luhman et al.</span> (<span class="k">2016</span>).</div>
<div class="b j" style="left:2980.00px;top:992.01px;width:341.00px;text-indent:25.5px;letter-spacing:0.407px;">If a star has a commonly used name we use this name to</div>
<div class="b j" style="left:2980.00px;top:1007.68px;width:341.00px;letter-spacing:0.433px;">identify it in this section and give other identifiers as a foot-</div>
<div class="b j" style="left:2980.00px;top:1023.35px;width:341.00px;letter-spacing:0.571px;">note. Otherwise we use our internal numbering. The abbre-</div>
<div class="b j" style="left:2980.00px;top:1039.02px;width:341.00px;letter-spacing:0.524px;">viations used in this section are as following: LRL refers to</div>
<div class="b j" style="left:2980.00px;top:1054.69px;width:341.00px;letter-spacing:0.580px;"><span class="k">Luhman et al.</span> (<span class="k">1998</span>) (and subsequent publications), HMW</div>
<div class="b j" style="left:2980.00px;top:1070.36px;width:341.00px;letter-spacing:0.521px;">to <span class="k">Herbst et al.</span> (<span class="k">2000b</span>), CB to <span class="k">Cieza &amp; Baliber</span> (<span class="k">2006</span>), and</div>
<div class="b j" style="left:2980.00px;top:1086.03px;width:341.00px;letter-spacing:0.550px;">FKM to this work. When no distinct identifier is known we</div>
<div class="b" style="left:2980.00px;top:1101.70px;letter-spacing:0.641px;">give the 2MASS name but continue using our identifier.</div>
<div class="ft" style="left:3180.60px;top:1133.50px;letter-spacing:0.134px;">MNRAS <b>000</b>, <span class="k">1–14</span> (2016)</div>
<div class="rh" style="left:3889.00px;top:109.00px;letter-spacing:0.627px;"><i>Long-Term Photometry of IC 34<span style="position:relative;top:1px">8</span></i></div>
<div class="rh" style="left:4158.00px;top:109.00px;letter-spacing:1.009px;">5</div>
<div class="cap j" style="left:3452.00px;top:872.70px;width:715.00px;letter-spacing:0.476px;"><b>Figure 2.</b> <i>BVR</i> image of IC 348 as observed from Jena with STK on 2014 December 8 with an integration time of 50&thinsp;s in each band. The</div>
<div class="cap j" style="left:3452.00px;top:886.90px;width:715.00px;letter-spacing:0.555px;">full STK field of view with a size of 52.8′ × 52.8′ is shown. North is up and East to the left. The open cluster IC 348 is located around</div>
<div class="cap j" style="left:3452.00px;top:901.10px;width:715.00px;letter-spacing:0.570px;">and within the reflection nebula south of the bright star Atik (o Per). Periodically variable members of IC 348 are marked with a (red)</div>
<div class="cap j" style="left:3452.00px;top:915.30px;width:715.00px;letter-spacing:0.499px;">diamond, while all other members detected in this image are marked with a (yellow) square. Non-members for which we found a period</div>
<div class="cap" style="left:3452.00px;top:929.50px;letter-spacing:0.598px;">are marked with a (white) triangle.</div>
<div class="h2" style="left:3452.00px;top:971.70px;letter-spacing:0.673px;">3.1</div>
<div class="h2" style="left:3486.50px;top:971.70px;letter-spacing:0.782px;">Periodic variables in IC 348</div>
<div class="b j" style="left:3452.00px;top:1007.50px;width:341.00px;letter-spacing:0.567px;">With the above mentioned method we were able to identify</div>
<div class="b j" style="left:3452.00px;top:1023.17px;width:341.00px;letter-spacing:0.652px;">87 photometric periodic stars in IC 348. Of those stars 33</div>
<div class="b j" style="left:3452.00px;top:1038.84px;width:341.00px;letter-spacing:0.457px;">have not been reported as periodic before. Including all pre-</div>
<div class="b j" style="left:3452.00px;top:1054.51px;width:341.00px;letter-spacing:0.612px;">vious studies (overview of <span class="k">Cieza &amp; Baliber 2006</span>) the total</div>
<div class="b j" style="left:3452.00px;top:1070.18px;width:341.00px;letter-spacing:0.652px;">number of periodic variables in IC 348 is now 139 out of</div>
<div class="b j" style="left:3452.00px;top:1085.85px;width:341.00px;letter-spacing:0.532px;">478 members. The reasons for non-detections of previously</div>
<div class="b j" style="left:3452.00px;top:1101.52px;width:341.00px;letter-spacing:0.652px;">known periodic variables are discussed in <span class="k">subsection 4.1</span>.</div>
<div class="b j" style="left:3828.00px;top:971.70px;width:341.00px;letter-spacing:0.652px;">Most of the stars are rotating young stars that show spot</div>
<div class="b j" style="left:3828.00px;top:987.37px;width:341.00px;letter-spacing:0.500px;">induced variability, although some periodic variabilities are</div>
<div class="b j" style="left:3828.00px;top:1003.04px;width:341.00px;letter-spacing:0.652px;">due to occultations of proto-planetary discs or accretion.</div>
<div class="b j" style="left:3828.00px;top:1018.71px;width:341.00px;letter-spacing:0.652px;">The results are summarized in <span class="k">Table A1</span> and the phase-</div>
<div class="b j" style="left:3828.00px;top:1034.38px;width:341.00px;letter-spacing:0.446px;">folded light curves are shown in <span class="k">Figure A1</span>. In the following</div>
<div class="b" style="left:3828.00px;top:1050.05px;letter-spacing:0.630px;">paragraphs we will present only some notable variables.</div>
<div class="ft" style="left:3452.00px;top:1134.00px;letter-spacing:0.134px;">MNRAS <b>000</b>, <span class="k">1–14</span> (2016)</div>
</body></html>
